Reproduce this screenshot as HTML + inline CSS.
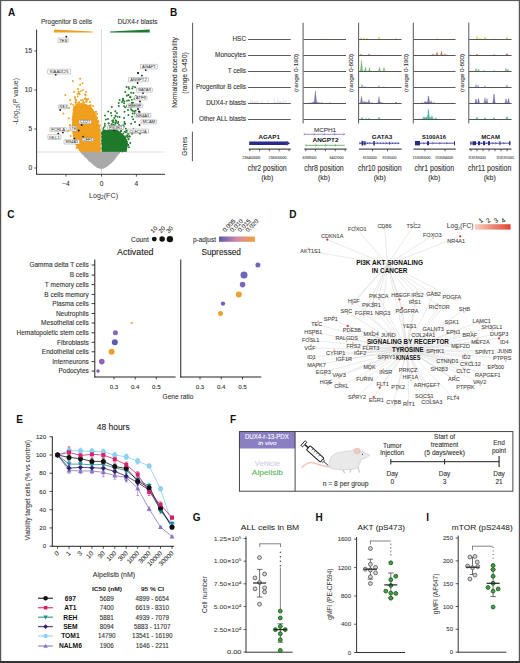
<!DOCTYPE html>
<html><head><meta charset="utf-8"><style>
html,body{margin:0;padding:0;background:#fff;}
svg{display:block;}
text{font-family:"Liberation Sans",sans-serif;}
</style></head><body>
<svg width="520" height="663" viewBox="0 0 520 663">
<rect x="0" y="0" width="520" height="663" fill="#fff"/>
<text x="8.00" y="16.20" font-size="10" fill="#111" font-weight="bold">A</text>
<text x="41.00" y="24.40" font-size="7.0" fill="#333" stroke="#333" stroke-width="0.1" textLength="51.00" lengthAdjust="spacingAndGlyphs">Progenitor B cells</text>
<text x="117.70" y="24.40" font-size="7.0" fill="#333" stroke="#333" stroke-width="0.1" textLength="39.80" lengthAdjust="spacingAndGlyphs">DUX4-r blasts</text>
<path d="M54.00,29.40 L92.50,31.60 L92.50,32.40 L54.00,32.40 Z" fill="#f0a01e" stroke="none" stroke-width="1"/>
<path d="M110.00,31.60 L149.70,29.40 L149.70,32.40 L110.00,32.40 Z" fill="#1f7a2c" stroke="none" stroke-width="1"/>
<line x1="101.50" y1="29.50" x2="101.50" y2="174.00" stroke="#9a9a9a" stroke-width="0.6" stroke-dasharray="1.2,0.8"/>
<path d="M80.00,152.00 L119.50,152.00 L118.50,154.50 L116.50,157.00 L114.50,160.00 L111.50,163.00 L108.00,166.00 L104.50,168.30 L101.00,169.00 L97.50,168.00 L94.00,165.50 L90.00,162.00 L86.50,158.50 L83.00,155.00 Z" fill="#a9a9a9" stroke="none" stroke-width="1"/>
<circle cx="92.95" cy="154.64" r="0.90" fill="#a9a9a9" stroke="none" stroke-width="0.5"/>
<circle cx="106.04" cy="153.27" r="0.90" fill="#a9a9a9" stroke="none" stroke-width="0.5"/>
<circle cx="101.44" cy="158.40" r="0.90" fill="#a9a9a9" stroke="none" stroke-width="0.5"/>
<circle cx="82.79" cy="153.59" r="0.90" fill="#a9a9a9" stroke="none" stroke-width="0.5"/>
<circle cx="96.98" cy="166.47" r="0.90" fill="#a9a9a9" stroke="none" stroke-width="0.5"/>
<circle cx="84.95" cy="155.91" r="0.90" fill="#a9a9a9" stroke="none" stroke-width="0.5"/>
<circle cx="103.08" cy="158.94" r="0.90" fill="#a9a9a9" stroke="none" stroke-width="0.5"/>
<circle cx="119.05" cy="152.82" r="0.90" fill="#a9a9a9" stroke="none" stroke-width="0.5"/>
<circle cx="114.34" cy="157.07" r="0.90" fill="#a9a9a9" stroke="none" stroke-width="0.5"/>
<circle cx="85.77" cy="154.06" r="0.90" fill="#a9a9a9" stroke="none" stroke-width="0.5"/>
<circle cx="105.56" cy="158.52" r="0.90" fill="#a9a9a9" stroke="none" stroke-width="0.5"/>
<circle cx="101.91" cy="153.10" r="0.90" fill="#a9a9a9" stroke="none" stroke-width="0.5"/>
<circle cx="107.22" cy="159.48" r="0.90" fill="#a9a9a9" stroke="none" stroke-width="0.5"/>
<circle cx="92.57" cy="162.25" r="0.90" fill="#a9a9a9" stroke="none" stroke-width="0.5"/>
<circle cx="98.13" cy="157.25" r="0.90" fill="#a9a9a9" stroke="none" stroke-width="0.5"/>
<circle cx="101.01" cy="167.31" r="0.90" fill="#a9a9a9" stroke="none" stroke-width="0.5"/>
<circle cx="109.18" cy="157.04" r="0.90" fill="#a9a9a9" stroke="none" stroke-width="0.5"/>
<circle cx="96.72" cy="165.25" r="0.90" fill="#a9a9a9" stroke="none" stroke-width="0.5"/>
<circle cx="107.81" cy="162.40" r="0.90" fill="#a9a9a9" stroke="none" stroke-width="0.5"/>
<circle cx="103.20" cy="159.98" r="0.90" fill="#a9a9a9" stroke="none" stroke-width="0.5"/>
<circle cx="98.96" cy="163.62" r="0.90" fill="#a9a9a9" stroke="none" stroke-width="0.5"/>
<circle cx="112.88" cy="156.98" r="0.90" fill="#a9a9a9" stroke="none" stroke-width="0.5"/>
<circle cx="95.43" cy="163.70" r="0.90" fill="#a9a9a9" stroke="none" stroke-width="0.5"/>
<circle cx="86.72" cy="154.05" r="0.90" fill="#a9a9a9" stroke="none" stroke-width="0.5"/>
<circle cx="85.17" cy="156.33" r="0.90" fill="#a9a9a9" stroke="none" stroke-width="0.5"/>
<circle cx="101.98" cy="167.46" r="0.90" fill="#a9a9a9" stroke="none" stroke-width="0.5"/>
<circle cx="91.14" cy="159.27" r="0.90" fill="#a9a9a9" stroke="none" stroke-width="0.5"/>
<circle cx="87.05" cy="156.06" r="0.90" fill="#a9a9a9" stroke="none" stroke-width="0.5"/>
<circle cx="89.33" cy="160.49" r="0.90" fill="#a9a9a9" stroke="none" stroke-width="0.5"/>
<circle cx="103.56" cy="156.60" r="0.90" fill="#a9a9a9" stroke="none" stroke-width="0.5"/>
<circle cx="94.77" cy="161.91" r="0.90" fill="#a9a9a9" stroke="none" stroke-width="0.5"/>
<circle cx="100.62" cy="162.81" r="0.90" fill="#a9a9a9" stroke="none" stroke-width="0.5"/>
<circle cx="107.05" cy="152.94" r="0.90" fill="#a9a9a9" stroke="none" stroke-width="0.5"/>
<circle cx="95.70" cy="158.98" r="0.90" fill="#a9a9a9" stroke="none" stroke-width="0.5"/>
<circle cx="82.49" cy="153.18" r="0.90" fill="#a9a9a9" stroke="none" stroke-width="0.5"/>
<circle cx="88.35" cy="154.84" r="0.90" fill="#a9a9a9" stroke="none" stroke-width="0.5"/>
<circle cx="93.60" cy="152.92" r="0.90" fill="#a9a9a9" stroke="none" stroke-width="0.5"/>
<circle cx="104.56" cy="154.60" r="0.90" fill="#a9a9a9" stroke="none" stroke-width="0.5"/>
<circle cx="90.09" cy="158.08" r="0.90" fill="#a9a9a9" stroke="none" stroke-width="0.5"/>
<circle cx="94.57" cy="154.15" r="0.90" fill="#a9a9a9" stroke="none" stroke-width="0.5"/>
<path d="M80.50,152.00 L76.00,146.00 L73.50,139.00 L72.30,132.00 L72.00,124.00 L72.30,116.00 L73.00,110.00 L74.50,106.00 L77.00,104.00 L80.00,103.50 L83.00,104.50 L86.00,104.00 L89.00,105.50 L92.00,108.00 L95.00,112.00 L97.00,117.00 L98.80,124.00 L100.50,130.00 L100.80,152.00 Z" fill="#f0a01e" stroke="none" stroke-width="1"/>
<circle cx="96.45" cy="151.67" r="0.90" fill="#f0a01e" stroke="none" stroke-width="0.5"/>
<circle cx="85.42" cy="126.97" r="0.90" fill="#f0a01e" stroke="none" stroke-width="0.5"/>
<circle cx="74.47" cy="108.46" r="0.90" fill="#f0a01e" stroke="none" stroke-width="0.5"/>
<circle cx="81.87" cy="116.34" r="0.90" fill="#f0a01e" stroke="none" stroke-width="0.5"/>
<circle cx="87.21" cy="110.61" r="0.90" fill="#f0a01e" stroke="none" stroke-width="0.5"/>
<circle cx="87.21" cy="150.96" r="0.90" fill="#f0a01e" stroke="none" stroke-width="0.5"/>
<circle cx="96.86" cy="137.27" r="0.90" fill="#f0a01e" stroke="none" stroke-width="0.5"/>
<circle cx="79.52" cy="121.28" r="0.90" fill="#f0a01e" stroke="none" stroke-width="0.5"/>
<circle cx="76.81" cy="140.94" r="0.90" fill="#f0a01e" stroke="none" stroke-width="0.5"/>
<circle cx="87.34" cy="141.28" r="0.90" fill="#f0a01e" stroke="none" stroke-width="0.5"/>
<circle cx="81.49" cy="114.32" r="0.90" fill="#f0a01e" stroke="none" stroke-width="0.5"/>
<circle cx="95.37" cy="151.27" r="0.90" fill="#f0a01e" stroke="none" stroke-width="0.5"/>
<circle cx="96.56" cy="142.59" r="0.90" fill="#f0a01e" stroke="none" stroke-width="0.5"/>
<circle cx="95.57" cy="139.38" r="0.90" fill="#f0a01e" stroke="none" stroke-width="0.5"/>
<circle cx="78.53" cy="128.61" r="0.90" fill="#f0a01e" stroke="none" stroke-width="0.5"/>
<circle cx="82.24" cy="104.91" r="0.90" fill="#f0a01e" stroke="none" stroke-width="0.5"/>
<circle cx="72.80" cy="117.05" r="0.90" fill="#f0a01e" stroke="none" stroke-width="0.5"/>
<circle cx="79.46" cy="137.09" r="0.90" fill="#f0a01e" stroke="none" stroke-width="0.5"/>
<circle cx="98.99" cy="151.42" r="0.90" fill="#f0a01e" stroke="none" stroke-width="0.5"/>
<circle cx="78.35" cy="114.50" r="0.90" fill="#f0a01e" stroke="none" stroke-width="0.5"/>
<circle cx="77.67" cy="113.41" r="0.90" fill="#f0a01e" stroke="none" stroke-width="0.5"/>
<circle cx="89.97" cy="147.16" r="0.90" fill="#f0a01e" stroke="none" stroke-width="0.5"/>
<circle cx="96.20" cy="126.75" r="0.90" fill="#f0a01e" stroke="none" stroke-width="0.5"/>
<circle cx="90.81" cy="142.28" r="0.90" fill="#f0a01e" stroke="none" stroke-width="0.5"/>
<circle cx="74.44" cy="135.54" r="0.90" fill="#f0a01e" stroke="none" stroke-width="0.5"/>
<circle cx="98.20" cy="141.44" r="0.90" fill="#f0a01e" stroke="none" stroke-width="0.5"/>
<circle cx="93.60" cy="126.68" r="0.90" fill="#f0a01e" stroke="none" stroke-width="0.5"/>
<circle cx="77.14" cy="141.77" r="0.90" fill="#f0a01e" stroke="none" stroke-width="0.5"/>
<circle cx="81.58" cy="142.34" r="0.90" fill="#f0a01e" stroke="none" stroke-width="0.5"/>
<circle cx="83.56" cy="149.42" r="0.90" fill="#f0a01e" stroke="none" stroke-width="0.5"/>
<circle cx="92.87" cy="111.75" r="0.90" fill="#f0a01e" stroke="none" stroke-width="0.5"/>
<circle cx="75.66" cy="110.83" r="0.90" fill="#f0a01e" stroke="none" stroke-width="0.5"/>
<circle cx="98.06" cy="142.62" r="0.90" fill="#f0a01e" stroke="none" stroke-width="0.5"/>
<circle cx="76.21" cy="143.59" r="0.90" fill="#f0a01e" stroke="none" stroke-width="0.5"/>
<circle cx="100.23" cy="135.38" r="0.90" fill="#f0a01e" stroke="none" stroke-width="0.5"/>
<circle cx="82.09" cy="130.11" r="0.90" fill="#f0a01e" stroke="none" stroke-width="0.5"/>
<circle cx="99.96" cy="135.01" r="0.90" fill="#f0a01e" stroke="none" stroke-width="0.5"/>
<circle cx="87.17" cy="148.78" r="0.90" fill="#f0a01e" stroke="none" stroke-width="0.5"/>
<circle cx="84.49" cy="145.78" r="0.90" fill="#f0a01e" stroke="none" stroke-width="0.5"/>
<circle cx="79.25" cy="117.71" r="0.90" fill="#f0a01e" stroke="none" stroke-width="0.5"/>
<circle cx="78.93" cy="131.94" r="0.90" fill="#f0a01e" stroke="none" stroke-width="0.5"/>
<circle cx="79.47" cy="123.82" r="0.90" fill="#f0a01e" stroke="none" stroke-width="0.5"/>
<circle cx="82.19" cy="125.72" r="0.90" fill="#f0a01e" stroke="none" stroke-width="0.5"/>
<circle cx="88.80" cy="147.36" r="0.90" fill="#f0a01e" stroke="none" stroke-width="0.5"/>
<circle cx="84.11" cy="148.01" r="0.90" fill="#f0a01e" stroke="none" stroke-width="0.5"/>
<circle cx="86.45" cy="129.29" r="0.90" fill="#f0a01e" stroke="none" stroke-width="0.5"/>
<circle cx="84.68" cy="112.38" r="0.90" fill="#f0a01e" stroke="none" stroke-width="0.5"/>
<circle cx="76.96" cy="126.46" r="0.90" fill="#f0a01e" stroke="none" stroke-width="0.5"/>
<circle cx="92.89" cy="130.49" r="0.90" fill="#f0a01e" stroke="none" stroke-width="0.5"/>
<circle cx="81.39" cy="128.64" r="0.90" fill="#f0a01e" stroke="none" stroke-width="0.5"/>
<circle cx="88.00" cy="141.54" r="0.90" fill="#f0a01e" stroke="none" stroke-width="0.5"/>
<circle cx="75.06" cy="130.67" r="0.90" fill="#f0a01e" stroke="none" stroke-width="0.5"/>
<circle cx="79.16" cy="116.93" r="0.90" fill="#f0a01e" stroke="none" stroke-width="0.5"/>
<circle cx="94.24" cy="128.12" r="0.90" fill="#f0a01e" stroke="none" stroke-width="0.5"/>
<circle cx="88.18" cy="140.36" r="0.90" fill="#f0a01e" stroke="none" stroke-width="0.5"/>
<circle cx="98.28" cy="125.00" r="0.90" fill="#f0a01e" stroke="none" stroke-width="0.5"/>
<circle cx="89.64" cy="128.02" r="0.90" fill="#f0a01e" stroke="none" stroke-width="0.5"/>
<circle cx="86.75" cy="137.10" r="0.90" fill="#f0a01e" stroke="none" stroke-width="0.5"/>
<circle cx="85.03" cy="129.36" r="0.90" fill="#f0a01e" stroke="none" stroke-width="0.5"/>
<circle cx="85.77" cy="149.16" r="0.90" fill="#f0a01e" stroke="none" stroke-width="0.5"/>
<circle cx="92.14" cy="146.01" r="0.90" fill="#f0a01e" stroke="none" stroke-width="0.5"/>
<circle cx="88.11" cy="149.25" r="0.90" fill="#f0a01e" stroke="none" stroke-width="0.5"/>
<circle cx="75.50" cy="124.94" r="0.90" fill="#f0a01e" stroke="none" stroke-width="0.5"/>
<circle cx="74.09" cy="115.17" r="0.90" fill="#f0a01e" stroke="none" stroke-width="0.5"/>
<circle cx="74.11" cy="135.97" r="0.90" fill="#f0a01e" stroke="none" stroke-width="0.5"/>
<circle cx="94.58" cy="147.01" r="0.90" fill="#f0a01e" stroke="none" stroke-width="0.5"/>
<circle cx="76.45" cy="138.23" r="0.90" fill="#f0a01e" stroke="none" stroke-width="0.5"/>
<circle cx="91.02" cy="110.43" r="0.90" fill="#f0a01e" stroke="none" stroke-width="0.5"/>
<circle cx="97.43" cy="150.43" r="0.90" fill="#f0a01e" stroke="none" stroke-width="0.5"/>
<circle cx="83.47" cy="127.13" r="0.90" fill="#f0a01e" stroke="none" stroke-width="0.5"/>
<circle cx="100.51" cy="143.87" r="0.90" fill="#f0a01e" stroke="none" stroke-width="0.5"/>
<circle cx="76.65" cy="124.43" r="0.90" fill="#f0a01e" stroke="none" stroke-width="0.5"/>
<circle cx="86.85" cy="119.95" r="0.90" fill="#f0a01e" stroke="none" stroke-width="0.5"/>
<circle cx="77.64" cy="118.95" r="0.90" fill="#f0a01e" stroke="none" stroke-width="0.5"/>
<circle cx="87.96" cy="124.86" r="0.90" fill="#f0a01e" stroke="none" stroke-width="0.5"/>
<circle cx="72.52" cy="119.58" r="0.90" fill="#f0a01e" stroke="none" stroke-width="0.5"/>
<circle cx="89.97" cy="128.34" r="0.90" fill="#f0a01e" stroke="none" stroke-width="0.5"/>
<circle cx="94.70" cy="150.63" r="0.90" fill="#f0a01e" stroke="none" stroke-width="0.5"/>
<circle cx="75.02" cy="116.38" r="0.90" fill="#f0a01e" stroke="none" stroke-width="0.5"/>
<circle cx="79.79" cy="109.78" r="0.90" fill="#f0a01e" stroke="none" stroke-width="0.5"/>
<circle cx="84.16" cy="147.70" r="0.90" fill="#f0a01e" stroke="none" stroke-width="0.5"/>
<circle cx="95.59" cy="116.04" r="0.90" fill="#f0a01e" stroke="none" stroke-width="0.5"/>
<circle cx="88.43" cy="137.47" r="0.90" fill="#f0a01e" stroke="none" stroke-width="0.5"/>
<circle cx="74.58" cy="106.29" r="0.90" fill="#f0a01e" stroke="none" stroke-width="0.5"/>
<circle cx="91.82" cy="124.13" r="0.90" fill="#f0a01e" stroke="none" stroke-width="0.5"/>
<circle cx="90.27" cy="142.38" r="0.90" fill="#f0a01e" stroke="none" stroke-width="0.5"/>
<circle cx="85.07" cy="119.95" r="0.90" fill="#f0a01e" stroke="none" stroke-width="0.5"/>
<circle cx="87.93" cy="148.44" r="0.90" fill="#f0a01e" stroke="none" stroke-width="0.5"/>
<circle cx="79.71" cy="109.77" r="0.90" fill="#f0a01e" stroke="none" stroke-width="0.5"/>
<circle cx="87.18" cy="115.06" r="0.90" fill="#f0a01e" stroke="none" stroke-width="0.5"/>
<circle cx="75.15" cy="111.33" r="0.90" fill="#f0a01e" stroke="none" stroke-width="0.5"/>
<circle cx="73.45" cy="113.29" r="0.90" fill="#f0a01e" stroke="none" stroke-width="0.5"/>
<circle cx="80.99" cy="118.29" r="0.90" fill="#f0a01e" stroke="none" stroke-width="0.5"/>
<circle cx="93.87" cy="117.56" r="0.90" fill="#f0a01e" stroke="none" stroke-width="0.5"/>
<circle cx="86.40" cy="112.13" r="0.90" fill="#f0a01e" stroke="none" stroke-width="0.5"/>
<circle cx="81.99" cy="104.38" r="0.90" fill="#f0a01e" stroke="none" stroke-width="0.5"/>
<circle cx="79.21" cy="104.24" r="0.90" fill="#f0a01e" stroke="none" stroke-width="0.5"/>
<circle cx="93.11" cy="130.23" r="0.90" fill="#f0a01e" stroke="none" stroke-width="0.5"/>
<circle cx="77.46" cy="126.53" r="0.90" fill="#f0a01e" stroke="none" stroke-width="0.5"/>
<circle cx="95.58" cy="124.46" r="0.90" fill="#f0a01e" stroke="none" stroke-width="0.5"/>
<circle cx="86.26" cy="143.98" r="0.90" fill="#f0a01e" stroke="none" stroke-width="0.5"/>
<circle cx="83.32" cy="128.07" r="0.90" fill="#f0a01e" stroke="none" stroke-width="0.5"/>
<circle cx="91.81" cy="151.15" r="0.90" fill="#f0a01e" stroke="none" stroke-width="0.5"/>
<circle cx="81.87" cy="143.87" r="0.90" fill="#f0a01e" stroke="none" stroke-width="0.5"/>
<circle cx="92.35" cy="134.34" r="0.90" fill="#f0a01e" stroke="none" stroke-width="0.5"/>
<circle cx="83.66" cy="120.36" r="0.90" fill="#f0a01e" stroke="none" stroke-width="0.5"/>
<circle cx="73.57" cy="109.80" r="0.90" fill="#f0a01e" stroke="none" stroke-width="0.5"/>
<circle cx="74.04" cy="139.43" r="0.90" fill="#f0a01e" stroke="none" stroke-width="0.5"/>
<circle cx="79.36" cy="111.42" r="0.90" fill="#f0a01e" stroke="none" stroke-width="0.5"/>
<circle cx="97.07" cy="136.02" r="0.90" fill="#f0a01e" stroke="none" stroke-width="0.5"/>
<circle cx="80.12" cy="115.25" r="0.90" fill="#f0a01e" stroke="none" stroke-width="0.5"/>
<circle cx="80.44" cy="125.78" r="0.90" fill="#f0a01e" stroke="none" stroke-width="0.5"/>
<circle cx="76.54" cy="125.12" r="0.90" fill="#f0a01e" stroke="none" stroke-width="0.5"/>
<circle cx="79.58" cy="150.15" r="0.90" fill="#f0a01e" stroke="none" stroke-width="0.5"/>
<circle cx="100.01" cy="130.03" r="0.90" fill="#f0a01e" stroke="none" stroke-width="0.5"/>
<circle cx="80.91" cy="120.79" r="0.90" fill="#f0a01e" stroke="none" stroke-width="0.5"/>
<circle cx="85.67" cy="127.88" r="0.90" fill="#f0a01e" stroke="none" stroke-width="0.5"/>
<circle cx="77.79" cy="127.98" r="0.90" fill="#f0a01e" stroke="none" stroke-width="0.5"/>
<circle cx="74.58" cy="122.88" r="0.90" fill="#f0a01e" stroke="none" stroke-width="0.5"/>
<circle cx="80.76" cy="114.79" r="0.90" fill="#f0a01e" stroke="none" stroke-width="0.5"/>
<circle cx="88.86" cy="129.17" r="0.90" fill="#f0a01e" stroke="none" stroke-width="0.5"/>
<circle cx="93.62" cy="135.39" r="0.90" fill="#f0a01e" stroke="none" stroke-width="0.5"/>
<circle cx="92.62" cy="146.14" r="0.90" fill="#f0a01e" stroke="none" stroke-width="0.5"/>
<circle cx="83.22" cy="119.32" r="0.90" fill="#f0a01e" stroke="none" stroke-width="0.5"/>
<circle cx="92.86" cy="134.70" r="0.90" fill="#f0a01e" stroke="none" stroke-width="0.5"/>
<circle cx="97.69" cy="133.93" r="0.90" fill="#f0a01e" stroke="none" stroke-width="0.5"/>
<circle cx="93.13" cy="142.89" r="0.90" fill="#f0a01e" stroke="none" stroke-width="0.5"/>
<circle cx="76.01" cy="128.90" r="0.90" fill="#f0a01e" stroke="none" stroke-width="0.5"/>
<circle cx="86.53" cy="143.99" r="0.90" fill="#f0a01e" stroke="none" stroke-width="0.5"/>
<circle cx="95.17" cy="143.58" r="0.90" fill="#f0a01e" stroke="none" stroke-width="0.5"/>
<circle cx="88.82" cy="146.80" r="0.90" fill="#f0a01e" stroke="none" stroke-width="0.5"/>
<circle cx="91.67" cy="137.13" r="0.90" fill="#f0a01e" stroke="none" stroke-width="0.5"/>
<circle cx="78.62" cy="105.01" r="0.90" fill="#f0a01e" stroke="none" stroke-width="0.5"/>
<circle cx="75.83" cy="120.99" r="0.90" fill="#f0a01e" stroke="none" stroke-width="0.5"/>
<circle cx="88.09" cy="133.95" r="0.90" fill="#f0a01e" stroke="none" stroke-width="0.5"/>
<circle cx="90.04" cy="136.51" r="0.90" fill="#f0a01e" stroke="none" stroke-width="0.5"/>
<circle cx="94.97" cy="139.79" r="0.90" fill="#f0a01e" stroke="none" stroke-width="0.5"/>
<circle cx="86.49" cy="129.46" r="0.90" fill="#f0a01e" stroke="none" stroke-width="0.5"/>
<circle cx="93.22" cy="115.73" r="0.90" fill="#f0a01e" stroke="none" stroke-width="0.5"/>
<circle cx="74.14" cy="116.38" r="0.90" fill="#f0a01e" stroke="none" stroke-width="0.5"/>
<circle cx="93.00" cy="113.45" r="0.90" fill="#f0a01e" stroke="none" stroke-width="0.5"/>
<circle cx="93.31" cy="150.82" r="0.90" fill="#f0a01e" stroke="none" stroke-width="0.5"/>
<circle cx="86.23" cy="122.05" r="0.90" fill="#f0a01e" stroke="none" stroke-width="0.5"/>
<circle cx="85.80" cy="136.66" r="0.90" fill="#f0a01e" stroke="none" stroke-width="0.5"/>
<circle cx="94.09" cy="133.42" r="0.90" fill="#f0a01e" stroke="none" stroke-width="0.5"/>
<circle cx="90.51" cy="107.26" r="0.90" fill="#f0a01e" stroke="none" stroke-width="0.5"/>
<circle cx="76.25" cy="115.82" r="0.90" fill="#f0a01e" stroke="none" stroke-width="0.5"/>
<circle cx="93.40" cy="118.26" r="0.90" fill="#f0a01e" stroke="none" stroke-width="0.5"/>
<circle cx="73.75" cy="116.54" r="0.90" fill="#f0a01e" stroke="none" stroke-width="0.5"/>
<circle cx="91.35" cy="137.07" r="0.90" fill="#f0a01e" stroke="none" stroke-width="0.5"/>
<circle cx="91.46" cy="117.61" r="0.90" fill="#f0a01e" stroke="none" stroke-width="0.5"/>
<circle cx="86.88" cy="126.04" r="0.90" fill="#f0a01e" stroke="none" stroke-width="0.5"/>
<circle cx="85.43" cy="109.25" r="0.90" fill="#f0a01e" stroke="none" stroke-width="0.5"/>
<circle cx="100.17" cy="148.91" r="0.90" fill="#f0a01e" stroke="none" stroke-width="0.5"/>
<circle cx="72.50" cy="125.76" r="0.90" fill="#f0a01e" stroke="none" stroke-width="0.5"/>
<circle cx="95.61" cy="150.45" r="0.90" fill="#f0a01e" stroke="none" stroke-width="0.5"/>
<circle cx="84.94" cy="116.53" r="0.90" fill="#f0a01e" stroke="none" stroke-width="0.5"/>
<circle cx="78.07" cy="131.70" r="0.90" fill="#f0a01e" stroke="none" stroke-width="0.5"/>
<circle cx="76.08" cy="128.92" r="0.90" fill="#f0a01e" stroke="none" stroke-width="0.5"/>
<circle cx="95.62" cy="128.17" r="0.90" fill="#f0a01e" stroke="none" stroke-width="0.5"/>
<circle cx="97.54" cy="137.61" r="0.90" fill="#f0a01e" stroke="none" stroke-width="0.5"/>
<circle cx="78.66" cy="147.04" r="0.90" fill="#f0a01e" stroke="none" stroke-width="0.5"/>
<circle cx="86.00" cy="104.70" r="0.90" fill="#f0a01e" stroke="none" stroke-width="0.5"/>
<circle cx="84.98" cy="118.14" r="0.90" fill="#f0a01e" stroke="none" stroke-width="0.5"/>
<circle cx="76.05" cy="120.18" r="0.90" fill="#f0a01e" stroke="none" stroke-width="0.5"/>
<circle cx="81.10" cy="144.25" r="0.90" fill="#f0a01e" stroke="none" stroke-width="0.5"/>
<circle cx="98.68" cy="138.08" r="0.90" fill="#f0a01e" stroke="none" stroke-width="0.5"/>
<circle cx="82.72" cy="122.56" r="0.90" fill="#f0a01e" stroke="none" stroke-width="0.5"/>
<circle cx="82.39" cy="124.26" r="0.90" fill="#f0a01e" stroke="none" stroke-width="0.5"/>
<circle cx="79.92" cy="105.84" r="0.90" fill="#f0a01e" stroke="none" stroke-width="0.5"/>
<circle cx="80.23" cy="148.88" r="0.90" fill="#f0a01e" stroke="none" stroke-width="0.5"/>
<circle cx="79.18" cy="116.39" r="0.90" fill="#f0a01e" stroke="none" stroke-width="0.5"/>
<circle cx="86.72" cy="112.71" r="0.90" fill="#f0a01e" stroke="none" stroke-width="0.5"/>
<circle cx="82.75" cy="149.87" r="0.90" fill="#f0a01e" stroke="none" stroke-width="0.5"/>
<circle cx="97.47" cy="142.88" r="0.90" fill="#f0a01e" stroke="none" stroke-width="0.5"/>
<circle cx="90.17" cy="147.80" r="0.90" fill="#f0a01e" stroke="none" stroke-width="0.5"/>
<circle cx="99.09" cy="130.14" r="0.90" fill="#f0a01e" stroke="none" stroke-width="0.5"/>
<circle cx="93.09" cy="125.37" r="0.90" fill="#f0a01e" stroke="none" stroke-width="0.5"/>
<circle cx="93.68" cy="134.76" r="0.90" fill="#f0a01e" stroke="none" stroke-width="0.5"/>
<circle cx="80.24" cy="105.88" r="0.90" fill="#f0a01e" stroke="none" stroke-width="0.5"/>
<circle cx="85.60" cy="120.17" r="0.90" fill="#f0a01e" stroke="none" stroke-width="0.5"/>
<circle cx="80.58" cy="139.34" r="0.90" fill="#f0a01e" stroke="none" stroke-width="0.5"/>
<circle cx="90.89" cy="118.09" r="0.90" fill="#f0a01e" stroke="none" stroke-width="0.5"/>
<circle cx="88.05" cy="122.63" r="0.90" fill="#f0a01e" stroke="none" stroke-width="0.5"/>
<circle cx="76.82" cy="111.34" r="0.90" fill="#f0a01e" stroke="none" stroke-width="0.5"/>
<circle cx="77.99" cy="147.44" r="0.90" fill="#f0a01e" stroke="none" stroke-width="0.5"/>
<circle cx="86.32" cy="114.17" r="0.90" fill="#f0a01e" stroke="none" stroke-width="0.5"/>
<circle cx="98.10" cy="151.83" r="0.90" fill="#f0a01e" stroke="none" stroke-width="0.5"/>
<circle cx="84.96" cy="110.27" r="0.90" fill="#f0a01e" stroke="none" stroke-width="0.5"/>
<circle cx="77.54" cy="107.90" r="0.90" fill="#f0a01e" stroke="none" stroke-width="0.5"/>
<circle cx="81.85" cy="107.92" r="0.90" fill="#f0a01e" stroke="none" stroke-width="0.5"/>
<circle cx="78.89" cy="116.03" r="0.90" fill="#f0a01e" stroke="none" stroke-width="0.5"/>
<circle cx="88.40" cy="146.53" r="0.90" fill="#f0a01e" stroke="none" stroke-width="0.5"/>
<circle cx="93.59" cy="123.52" r="0.90" fill="#f0a01e" stroke="none" stroke-width="0.5"/>
<circle cx="83.92" cy="128.92" r="0.90" fill="#f0a01e" stroke="none" stroke-width="0.5"/>
<circle cx="82.85" cy="119.90" r="0.90" fill="#f0a01e" stroke="none" stroke-width="0.5"/>
<circle cx="73.79" cy="116.96" r="0.90" fill="#f0a01e" stroke="none" stroke-width="0.5"/>
<circle cx="86.50" cy="134.04" r="0.90" fill="#f0a01e" stroke="none" stroke-width="0.5"/>
<circle cx="79.81" cy="115.55" r="0.90" fill="#f0a01e" stroke="none" stroke-width="0.5"/>
<circle cx="83.51" cy="125.12" r="0.90" fill="#f0a01e" stroke="none" stroke-width="0.5"/>
<circle cx="99.66" cy="132.43" r="0.95" fill="#f0a01e" stroke="none" stroke-width="0.5"/>
<circle cx="95.94" cy="132.77" r="0.95" fill="#f0a01e" stroke="none" stroke-width="0.5"/>
<circle cx="75.16" cy="97.72" r="0.95" fill="#f0a01e" stroke="none" stroke-width="0.5"/>
<circle cx="99.30" cy="126.09" r="0.95" fill="#f0a01e" stroke="none" stroke-width="0.5"/>
<circle cx="90.72" cy="105.19" r="0.95" fill="#f0a01e" stroke="none" stroke-width="0.5"/>
<circle cx="75.71" cy="102.59" r="0.95" fill="#f0a01e" stroke="none" stroke-width="0.5"/>
<circle cx="83.25" cy="101.18" r="0.95" fill="#f0a01e" stroke="none" stroke-width="0.5"/>
<circle cx="78.81" cy="102.35" r="0.95" fill="#f0a01e" stroke="none" stroke-width="0.5"/>
<circle cx="99.86" cy="125.23" r="0.95" fill="#f0a01e" stroke="none" stroke-width="0.5"/>
<circle cx="80.91" cy="91.09" r="0.95" fill="#f0a01e" stroke="none" stroke-width="0.5"/>
<circle cx="84.18" cy="102.86" r="0.95" fill="#f0a01e" stroke="none" stroke-width="0.5"/>
<circle cx="78.58" cy="91.70" r="0.95" fill="#f0a01e" stroke="none" stroke-width="0.5"/>
<circle cx="95.11" cy="126.96" r="0.95" fill="#f0a01e" stroke="none" stroke-width="0.5"/>
<circle cx="86.64" cy="100.26" r="0.95" fill="#f0a01e" stroke="none" stroke-width="0.5"/>
<circle cx="86.38" cy="99.37" r="0.95" fill="#f0a01e" stroke="none" stroke-width="0.5"/>
<circle cx="73.74" cy="109.67" r="0.95" fill="#f0a01e" stroke="none" stroke-width="0.5"/>
<circle cx="98.05" cy="134.18" r="0.95" fill="#f0a01e" stroke="none" stroke-width="0.5"/>
<circle cx="91.27" cy="108.93" r="0.95" fill="#f0a01e" stroke="none" stroke-width="0.5"/>
<circle cx="82.84" cy="106.58" r="0.95" fill="#f0a01e" stroke="none" stroke-width="0.5"/>
<circle cx="80.11" cy="107.57" r="0.95" fill="#f0a01e" stroke="none" stroke-width="0.5"/>
<circle cx="95.84" cy="111.62" r="0.95" fill="#f0a01e" stroke="none" stroke-width="0.5"/>
<circle cx="77.60" cy="108.21" r="0.95" fill="#f0a01e" stroke="none" stroke-width="0.5"/>
<circle cx="81.83" cy="103.62" r="0.95" fill="#f0a01e" stroke="none" stroke-width="0.5"/>
<circle cx="81.18" cy="103.78" r="0.95" fill="#f0a01e" stroke="none" stroke-width="0.5"/>
<circle cx="98.58" cy="121.70" r="0.95" fill="#f0a01e" stroke="none" stroke-width="0.5"/>
<circle cx="99.75" cy="137.70" r="0.95" fill="#f0a01e" stroke="none" stroke-width="0.5"/>
<circle cx="83.21" cy="102.55" r="0.95" fill="#f0a01e" stroke="none" stroke-width="0.5"/>
<circle cx="95.27" cy="126.92" r="0.95" fill="#f0a01e" stroke="none" stroke-width="0.5"/>
<circle cx="95.86" cy="128.64" r="0.95" fill="#f0a01e" stroke="none" stroke-width="0.5"/>
<circle cx="89.61" cy="106.39" r="0.95" fill="#f0a01e" stroke="none" stroke-width="0.5"/>
<circle cx="81.27" cy="108.09" r="0.95" fill="#f0a01e" stroke="none" stroke-width="0.5"/>
<circle cx="79.17" cy="93.24" r="0.95" fill="#f0a01e" stroke="none" stroke-width="0.5"/>
<circle cx="79.68" cy="94.20" r="0.95" fill="#f0a01e" stroke="none" stroke-width="0.5"/>
<circle cx="92.58" cy="112.35" r="0.95" fill="#f0a01e" stroke="none" stroke-width="0.5"/>
<circle cx="88.44" cy="108.65" r="0.95" fill="#f0a01e" stroke="none" stroke-width="0.5"/>
<circle cx="79.18" cy="102.27" r="0.95" fill="#f0a01e" stroke="none" stroke-width="0.5"/>
<circle cx="88.77" cy="106.32" r="0.95" fill="#f0a01e" stroke="none" stroke-width="0.5"/>
<circle cx="86.71" cy="101.57" r="0.95" fill="#f0a01e" stroke="none" stroke-width="0.5"/>
<circle cx="95.44" cy="122.67" r="0.95" fill="#f0a01e" stroke="none" stroke-width="0.5"/>
<circle cx="96.38" cy="135.72" r="0.95" fill="#f0a01e" stroke="none" stroke-width="0.5"/>
<circle cx="73.17" cy="104.68" r="0.95" fill="#f0a01e" stroke="none" stroke-width="0.5"/>
<circle cx="75.46" cy="99.48" r="0.95" fill="#f0a01e" stroke="none" stroke-width="0.5"/>
<circle cx="76.10" cy="100.20" r="0.95" fill="#f0a01e" stroke="none" stroke-width="0.5"/>
<circle cx="81.05" cy="100.17" r="0.95" fill="#f0a01e" stroke="none" stroke-width="0.5"/>
<circle cx="95.06" cy="117.40" r="0.95" fill="#f0a01e" stroke="none" stroke-width="0.5"/>
<circle cx="83.88" cy="104.17" r="0.95" fill="#f0a01e" stroke="none" stroke-width="0.5"/>
<circle cx="82.55" cy="99.86" r="0.95" fill="#f0a01e" stroke="none" stroke-width="0.5"/>
<circle cx="85.37" cy="98.13" r="0.95" fill="#f0a01e" stroke="none" stroke-width="0.5"/>
<circle cx="76.23" cy="104.16" r="0.95" fill="#f0a01e" stroke="none" stroke-width="0.5"/>
<circle cx="77.72" cy="96.33" r="0.95" fill="#f0a01e" stroke="none" stroke-width="0.5"/>
<circle cx="98.22" cy="121.02" r="0.95" fill="#f0a01e" stroke="none" stroke-width="0.5"/>
<circle cx="87.02" cy="109.18" r="0.95" fill="#f0a01e" stroke="none" stroke-width="0.5"/>
<circle cx="75.57" cy="102.35" r="0.95" fill="#f0a01e" stroke="none" stroke-width="0.5"/>
<circle cx="89.39" cy="117.50" r="0.95" fill="#f0a01e" stroke="none" stroke-width="0.5"/>
<circle cx="90.18" cy="105.31" r="0.95" fill="#f0a01e" stroke="none" stroke-width="0.5"/>
<circle cx="86.20" cy="101.76" r="0.95" fill="#f0a01e" stroke="none" stroke-width="0.5"/>
<circle cx="94.14" cy="129.00" r="0.95" fill="#f0a01e" stroke="none" stroke-width="0.5"/>
<circle cx="85.29" cy="98.98" r="0.95" fill="#f0a01e" stroke="none" stroke-width="0.5"/>
<circle cx="85.72" cy="95.35" r="0.95" fill="#f0a01e" stroke="none" stroke-width="0.5"/>
<circle cx="93.27" cy="128.88" r="0.95" fill="#f0a01e" stroke="none" stroke-width="0.5"/>
<circle cx="86.61" cy="108.89" r="0.95" fill="#f0a01e" stroke="none" stroke-width="0.5"/>
<circle cx="73.90" cy="107.54" r="0.95" fill="#f0a01e" stroke="none" stroke-width="0.5"/>
<circle cx="78.04" cy="103.14" r="0.95" fill="#f0a01e" stroke="none" stroke-width="0.5"/>
<circle cx="86.67" cy="105.95" r="0.95" fill="#f0a01e" stroke="none" stroke-width="0.5"/>
<circle cx="90.45" cy="107.99" r="0.95" fill="#f0a01e" stroke="none" stroke-width="0.5"/>
<circle cx="97.32" cy="117.76" r="0.95" fill="#f0a01e" stroke="none" stroke-width="0.5"/>
<circle cx="90.26" cy="109.71" r="0.95" fill="#f0a01e" stroke="none" stroke-width="0.5"/>
<circle cx="84.83" cy="98.84" r="0.95" fill="#f0a01e" stroke="none" stroke-width="0.5"/>
<circle cx="89.87" cy="111.61" r="0.95" fill="#f0a01e" stroke="none" stroke-width="0.5"/>
<circle cx="75.83" cy="101.36" r="0.95" fill="#f0a01e" stroke="none" stroke-width="0.5"/>
<circle cx="72.90" cy="80.90" r="1.00" fill="#f0a01e" stroke="none" stroke-width="0.5"/>
<circle cx="80.10" cy="78.80" r="1.00" fill="#f0a01e" stroke="none" stroke-width="0.5"/>
<circle cx="82.40" cy="83.30" r="1.00" fill="#f0a01e" stroke="none" stroke-width="0.5"/>
<circle cx="80.10" cy="84.70" r="1.00" fill="#f0a01e" stroke="none" stroke-width="0.5"/>
<circle cx="65.40" cy="95.10" r="1.00" fill="#f0a01e" stroke="none" stroke-width="0.5"/>
<circle cx="63.40" cy="113.50" r="1.00" fill="#f0a01e" stroke="none" stroke-width="0.5"/>
<circle cx="68.80" cy="118.20" r="1.00" fill="#f0a01e" stroke="none" stroke-width="0.5"/>
<circle cx="85.10" cy="94.50" r="1.00" fill="#f0a01e" stroke="none" stroke-width="0.5"/>
<circle cx="77.70" cy="93.80" r="1.00" fill="#f0a01e" stroke="none" stroke-width="0.5"/>
<circle cx="75.00" cy="97.20" r="1.00" fill="#f0a01e" stroke="none" stroke-width="0.5"/>
<circle cx="70.00" cy="100.00" r="1.00" fill="#f0a01e" stroke="none" stroke-width="0.5"/>
<circle cx="88.00" cy="99.00" r="1.00" fill="#f0a01e" stroke="none" stroke-width="0.5"/>
<circle cx="90.00" cy="102.00" r="1.00" fill="#f0a01e" stroke="none" stroke-width="0.5"/>
<circle cx="93.00" cy="106.00" r="1.00" fill="#f0a01e" stroke="none" stroke-width="0.5"/>
<circle cx="69.00" cy="108.00" r="1.00" fill="#f0a01e" stroke="none" stroke-width="0.5"/>
<circle cx="70.00" cy="125.00" r="1.00" fill="#f0a01e" stroke="none" stroke-width="0.5"/>
<circle cx="68.00" cy="131.00" r="1.00" fill="#f0a01e" stroke="none" stroke-width="0.5"/>
<circle cx="96.00" cy="112.00" r="1.00" fill="#f0a01e" stroke="none" stroke-width="0.5"/>
<circle cx="74.00" cy="92.00" r="1.00" fill="#f0a01e" stroke="none" stroke-width="0.5"/>
<circle cx="83.00" cy="90.00" r="1.00" fill="#f0a01e" stroke="none" stroke-width="0.5"/>
<circle cx="86.00" cy="92.00" r="1.00" fill="#f0a01e" stroke="none" stroke-width="0.5"/>
<circle cx="78.00" cy="89.00" r="1.00" fill="#f0a01e" stroke="none" stroke-width="0.5"/>
<circle cx="71.00" cy="104.00" r="1.00" fill="#f0a01e" stroke="none" stroke-width="0.5"/>
<circle cx="97.00" cy="114.00" r="1.00" fill="#f0a01e" stroke="none" stroke-width="0.5"/>
<circle cx="70.50" cy="136.00" r="1.00" fill="#f0a01e" stroke="none" stroke-width="0.5"/>
<circle cx="73.00" cy="143.00" r="1.00" fill="#f0a01e" stroke="none" stroke-width="0.5"/>
<circle cx="76.50" cy="148.00" r="1.00" fill="#f0a01e" stroke="none" stroke-width="0.5"/>
<path d="M101.80,152.00 L101.80,131.00 L104.00,129.50 L107.00,130.00 L110.00,128.50 L113.00,129.50 L116.00,129.00 L119.00,131.00 L121.00,133.00 L124.00,135.00 L126.50,139.00 L128.00,143.00 L127.50,147.00 L126.50,152.00 Z" fill="#1f7a2c" stroke="none" stroke-width="1"/>
<circle cx="101.87" cy="136.84" r="0.90" fill="#1f7a2c" stroke="none" stroke-width="0.5"/>
<circle cx="104.59" cy="136.89" r="0.90" fill="#1f7a2c" stroke="none" stroke-width="0.5"/>
<circle cx="107.68" cy="142.21" r="0.90" fill="#1f7a2c" stroke="none" stroke-width="0.5"/>
<circle cx="117.23" cy="133.30" r="0.90" fill="#1f7a2c" stroke="none" stroke-width="0.5"/>
<circle cx="118.15" cy="139.66" r="0.90" fill="#1f7a2c" stroke="none" stroke-width="0.5"/>
<circle cx="105.33" cy="150.51" r="0.90" fill="#1f7a2c" stroke="none" stroke-width="0.5"/>
<circle cx="108.18" cy="132.01" r="0.90" fill="#1f7a2c" stroke="none" stroke-width="0.5"/>
<circle cx="104.31" cy="143.50" r="0.90" fill="#1f7a2c" stroke="none" stroke-width="0.5"/>
<circle cx="124.63" cy="146.88" r="0.90" fill="#1f7a2c" stroke="none" stroke-width="0.5"/>
<circle cx="112.33" cy="134.71" r="0.90" fill="#1f7a2c" stroke="none" stroke-width="0.5"/>
<circle cx="102.10" cy="143.66" r="0.90" fill="#1f7a2c" stroke="none" stroke-width="0.5"/>
<circle cx="116.53" cy="136.73" r="0.90" fill="#1f7a2c" stroke="none" stroke-width="0.5"/>
<circle cx="118.71" cy="138.93" r="0.90" fill="#1f7a2c" stroke="none" stroke-width="0.5"/>
<circle cx="126.35" cy="145.74" r="0.90" fill="#1f7a2c" stroke="none" stroke-width="0.5"/>
<circle cx="108.31" cy="149.73" r="0.90" fill="#1f7a2c" stroke="none" stroke-width="0.5"/>
<circle cx="102.95" cy="140.99" r="0.90" fill="#1f7a2c" stroke="none" stroke-width="0.5"/>
<circle cx="112.44" cy="134.09" r="0.90" fill="#1f7a2c" stroke="none" stroke-width="0.5"/>
<circle cx="103.33" cy="146.80" r="0.90" fill="#1f7a2c" stroke="none" stroke-width="0.5"/>
<circle cx="102.12" cy="141.45" r="0.90" fill="#1f7a2c" stroke="none" stroke-width="0.5"/>
<circle cx="107.03" cy="142.79" r="0.90" fill="#1f7a2c" stroke="none" stroke-width="0.5"/>
<circle cx="115.08" cy="143.58" r="0.90" fill="#1f7a2c" stroke="none" stroke-width="0.5"/>
<circle cx="109.91" cy="135.56" r="0.90" fill="#1f7a2c" stroke="none" stroke-width="0.5"/>
<circle cx="103.07" cy="149.40" r="0.90" fill="#1f7a2c" stroke="none" stroke-width="0.5"/>
<circle cx="122.31" cy="145.31" r="0.90" fill="#1f7a2c" stroke="none" stroke-width="0.5"/>
<circle cx="101.97" cy="148.34" r="0.90" fill="#1f7a2c" stroke="none" stroke-width="0.5"/>
<circle cx="121.32" cy="139.43" r="0.90" fill="#1f7a2c" stroke="none" stroke-width="0.5"/>
<circle cx="121.23" cy="139.13" r="0.90" fill="#1f7a2c" stroke="none" stroke-width="0.5"/>
<circle cx="107.72" cy="130.97" r="0.90" fill="#1f7a2c" stroke="none" stroke-width="0.5"/>
<circle cx="110.59" cy="146.12" r="0.90" fill="#1f7a2c" stroke="none" stroke-width="0.5"/>
<circle cx="120.01" cy="148.37" r="0.90" fill="#1f7a2c" stroke="none" stroke-width="0.5"/>
<circle cx="120.45" cy="134.75" r="0.90" fill="#1f7a2c" stroke="none" stroke-width="0.5"/>
<circle cx="116.31" cy="138.75" r="0.90" fill="#1f7a2c" stroke="none" stroke-width="0.5"/>
<circle cx="122.46" cy="140.80" r="0.90" fill="#1f7a2c" stroke="none" stroke-width="0.5"/>
<circle cx="108.75" cy="143.59" r="0.90" fill="#1f7a2c" stroke="none" stroke-width="0.5"/>
<circle cx="108.62" cy="134.05" r="0.90" fill="#1f7a2c" stroke="none" stroke-width="0.5"/>
<circle cx="121.29" cy="150.70" r="0.90" fill="#1f7a2c" stroke="none" stroke-width="0.5"/>
<circle cx="121.35" cy="136.18" r="0.90" fill="#1f7a2c" stroke="none" stroke-width="0.5"/>
<circle cx="108.07" cy="149.83" r="0.90" fill="#1f7a2c" stroke="none" stroke-width="0.5"/>
<circle cx="118.32" cy="144.78" r="0.90" fill="#1f7a2c" stroke="none" stroke-width="0.5"/>
<circle cx="119.23" cy="151.51" r="0.90" fill="#1f7a2c" stroke="none" stroke-width="0.5"/>
<circle cx="114.10" cy="148.23" r="0.90" fill="#1f7a2c" stroke="none" stroke-width="0.5"/>
<circle cx="120.08" cy="148.65" r="0.90" fill="#1f7a2c" stroke="none" stroke-width="0.5"/>
<circle cx="113.26" cy="145.53" r="0.90" fill="#1f7a2c" stroke="none" stroke-width="0.5"/>
<circle cx="116.74" cy="135.73" r="0.90" fill="#1f7a2c" stroke="none" stroke-width="0.5"/>
<circle cx="107.35" cy="143.13" r="0.90" fill="#1f7a2c" stroke="none" stroke-width="0.5"/>
<circle cx="103.84" cy="149.90" r="0.90" fill="#1f7a2c" stroke="none" stroke-width="0.5"/>
<circle cx="104.59" cy="150.33" r="0.90" fill="#1f7a2c" stroke="none" stroke-width="0.5"/>
<circle cx="110.84" cy="131.83" r="0.90" fill="#1f7a2c" stroke="none" stroke-width="0.5"/>
<circle cx="119.95" cy="143.40" r="0.90" fill="#1f7a2c" stroke="none" stroke-width="0.5"/>
<circle cx="120.06" cy="145.81" r="0.90" fill="#1f7a2c" stroke="none" stroke-width="0.5"/>
<circle cx="103.52" cy="142.38" r="0.90" fill="#1f7a2c" stroke="none" stroke-width="0.5"/>
<circle cx="111.32" cy="147.71" r="0.90" fill="#1f7a2c" stroke="none" stroke-width="0.5"/>
<circle cx="123.27" cy="149.45" r="0.90" fill="#1f7a2c" stroke="none" stroke-width="0.5"/>
<circle cx="103.53" cy="148.89" r="0.90" fill="#1f7a2c" stroke="none" stroke-width="0.5"/>
<circle cx="125.76" cy="150.69" r="0.90" fill="#1f7a2c" stroke="none" stroke-width="0.5"/>
<circle cx="104.61" cy="133.33" r="0.90" fill="#1f7a2c" stroke="none" stroke-width="0.5"/>
<circle cx="124.01" cy="147.58" r="0.90" fill="#1f7a2c" stroke="none" stroke-width="0.5"/>
<circle cx="118.42" cy="147.89" r="0.90" fill="#1f7a2c" stroke="none" stroke-width="0.5"/>
<circle cx="118.35" cy="135.25" r="0.90" fill="#1f7a2c" stroke="none" stroke-width="0.5"/>
<circle cx="104.42" cy="130.80" r="0.90" fill="#1f7a2c" stroke="none" stroke-width="0.5"/>
<circle cx="110.16" cy="138.46" r="0.90" fill="#1f7a2c" stroke="none" stroke-width="0.5"/>
<circle cx="102.35" cy="134.53" r="0.90" fill="#1f7a2c" stroke="none" stroke-width="0.5"/>
<circle cx="109.20" cy="145.32" r="0.90" fill="#1f7a2c" stroke="none" stroke-width="0.5"/>
<circle cx="111.44" cy="136.04" r="0.90" fill="#1f7a2c" stroke="none" stroke-width="0.5"/>
<circle cx="124.11" cy="143.03" r="0.90" fill="#1f7a2c" stroke="none" stroke-width="0.5"/>
<circle cx="102.61" cy="138.20" r="0.90" fill="#1f7a2c" stroke="none" stroke-width="0.5"/>
<circle cx="113.23" cy="146.67" r="0.90" fill="#1f7a2c" stroke="none" stroke-width="0.5"/>
<circle cx="110.89" cy="145.06" r="0.90" fill="#1f7a2c" stroke="none" stroke-width="0.5"/>
<circle cx="115.89" cy="133.59" r="0.90" fill="#1f7a2c" stroke="none" stroke-width="0.5"/>
<circle cx="101.83" cy="133.25" r="0.90" fill="#1f7a2c" stroke="none" stroke-width="0.5"/>
<circle cx="121.77" cy="151.48" r="0.90" fill="#1f7a2c" stroke="none" stroke-width="0.5"/>
<circle cx="101.91" cy="140.03" r="0.90" fill="#1f7a2c" stroke="none" stroke-width="0.5"/>
<circle cx="114.68" cy="147.22" r="0.90" fill="#1f7a2c" stroke="none" stroke-width="0.5"/>
<circle cx="106.63" cy="140.12" r="0.90" fill="#1f7a2c" stroke="none" stroke-width="0.5"/>
<circle cx="110.90" cy="148.05" r="0.90" fill="#1f7a2c" stroke="none" stroke-width="0.5"/>
<circle cx="108.63" cy="150.68" r="0.90" fill="#1f7a2c" stroke="none" stroke-width="0.5"/>
<circle cx="109.23" cy="133.55" r="0.90" fill="#1f7a2c" stroke="none" stroke-width="0.5"/>
<circle cx="120.13" cy="140.21" r="0.90" fill="#1f7a2c" stroke="none" stroke-width="0.5"/>
<circle cx="104.68" cy="143.46" r="0.90" fill="#1f7a2c" stroke="none" stroke-width="0.5"/>
<circle cx="103.92" cy="147.02" r="0.90" fill="#1f7a2c" stroke="none" stroke-width="0.5"/>
<circle cx="120.07" cy="146.99" r="0.90" fill="#1f7a2c" stroke="none" stroke-width="0.5"/>
<circle cx="118.25" cy="136.86" r="0.90" fill="#1f7a2c" stroke="none" stroke-width="0.5"/>
<circle cx="112.31" cy="137.77" r="0.90" fill="#1f7a2c" stroke="none" stroke-width="0.5"/>
<circle cx="107.20" cy="134.69" r="0.90" fill="#1f7a2c" stroke="none" stroke-width="0.5"/>
<circle cx="125.41" cy="140.28" r="0.90" fill="#1f7a2c" stroke="none" stroke-width="0.5"/>
<circle cx="111.74" cy="149.27" r="0.90" fill="#1f7a2c" stroke="none" stroke-width="0.5"/>
<circle cx="107.92" cy="139.33" r="0.90" fill="#1f7a2c" stroke="none" stroke-width="0.5"/>
<circle cx="115.73" cy="146.23" r="0.90" fill="#1f7a2c" stroke="none" stroke-width="0.5"/>
<circle cx="121.53" cy="143.69" r="0.90" fill="#1f7a2c" stroke="none" stroke-width="0.5"/>
<circle cx="110.93" cy="136.18" r="0.90" fill="#1f7a2c" stroke="none" stroke-width="0.5"/>
<circle cx="105.87" cy="148.31" r="0.90" fill="#1f7a2c" stroke="none" stroke-width="0.5"/>
<circle cx="119.15" cy="145.94" r="0.90" fill="#1f7a2c" stroke="none" stroke-width="0.5"/>
<circle cx="106.24" cy="138.81" r="0.90" fill="#1f7a2c" stroke="none" stroke-width="0.5"/>
<circle cx="122.06" cy="142.11" r="0.90" fill="#1f7a2c" stroke="none" stroke-width="0.5"/>
<circle cx="105.10" cy="139.36" r="0.90" fill="#1f7a2c" stroke="none" stroke-width="0.5"/>
<circle cx="106.82" cy="135.59" r="0.90" fill="#1f7a2c" stroke="none" stroke-width="0.5"/>
<circle cx="120.22" cy="148.33" r="0.90" fill="#1f7a2c" stroke="none" stroke-width="0.5"/>
<circle cx="105.85" cy="132.17" r="0.90" fill="#1f7a2c" stroke="none" stroke-width="0.5"/>
<circle cx="108.29" cy="136.17" r="0.90" fill="#1f7a2c" stroke="none" stroke-width="0.5"/>
<circle cx="115.48" cy="132.28" r="0.90" fill="#1f7a2c" stroke="none" stroke-width="0.5"/>
<circle cx="111.38" cy="125.25" r="0.95" fill="#1f7a2c" stroke="none" stroke-width="0.5"/>
<circle cx="130.27" cy="143.05" r="0.95" fill="#1f7a2c" stroke="none" stroke-width="0.5"/>
<circle cx="104.77" cy="131.68" r="0.95" fill="#1f7a2c" stroke="none" stroke-width="0.5"/>
<circle cx="123.21" cy="133.35" r="0.95" fill="#1f7a2c" stroke="none" stroke-width="0.5"/>
<circle cx="104.92" cy="125.81" r="0.95" fill="#1f7a2c" stroke="none" stroke-width="0.5"/>
<circle cx="113.14" cy="120.12" r="0.95" fill="#1f7a2c" stroke="none" stroke-width="0.5"/>
<circle cx="122.05" cy="135.52" r="0.95" fill="#1f7a2c" stroke="none" stroke-width="0.5"/>
<circle cx="120.27" cy="134.29" r="0.95" fill="#1f7a2c" stroke="none" stroke-width="0.5"/>
<circle cx="128.31" cy="133.19" r="0.95" fill="#1f7a2c" stroke="none" stroke-width="0.5"/>
<circle cx="114.10" cy="126.54" r="0.95" fill="#1f7a2c" stroke="none" stroke-width="0.5"/>
<circle cx="126.69" cy="141.43" r="0.95" fill="#1f7a2c" stroke="none" stroke-width="0.5"/>
<circle cx="120.53" cy="133.98" r="0.95" fill="#1f7a2c" stroke="none" stroke-width="0.5"/>
<circle cx="124.65" cy="142.53" r="0.95" fill="#1f7a2c" stroke="none" stroke-width="0.5"/>
<circle cx="120.18" cy="127.25" r="0.95" fill="#1f7a2c" stroke="none" stroke-width="0.5"/>
<circle cx="114.17" cy="134.02" r="0.95" fill="#1f7a2c" stroke="none" stroke-width="0.5"/>
<circle cx="119.95" cy="132.51" r="0.95" fill="#1f7a2c" stroke="none" stroke-width="0.5"/>
<circle cx="124.52" cy="131.83" r="0.95" fill="#1f7a2c" stroke="none" stroke-width="0.5"/>
<circle cx="129.27" cy="136.13" r="0.95" fill="#1f7a2c" stroke="none" stroke-width="0.5"/>
<circle cx="126.01" cy="136.22" r="0.95" fill="#1f7a2c" stroke="none" stroke-width="0.5"/>
<circle cx="112.18" cy="120.87" r="0.95" fill="#1f7a2c" stroke="none" stroke-width="0.5"/>
<circle cx="109.81" cy="132.19" r="0.95" fill="#1f7a2c" stroke="none" stroke-width="0.5"/>
<circle cx="112.08" cy="127.75" r="0.95" fill="#1f7a2c" stroke="none" stroke-width="0.5"/>
<circle cx="129.25" cy="136.39" r="0.95" fill="#1f7a2c" stroke="none" stroke-width="0.5"/>
<circle cx="113.25" cy="126.00" r="0.95" fill="#1f7a2c" stroke="none" stroke-width="0.5"/>
<circle cx="125.44" cy="139.93" r="0.95" fill="#1f7a2c" stroke="none" stroke-width="0.5"/>
<circle cx="125.71" cy="145.93" r="0.95" fill="#1f7a2c" stroke="none" stroke-width="0.5"/>
<circle cx="115.47" cy="128.71" r="0.95" fill="#1f7a2c" stroke="none" stroke-width="0.5"/>
<circle cx="117.81" cy="123.13" r="0.95" fill="#1f7a2c" stroke="none" stroke-width="0.5"/>
<circle cx="126.15" cy="130.71" r="0.95" fill="#1f7a2c" stroke="none" stroke-width="0.5"/>
<circle cx="112.78" cy="127.37" r="0.95" fill="#1f7a2c" stroke="none" stroke-width="0.5"/>
<circle cx="114.24" cy="125.13" r="0.95" fill="#1f7a2c" stroke="none" stroke-width="0.5"/>
<circle cx="110.01" cy="127.08" r="0.95" fill="#1f7a2c" stroke="none" stroke-width="0.5"/>
<circle cx="121.05" cy="130.96" r="0.95" fill="#1f7a2c" stroke="none" stroke-width="0.5"/>
<circle cx="128.92" cy="147.20" r="0.95" fill="#1f7a2c" stroke="none" stroke-width="0.5"/>
<circle cx="128.25" cy="144.87" r="0.95" fill="#1f7a2c" stroke="none" stroke-width="0.5"/>
<circle cx="120.95" cy="127.25" r="0.95" fill="#1f7a2c" stroke="none" stroke-width="0.5"/>
<circle cx="104.76" cy="123.71" r="0.95" fill="#1f7a2c" stroke="none" stroke-width="0.5"/>
<circle cx="111.92" cy="124.04" r="0.95" fill="#1f7a2c" stroke="none" stroke-width="0.5"/>
<circle cx="128.20" cy="145.13" r="0.95" fill="#1f7a2c" stroke="none" stroke-width="0.5"/>
<circle cx="118.01" cy="127.73" r="0.95" fill="#1f7a2c" stroke="none" stroke-width="0.5"/>
<circle cx="108.64" cy="123.60" r="0.95" fill="#1f7a2c" stroke="none" stroke-width="0.5"/>
<circle cx="116.20" cy="120.93" r="0.95" fill="#1f7a2c" stroke="none" stroke-width="0.5"/>
<circle cx="115.44" cy="123.77" r="0.95" fill="#1f7a2c" stroke="none" stroke-width="0.5"/>
<circle cx="116.15" cy="135.44" r="0.95" fill="#1f7a2c" stroke="none" stroke-width="0.5"/>
<circle cx="112.75" cy="132.82" r="0.95" fill="#1f7a2c" stroke="none" stroke-width="0.5"/>
<circle cx="116.71" cy="134.99" r="0.95" fill="#1f7a2c" stroke="none" stroke-width="0.5"/>
<circle cx="112.49" cy="134.66" r="0.95" fill="#1f7a2c" stroke="none" stroke-width="0.5"/>
<circle cx="107.95" cy="133.36" r="0.95" fill="#1f7a2c" stroke="none" stroke-width="0.5"/>
<circle cx="125.94" cy="128.67" r="0.95" fill="#1f7a2c" stroke="none" stroke-width="0.5"/>
<circle cx="125.97" cy="132.32" r="0.95" fill="#1f7a2c" stroke="none" stroke-width="0.5"/>
<circle cx="116.51" cy="127.97" r="0.95" fill="#1f7a2c" stroke="none" stroke-width="0.5"/>
<circle cx="111.46" cy="129.46" r="0.95" fill="#1f7a2c" stroke="none" stroke-width="0.5"/>
<circle cx="127.66" cy="137.00" r="0.95" fill="#1f7a2c" stroke="none" stroke-width="0.5"/>
<circle cx="103.25" cy="128.91" r="0.95" fill="#1f7a2c" stroke="none" stroke-width="0.5"/>
<circle cx="128.71" cy="139.09" r="0.95" fill="#1f7a2c" stroke="none" stroke-width="0.5"/>
<circle cx="128.37" cy="139.19" r="0.95" fill="#1f7a2c" stroke="none" stroke-width="0.5"/>
<circle cx="122.13" cy="138.68" r="0.95" fill="#1f7a2c" stroke="none" stroke-width="0.5"/>
<circle cx="121.68" cy="126.01" r="0.95" fill="#1f7a2c" stroke="none" stroke-width="0.5"/>
<circle cx="121.28" cy="134.11" r="0.95" fill="#1f7a2c" stroke="none" stroke-width="0.5"/>
<circle cx="120.95" cy="131.17" r="0.95" fill="#1f7a2c" stroke="none" stroke-width="0.5"/>
<circle cx="125.82" cy="144.96" r="0.95" fill="#1f7a2c" stroke="none" stroke-width="0.5"/>
<circle cx="118.21" cy="127.51" r="0.95" fill="#1f7a2c" stroke="none" stroke-width="0.5"/>
<circle cx="110.62" cy="132.92" r="0.95" fill="#1f7a2c" stroke="none" stroke-width="0.5"/>
<circle cx="111.10" cy="133.21" r="0.95" fill="#1f7a2c" stroke="none" stroke-width="0.5"/>
<circle cx="125.46" cy="137.99" r="0.95" fill="#1f7a2c" stroke="none" stroke-width="0.5"/>
<circle cx="128.62" cy="133.73" r="0.95" fill="#1f7a2c" stroke="none" stroke-width="0.5"/>
<circle cx="113.84" cy="122.37" r="0.95" fill="#1f7a2c" stroke="none" stroke-width="0.5"/>
<circle cx="120.62" cy="126.01" r="0.95" fill="#1f7a2c" stroke="none" stroke-width="0.5"/>
<circle cx="122.81" cy="126.99" r="0.95" fill="#1f7a2c" stroke="none" stroke-width="0.5"/>
<circle cx="123.22" cy="125.18" r="0.95" fill="#1f7a2c" stroke="none" stroke-width="0.5"/>
<circle cx="103.86" cy="127.35" r="0.95" fill="#1f7a2c" stroke="none" stroke-width="0.5"/>
<circle cx="128.40" cy="131.91" r="0.95" fill="#1f7a2c" stroke="none" stroke-width="0.5"/>
<circle cx="129.00" cy="88.72" r="0.95" fill="#1f7a2c" stroke="none" stroke-width="0.5"/>
<circle cx="125.26" cy="123.72" r="0.95" fill="#1f7a2c" stroke="none" stroke-width="0.5"/>
<circle cx="132.24" cy="88.46" r="0.95" fill="#1f7a2c" stroke="none" stroke-width="0.5"/>
<circle cx="113.51" cy="124.85" r="0.95" fill="#1f7a2c" stroke="none" stroke-width="0.5"/>
<circle cx="115.60" cy="116.20" r="0.95" fill="#1f7a2c" stroke="none" stroke-width="0.5"/>
<circle cx="118.23" cy="121.91" r="0.95" fill="#1f7a2c" stroke="none" stroke-width="0.5"/>
<circle cx="115.44" cy="120.11" r="0.95" fill="#1f7a2c" stroke="none" stroke-width="0.5"/>
<circle cx="125.30" cy="107.41" r="0.95" fill="#1f7a2c" stroke="none" stroke-width="0.5"/>
<circle cx="122.97" cy="100.37" r="0.95" fill="#1f7a2c" stroke="none" stroke-width="0.5"/>
<circle cx="128.02" cy="130.33" r="0.95" fill="#1f7a2c" stroke="none" stroke-width="0.5"/>
<circle cx="114.29" cy="117.93" r="0.95" fill="#1f7a2c" stroke="none" stroke-width="0.5"/>
<circle cx="124.24" cy="101.28" r="0.95" fill="#1f7a2c" stroke="none" stroke-width="0.5"/>
<circle cx="115.94" cy="122.35" r="0.95" fill="#1f7a2c" stroke="none" stroke-width="0.5"/>
<circle cx="131.88" cy="99.87" r="0.95" fill="#1f7a2c" stroke="none" stroke-width="0.5"/>
<circle cx="117.63" cy="116.85" r="0.95" fill="#1f7a2c" stroke="none" stroke-width="0.5"/>
<circle cx="132.19" cy="133.70" r="0.95" fill="#1f7a2c" stroke="none" stroke-width="0.5"/>
<circle cx="132.03" cy="132.56" r="0.95" fill="#1f7a2c" stroke="none" stroke-width="0.5"/>
<circle cx="123.16" cy="99.34" r="0.95" fill="#1f7a2c" stroke="none" stroke-width="0.5"/>
<circle cx="133.49" cy="129.19" r="0.95" fill="#1f7a2c" stroke="none" stroke-width="0.5"/>
<circle cx="127.33" cy="135.17" r="0.95" fill="#1f7a2c" stroke="none" stroke-width="0.5"/>
<circle cx="122.49" cy="128.65" r="0.95" fill="#1f7a2c" stroke="none" stroke-width="0.5"/>
<circle cx="109.42" cy="126.01" r="0.95" fill="#1f7a2c" stroke="none" stroke-width="0.5"/>
<circle cx="136.47" cy="97.11" r="0.95" fill="#1f7a2c" stroke="none" stroke-width="0.5"/>
<circle cx="124.46" cy="121.95" r="0.95" fill="#1f7a2c" stroke="none" stroke-width="0.5"/>
<circle cx="111.43" cy="126.06" r="0.95" fill="#1f7a2c" stroke="none" stroke-width="0.5"/>
<circle cx="131.29" cy="109.74" r="0.95" fill="#1f7a2c" stroke="none" stroke-width="0.5"/>
<circle cx="130.57" cy="97.04" r="0.95" fill="#1f7a2c" stroke="none" stroke-width="0.5"/>
<circle cx="134.75" cy="113.22" r="0.95" fill="#1f7a2c" stroke="none" stroke-width="0.5"/>
<circle cx="119.63" cy="117.00" r="0.95" fill="#1f7a2c" stroke="none" stroke-width="0.5"/>
<circle cx="108.69" cy="123.26" r="0.95" fill="#1f7a2c" stroke="none" stroke-width="0.5"/>
<circle cx="115.42" cy="115.61" r="0.95" fill="#1f7a2c" stroke="none" stroke-width="0.5"/>
<circle cx="116.89" cy="112.96" r="0.95" fill="#1f7a2c" stroke="none" stroke-width="0.5"/>
<circle cx="105.93" cy="119.43" r="0.95" fill="#1f7a2c" stroke="none" stroke-width="0.5"/>
<circle cx="131.13" cy="92.74" r="0.95" fill="#1f7a2c" stroke="none" stroke-width="0.5"/>
<circle cx="124.10" cy="103.32" r="0.95" fill="#1f7a2c" stroke="none" stroke-width="0.5"/>
<circle cx="134.05" cy="111.23" r="0.95" fill="#1f7a2c" stroke="none" stroke-width="0.5"/>
<circle cx="122.99" cy="98.65" r="0.95" fill="#1f7a2c" stroke="none" stroke-width="0.5"/>
<circle cx="130.83" cy="107.85" r="0.95" fill="#1f7a2c" stroke="none" stroke-width="0.5"/>
<circle cx="124.13" cy="106.25" r="0.95" fill="#1f7a2c" stroke="none" stroke-width="0.5"/>
<circle cx="111.52" cy="115.61" r="0.95" fill="#1f7a2c" stroke="none" stroke-width="0.5"/>
<circle cx="126.78" cy="106.01" r="0.95" fill="#1f7a2c" stroke="none" stroke-width="0.5"/>
<circle cx="132.98" cy="86.63" r="0.95" fill="#1f7a2c" stroke="none" stroke-width="0.5"/>
<circle cx="131.10" cy="123.74" r="0.95" fill="#1f7a2c" stroke="none" stroke-width="0.5"/>
<circle cx="129.93" cy="136.61" r="0.95" fill="#1f7a2c" stroke="none" stroke-width="0.5"/>
<circle cx="127.04" cy="100.73" r="0.95" fill="#1f7a2c" stroke="none" stroke-width="0.5"/>
<circle cx="123.88" cy="126.44" r="0.95" fill="#1f7a2c" stroke="none" stroke-width="0.5"/>
<circle cx="128.54" cy="94.93" r="0.95" fill="#1f7a2c" stroke="none" stroke-width="0.5"/>
<circle cx="133.16" cy="119.19" r="0.95" fill="#1f7a2c" stroke="none" stroke-width="0.5"/>
<circle cx="118.74" cy="103.03" r="0.95" fill="#1f7a2c" stroke="none" stroke-width="0.5"/>
<circle cx="132.45" cy="110.74" r="0.95" fill="#1f7a2c" stroke="none" stroke-width="0.5"/>
<circle cx="125.24" cy="92.00" r="0.95" fill="#1f7a2c" stroke="none" stroke-width="0.5"/>
<circle cx="128.41" cy="114.99" r="0.95" fill="#1f7a2c" stroke="none" stroke-width="0.5"/>
<circle cx="111.86" cy="107.06" r="0.95" fill="#1f7a2c" stroke="none" stroke-width="0.5"/>
<circle cx="133.06" cy="102.73" r="0.95" fill="#1f7a2c" stroke="none" stroke-width="0.5"/>
<circle cx="108.21" cy="111.50" r="0.95" fill="#1f7a2c" stroke="none" stroke-width="0.5"/>
<circle cx="126.73" cy="95.82" r="0.95" fill="#1f7a2c" stroke="none" stroke-width="0.5"/>
<circle cx="119.67" cy="100.03" r="0.95" fill="#1f7a2c" stroke="none" stroke-width="0.5"/>
<circle cx="135.16" cy="87.22" r="0.95" fill="#1f7a2c" stroke="none" stroke-width="0.5"/>
<circle cx="128.88" cy="100.44" r="0.95" fill="#1f7a2c" stroke="none" stroke-width="0.5"/>
<circle cx="131.86" cy="103.09" r="0.95" fill="#1f7a2c" stroke="none" stroke-width="0.5"/>
<circle cx="132.79" cy="113.49" r="0.95" fill="#1f7a2c" stroke="none" stroke-width="0.5"/>
<circle cx="135.74" cy="96.22" r="0.95" fill="#1f7a2c" stroke="none" stroke-width="0.5"/>
<circle cx="108.66" cy="127.14" r="0.95" fill="#1f7a2c" stroke="none" stroke-width="0.5"/>
<circle cx="128.33" cy="95.02" r="0.95" fill="#1f7a2c" stroke="none" stroke-width="0.5"/>
<circle cx="124.52" cy="111.75" r="0.95" fill="#1f7a2c" stroke="none" stroke-width="0.5"/>
<circle cx="124.66" cy="123.63" r="0.95" fill="#1f7a2c" stroke="none" stroke-width="0.5"/>
<circle cx="132.03" cy="116.64" r="0.95" fill="#1f7a2c" stroke="none" stroke-width="0.5"/>
<circle cx="129.11" cy="106.85" r="0.95" fill="#1f7a2c" stroke="none" stroke-width="0.5"/>
<circle cx="128.70" cy="87.10" r="0.95" fill="#1f7a2c" stroke="none" stroke-width="0.5"/>
<circle cx="131.99" cy="102.77" r="0.95" fill="#1f7a2c" stroke="none" stroke-width="0.5"/>
<circle cx="133.15" cy="132.41" r="0.95" fill="#1f7a2c" stroke="none" stroke-width="0.5"/>
<circle cx="135.68" cy="110.69" r="0.95" fill="#1f7a2c" stroke="none" stroke-width="0.5"/>
<circle cx="134.26" cy="98.91" r="0.95" fill="#1f7a2c" stroke="none" stroke-width="0.5"/>
<circle cx="105.00" cy="115.50" r="1.00" fill="#1f7a2c" stroke="none" stroke-width="0.5"/>
<circle cx="111.00" cy="112.90" r="1.00" fill="#1f7a2c" stroke="none" stroke-width="0.5"/>
<circle cx="115.30" cy="111.20" r="1.00" fill="#1f7a2c" stroke="none" stroke-width="0.5"/>
<circle cx="118.80" cy="106.00" r="1.00" fill="#1f7a2c" stroke="none" stroke-width="0.5"/>
<circle cx="126.60" cy="86.90" r="1.00" fill="#1f7a2c" stroke="none" stroke-width="0.5"/>
<circle cx="130.00" cy="97.30" r="1.00" fill="#1f7a2c" stroke="none" stroke-width="0.5"/>
<circle cx="133.50" cy="93.00" r="1.00" fill="#1f7a2c" stroke="none" stroke-width="0.5"/>
<circle cx="137.90" cy="73.00" r="1.00" fill="#1f7a2c" stroke="none" stroke-width="0.5"/>
<circle cx="139.60" cy="112.00" r="1.00" fill="#1f7a2c" stroke="none" stroke-width="0.5"/>
<circle cx="122.00" cy="102.00" r="1.00" fill="#1f7a2c" stroke="none" stroke-width="0.5"/>
<circle cx="128.00" cy="110.00" r="1.00" fill="#1f7a2c" stroke="none" stroke-width="0.5"/>
<circle cx="135.00" cy="122.00" r="1.00" fill="#1f7a2c" stroke="none" stroke-width="0.5"/>
<circle cx="132.00" cy="130.00" r="1.00" fill="#1f7a2c" stroke="none" stroke-width="0.5"/>
<circle cx="124.00" cy="118.00" r="1.00" fill="#1f7a2c" stroke="none" stroke-width="0.5"/>
<circle cx="119.00" cy="125.00" r="1.00" fill="#1f7a2c" stroke="none" stroke-width="0.5"/>
<circle cx="113.00" cy="122.00" r="1.00" fill="#1f7a2c" stroke="none" stroke-width="0.5"/>
<circle cx="108.00" cy="119.00" r="1.00" fill="#1f7a2c" stroke="none" stroke-width="0.5"/>
<line x1="37.00" y1="152.00" x2="165.00" y2="152.00" stroke="#aaa" stroke-width="0.6" stroke-dasharray="1.2,0.8"/>
<circle cx="66.30" cy="36.70" r="0.90" fill="#111" stroke="none" stroke-width="0.5"/>
<circle cx="55.70" cy="74.70" r="0.90" fill="#111" stroke="none" stroke-width="0.5"/>
<circle cx="60.20" cy="110.00" r="0.90" fill="#111" stroke="none" stroke-width="0.5"/>
<circle cx="62.90" cy="132.50" r="0.90" fill="#111" stroke="none" stroke-width="0.5"/>
<circle cx="58.30" cy="133.70" r="0.90" fill="#111" stroke="none" stroke-width="0.5"/>
<circle cx="78.75" cy="130.50" r="0.90" fill="#111" stroke="none" stroke-width="0.5"/>
<circle cx="74.40" cy="138.60" r="0.90" fill="#111" stroke="none" stroke-width="0.5"/>
<circle cx="81.70" cy="125.00" r="0.90" fill="#111" stroke="none" stroke-width="0.5"/>
<circle cx="83.10" cy="136.60" r="0.90" fill="#111" stroke="none" stroke-width="0.5"/>
<circle cx="145.70" cy="70.10" r="0.90" fill="#111" stroke="none" stroke-width="0.5"/>
<circle cx="141.90" cy="75.60" r="0.90" fill="#111" stroke="none" stroke-width="0.5"/>
<circle cx="143.00" cy="93.00" r="0.90" fill="#111" stroke="none" stroke-width="0.5"/>
<circle cx="140.00" cy="101.50" r="0.90" fill="#111" stroke="none" stroke-width="0.5"/>
<circle cx="138.00" cy="109.00" r="0.90" fill="#111" stroke="none" stroke-width="0.5"/>
<circle cx="139.00" cy="111.50" r="0.90" fill="#111" stroke="none" stroke-width="0.5"/>
<circle cx="139.50" cy="125.00" r="0.90" fill="#111" stroke="none" stroke-width="0.5"/>
<circle cx="114.00" cy="130.00" r="0.90" fill="#111" stroke="none" stroke-width="0.5"/>
<circle cx="140.00" cy="133.50" r="0.90" fill="#111" stroke="none" stroke-width="0.5"/>
<circle cx="138.10" cy="73.00" r="0.90" fill="#111" stroke="none" stroke-width="0.5"/>
<circle cx="137.60" cy="83.00" r="0.90" fill="#111" stroke="none" stroke-width="0.5"/>
<circle cx="145.00" cy="90.00" r="0.90" fill="#111" stroke="none" stroke-width="0.5"/>
<circle cx="140.00" cy="97.00" r="0.90" fill="#111" stroke="none" stroke-width="0.5"/>
<rect x="58.00" y="38.00" width="10.30" height="4.40" fill="#fff" stroke="#8a8a8a" stroke-width="0.45" rx="0.6"/>
<text x="63.15" y="41.60" font-size="3.9" fill="#444" stroke="#444" stroke-width="0.05" text-anchor="middle" textLength="8.45" lengthAdjust="spacingAndGlyphs">TES</text>
<rect x="47.60" y="69.20" width="23.00" height="4.80" fill="#fff" stroke="#8a8a8a" stroke-width="0.45" rx="0.6"/>
<text x="59.10" y="73.20" font-size="3.9" fill="#444" stroke="#444" stroke-width="0.05" text-anchor="middle" textLength="18.86" lengthAdjust="spacingAndGlyphs">KIAA0125</text>
<rect x="58.60" y="104.80" width="9.20" height="4.00" fill="#fff" stroke="#8a8a8a" stroke-width="0.45" rx="0.6"/>
<text x="63.20" y="108.00" font-size="3.9" fill="#444" stroke="#444" stroke-width="0.05" text-anchor="middle" textLength="7.54" lengthAdjust="spacingAndGlyphs">IGJ</text>
<rect x="49.80" y="127.70" width="16.90" height="4.00" fill="#fff" stroke="#8a8a8a" stroke-width="0.45" rx="0.6"/>
<text x="58.25" y="130.90" font-size="3.9" fill="#444" stroke="#444" stroke-width="0.05" text-anchor="middle" textLength="13.86" lengthAdjust="spacingAndGlyphs">FCRLA</text>
<rect x="47.90" y="134.80" width="13.00" height="4.60" fill="#fff" stroke="#8a8a8a" stroke-width="0.45" rx="0.6"/>
<text x="54.40" y="138.60" font-size="3.9" fill="#444" stroke="#444" stroke-width="0.05" text-anchor="middle" textLength="10.66" lengthAdjust="spacingAndGlyphs">IGLL1</text>
<rect x="69.20" y="126.20" width="7.50" height="4.80" fill="#fff" stroke="#8a8a8a" stroke-width="0.45" rx="0.6"/>
<text x="72.95" y="130.20" font-size="3.9" fill="#444" stroke="#444" stroke-width="0.05" text-anchor="middle" textLength="6.15" lengthAdjust="spacingAndGlyphs">LTB</text>
<rect x="64.00" y="139.80" width="15.60" height="4.20" fill="#fff" stroke="#8a8a8a" stroke-width="0.45" rx="0.6"/>
<text x="71.80" y="143.20" font-size="3.9" fill="#444" stroke="#444" stroke-width="0.05" text-anchor="middle" textLength="12.79" lengthAdjust="spacingAndGlyphs">MS4A1</text>
<rect x="79.00" y="120.00" width="12.30" height="3.70" fill="#fff" stroke="#8a8a8a" stroke-width="0.45" rx="0.6"/>
<text x="85.15" y="122.90" font-size="3.9" fill="#444" stroke="#444" stroke-width="0.05" text-anchor="middle" textLength="10.09" lengthAdjust="spacingAndGlyphs">CD27</text>
<rect x="82.40" y="138.00" width="10.90" height="3.30" fill="#fff" stroke="#8a8a8a" stroke-width="0.45" rx="0.6"/>
<text x="87.85" y="140.50" font-size="3.9" fill="#444" stroke="#444" stroke-width="0.05" text-anchor="middle" textLength="8.94" lengthAdjust="spacingAndGlyphs">LEF1</text>
<rect x="140.50" y="64.40" width="17.00" height="4.50" fill="#fff" stroke="#8a8a8a" stroke-width="0.45" rx="0.6"/>
<text x="149.00" y="68.10" font-size="3.9" fill="#444" stroke="#444" stroke-width="0.05" text-anchor="middle" textLength="13.94" lengthAdjust="spacingAndGlyphs">AGAP1</text>
<rect x="128.40" y="77.50" width="20.10" height="4.30" fill="#fff" stroke="#8a8a8a" stroke-width="0.45" rx="0.6"/>
<text x="138.45" y="81.00" font-size="3.9" fill="#444" stroke="#444" stroke-width="0.05" text-anchor="middle" textLength="16.48" lengthAdjust="spacingAndGlyphs">ANGPT2</text>
<rect x="136.40" y="87.90" width="15.90" height="4.30" fill="#fff" stroke="#8a8a8a" stroke-width="0.45" rx="0.6"/>
<text x="144.35" y="91.40" font-size="3.9" fill="#444" stroke="#444" stroke-width="0.05" text-anchor="middle" textLength="13.04" lengthAdjust="spacingAndGlyphs">GATA3</text>
<rect x="134.60" y="96.00" width="12.50" height="4.00" fill="#fff" stroke="#8a8a8a" stroke-width="0.45" rx="0.6"/>
<text x="140.85" y="99.20" font-size="3.9" fill="#444" stroke="#444" stroke-width="0.05" text-anchor="middle" textLength="10.25" lengthAdjust="spacingAndGlyphs">ATF3</text>
<rect x="126.70" y="103.80" width="16.10" height="3.80" fill="#fff" stroke="#8a8a8a" stroke-width="0.45" rx="0.6"/>
<text x="134.75" y="106.80" font-size="3.9" fill="#444" stroke="#444" stroke-width="0.05" text-anchor="middle" textLength="13.20" lengthAdjust="spacingAndGlyphs">HBEGF</text>
<rect x="134.60" y="113.40" width="16.30" height="3.90" fill="#fff" stroke="#8a8a8a" stroke-width="0.45" rx="0.6"/>
<text x="142.75" y="116.50" font-size="3.9" fill="#444" stroke="#444" stroke-width="0.05" text-anchor="middle" textLength="13.37" lengthAdjust="spacingAndGlyphs">NR4A1</text>
<rect x="141.00" y="119.80" width="15.60" height="4.10" fill="#fff" stroke="#8a8a8a" stroke-width="0.45" rx="0.6"/>
<text x="148.80" y="123.10" font-size="3.9" fill="#444" stroke="#444" stroke-width="0.05" text-anchor="middle" textLength="12.79" lengthAdjust="spacingAndGlyphs">MCAM</text>
<rect x="107.60" y="125.60" width="16.10" height="3.80" fill="#fff" stroke="#8a8a8a" stroke-width="0.45" rx="0.6"/>
<text x="115.65" y="128.60" font-size="3.9" fill="#444" stroke="#444" stroke-width="0.05" text-anchor="middle" textLength="13.20" lengthAdjust="spacingAndGlyphs">PIK3R1</text>
<rect x="127.70" y="129.10" width="20.80" height="4.20" fill="#fff" stroke="#8a8a8a" stroke-width="0.45" rx="0.6"/>
<text x="138.10" y="132.50" font-size="3.9" fill="#444" stroke="#444" stroke-width="0.05" text-anchor="middle" textLength="17.06" lengthAdjust="spacingAndGlyphs">CLEC12A</text>
<line x1="36.60" y1="29.50" x2="36.60" y2="174.30" stroke="#333" stroke-width="1"/>
<line x1="36.10" y1="174.30" x2="165.00" y2="174.30" stroke="#333" stroke-width="1"/>
<line x1="34.30" y1="51.00" x2="36.60" y2="51.00" stroke="#333" stroke-width="0.8"/>
<text x="32.20" y="53.30" font-size="6.6" fill="#333" stroke="#333" stroke-width="0.1" text-anchor="end">15</text>
<line x1="34.30" y1="90.00" x2="36.60" y2="90.00" stroke="#333" stroke-width="0.8"/>
<text x="32.20" y="92.30" font-size="6.6" fill="#333" stroke="#333" stroke-width="0.1" text-anchor="end">10</text>
<line x1="34.30" y1="129.00" x2="36.60" y2="129.00" stroke="#333" stroke-width="0.8"/>
<text x="32.20" y="131.30" font-size="6.6" fill="#333" stroke="#333" stroke-width="0.1" text-anchor="end">5</text>
<line x1="34.30" y1="168.00" x2="36.60" y2="168.00" stroke="#333" stroke-width="0.8"/>
<text x="32.20" y="170.30" font-size="6.6" fill="#333" stroke="#333" stroke-width="0.1" text-anchor="end">0</text>
<line x1="66.00" y1="174.30" x2="66.00" y2="176.60" stroke="#333" stroke-width="0.8"/>
<text x="66.00" y="185.80" font-size="6.6" fill="#333" stroke="#333" stroke-width="0.1" text-anchor="middle">−4</text>
<line x1="101.50" y1="174.30" x2="101.50" y2="176.60" stroke="#333" stroke-width="0.8"/>
<text x="101.50" y="185.80" font-size="6.6" fill="#333" stroke="#333" stroke-width="0.1" text-anchor="middle">0</text>
<line x1="136.40" y1="174.30" x2="136.40" y2="176.60" stroke="#333" stroke-width="0.8"/>
<text x="136.40" y="185.80" font-size="6.6" fill="#333" stroke="#333" stroke-width="0.1" text-anchor="middle">4</text>
<text x="89" y="197.5" font-size="7.2" fill="#333">Log<tspan font-size="4.8" dy="1.8">2</tspan><tspan dy="-1.8">(FC)</tspan></text>
<text transform="translate(17.9,124.8) rotate(-90)" font-size="6.9" fill="#333" x="0" y="0">-Log<tspan font-size="4.8" dy="1.8">10</tspan><tspan dy="-1.8">(</tspan><tspan font-style="italic">P</tspan> value)</text>
<text x="170.00" y="16.20" font-size="10" fill="#111" font-weight="bold">B</text>
<text x="246.00" y="41.10" font-size="6.4" fill="#333" stroke="#333" stroke-width="0.1" text-anchor="end">HSC</text>
<text x="246.00" y="57.10" font-size="6.4" fill="#333" stroke="#333" stroke-width="0.1" text-anchor="end">Monocytes</text>
<text x="246.00" y="73.10" font-size="6.4" fill="#333" stroke="#333" stroke-width="0.1" text-anchor="end">T cells</text>
<text x="246.00" y="89.10" font-size="6.4" fill="#333" stroke="#333" stroke-width="0.1" text-anchor="end">Progenitor B cells</text>
<text x="246.00" y="105.10" font-size="6.4" fill="#333" stroke="#333" stroke-width="0.1" text-anchor="end">DUX4-r blasts</text>
<text x="246.00" y="121.10" font-size="6.4" fill="#333" stroke="#333" stroke-width="0.1" text-anchor="end">Other ALL blasts</text>
<text transform="translate(176.9,72.5) rotate(-90)" font-size="8" fill="#333" stroke="#333" stroke-width="0.1" text-anchor="middle" x="0" y="0" textLength="70.6" lengthAdjust="spacingAndGlyphs">Normalized accessibility</text>
<text transform="translate(187.0,73) rotate(-90)" font-size="7.5" fill="#333" stroke="#333" stroke-width="0.1" text-anchor="middle" x="0" y="0" textLength="41.4" lengthAdjust="spacingAndGlyphs">(range 0-450)</text>
<text transform="translate(298.2,72.9) rotate(-90)" font-size="6.1" fill="#333" stroke="#333" stroke-width="0.08" text-anchor="middle" x="0" y="0" textLength="38.2" lengthAdjust="spacingAndGlyphs">(range 0-190)</text>
<text transform="translate(353.4,72.9) rotate(-90)" font-size="6.1" fill="#333" stroke="#333" stroke-width="0.08" text-anchor="middle" x="0" y="0" textLength="38.2" lengthAdjust="spacingAndGlyphs">(range 0-600)</text>
<text transform="translate(408.3,72.9) rotate(-90)" font-size="6.1" fill="#333" stroke="#333" stroke-width="0.08" text-anchor="middle" x="0" y="0" textLength="38.2" lengthAdjust="spacingAndGlyphs">(range 0-190)</text>
<text transform="translate(464.1,72.9) rotate(-90)" font-size="6.1" fill="#333" stroke="#333" stroke-width="0.08" text-anchor="middle" x="0" y="0" textLength="38.2" lengthAdjust="spacingAndGlyphs">(range 0-600)</text>
<line x1="192.60" y1="22.70" x2="192.60" y2="123.50" stroke="#444" stroke-width="0.9"/>
<line x1="248.00" y1="39.50" x2="290.80" y2="39.50" stroke="#4a4a4a" stroke-width="0.9"/>
<line x1="248.00" y1="55.50" x2="290.80" y2="55.50" stroke="#4a4a4a" stroke-width="0.9"/>
<line x1="248.00" y1="71.50" x2="290.80" y2="71.50" stroke="#4a4a4a" stroke-width="0.9"/>
<line x1="248.00" y1="87.50" x2="290.80" y2="87.50" stroke="#4a4a4a" stroke-width="0.9"/>
<path d="M248.00,103.50 L248.00,103.50 L248.40,103.50 L248.80,103.50 L249.20,103.49 L249.60,103.44 L250.00,103.16 L250.40,99.02 L250.80,101.52 L251.20,103.00 L251.60,102.84 L252.00,102.68 L252.40,99.77 L252.80,101.85 L253.20,102.09 L253.60,101.87 L254.00,101.63 L254.40,101.39 L254.80,101.13 L255.20,101.13 L255.60,101.39 L256.00,101.63 L256.40,101.87 L256.80,102.09 L257.20,101.85 L257.60,99.77 L258.00,102.68 L258.40,102.84 L258.80,103.00 L259.20,103.14 L259.60,103.26 L260.00,103.36 L260.40,103.44 L260.80,103.49 L261.20,103.50 L261.60,102.81 L262.00,99.50 L262.40,102.81 L262.80,103.50 L263.20,103.50 L263.60,103.50 L264.00,103.50 L264.40,103.50 L264.80,103.50 L265.20,103.50 L265.60,103.50 L266.00,103.50 L266.40,103.50 L266.80,103.50 L267.20,103.50 L267.60,102.81 L268.00,99.50 L268.40,102.81 L268.80,103.50 L269.20,103.50 L269.60,103.50 L270.00,103.50 L270.40,103.50 L270.80,103.50 L271.20,103.50 L271.60,103.50 L272.00,103.50 L272.40,103.50 L272.80,103.50 L273.20,103.50 L273.60,103.50 L274.00,103.04 L274.40,97.52 L274.80,100.86 L275.20,103.31 L275.60,103.20 L276.00,103.07 L276.40,102.92 L276.80,102.76 L277.20,102.59 L277.60,102.40 L278.00,97.50 L278.40,101.98 L278.80,101.75 L279.20,101.51 L279.60,101.26 L280.00,101.00 L280.40,101.26 L280.80,101.51 L281.20,101.75 L281.60,101.98 L282.00,102.19 L282.40,102.40 L282.80,102.59 L283.20,102.76 L283.60,98.27 L284.00,101.19 L284.40,103.20 L284.80,103.31 L285.20,103.40 L285.60,102.81 L286.00,99.50 L286.40,102.81 L286.80,103.50 L287.20,103.50 L287.60,103.50 L288.00,103.50 L288.40,103.50 L288.80,103.50 L289.20,103.50 L289.60,103.50 L290.00,103.50 L290.40,103.50 L290.80,103.50 L290.80,103.50 Z" fill="#dcdce6" stroke="#dcdce6" stroke-width="0.3" fill-opacity="0.8"/>
<line x1="248.00" y1="103.50" x2="290.80" y2="103.50" stroke="#4a4a4a" stroke-width="0.9"/>
<line x1="248.00" y1="119.50" x2="290.80" y2="119.50" stroke="#4a4a4a" stroke-width="0.9"/>
<line x1="303.10" y1="22.70" x2="303.10" y2="123.50" stroke="#444" stroke-width="0.9"/>
<path d="M303.50,39.50 L303.50,39.50 L303.90,39.50 L304.30,39.50 L304.70,39.50 L305.10,39.50 L305.50,39.50 L305.90,39.50 L306.30,39.50 L306.70,39.50 L307.10,39.50 L307.50,39.50 L307.90,39.50 L308.30,39.50 L308.70,39.50 L309.10,39.50 L309.50,39.50 L309.90,39.50 L310.30,39.50 L310.70,39.50 L311.10,39.50 L311.50,39.50 L311.90,39.50 L312.30,39.50 L312.70,39.50 L313.10,39.50 L313.50,39.50 L313.90,39.50 L314.30,39.50 L314.70,39.50 L315.10,39.50 L315.50,39.50 L315.90,39.50 L316.30,39.50 L316.70,39.50 L317.10,39.50 L317.50,39.50 L317.90,39.50 L318.30,39.50 L318.70,39.50 L319.10,39.50 L319.50,39.50 L319.90,39.50 L320.30,39.50 L320.70,39.50 L321.10,39.50 L321.50,39.50 L321.90,39.50 L322.30,39.50 L322.70,39.50 L323.10,39.50 L323.50,39.50 L323.90,39.50 L324.30,39.38 L324.70,39.05 L325.10,38.82 L325.50,39.24 L325.90,39.48 L326.30,39.50 L326.70,39.50 L327.10,39.50 L327.50,39.50 L327.90,39.50 L328.30,39.50 L328.70,39.50 L329.10,39.50 L329.50,39.50 L329.90,39.50 L330.30,39.50 L330.70,39.50 L331.10,39.50 L331.50,39.50 L331.90,39.50 L332.30,39.50 L332.70,39.50 L333.10,39.50 L333.50,39.50 L333.90,39.50 L334.30,39.50 L334.70,39.50 L335.10,39.50 L335.50,39.50 L335.90,39.50 L336.30,39.50 L336.70,39.50 L337.10,39.50 L337.50,39.50 L337.90,39.50 L338.30,39.50 L338.70,39.50 L339.10,39.50 L339.50,39.50 L339.90,39.50 L340.30,39.50 L340.70,39.50 L341.10,39.50 L341.50,39.50 L341.90,39.50 L342.30,39.50 L342.70,39.50 L343.10,39.50 L343.50,39.50 L343.90,39.50 L344.30,39.50 L344.70,39.50 L345.10,39.50 L345.50,39.50 L345.90,39.50 L346.00,39.50 Z" fill="#d8c23a" stroke="#d8c23a" stroke-width="0.3" fill-opacity="0.8"/>
<line x1="303.50" y1="39.50" x2="346.00" y2="39.50" stroke="#4a4a4a" stroke-width="0.9"/>
<line x1="303.50" y1="55.50" x2="346.00" y2="55.50" stroke="#4a4a4a" stroke-width="0.9"/>
<line x1="303.50" y1="71.50" x2="346.00" y2="71.50" stroke="#4a4a4a" stroke-width="0.9"/>
<line x1="303.50" y1="87.50" x2="346.00" y2="87.50" stroke="#4a4a4a" stroke-width="0.9"/>
<path d="M303.50,103.50 L303.50,103.50 L303.90,103.50 L304.30,103.50 L304.70,103.50 L305.10,103.50 L305.50,103.50 L305.90,103.49 L306.30,103.47 L306.70,103.44 L307.10,103.41 L307.50,103.38 L307.90,103.34 L308.30,103.29 L308.70,103.25 L309.10,103.19 L309.50,103.14 L309.90,103.08 L310.30,103.02 L310.70,102.96 L311.10,102.89 L311.50,102.82 L311.90,102.75 L312.30,102.67 L312.70,102.59 L313.10,102.38 L313.50,102.10 L313.90,101.80 L314.30,101.32 L314.70,97.92 L315.10,93.46 L315.50,90.87 L315.90,95.81 L316.30,99.77 L316.70,101.65 L317.10,101.96 L317.50,102.25 L317.90,102.51 L318.30,102.63 L318.70,102.71 L319.10,102.78 L319.50,102.86 L319.90,102.92 L320.30,102.99 L320.70,103.05 L321.10,103.11 L321.50,102.87 L321.90,102.43 L322.30,102.66 L322.70,103.06 L323.10,103.36 L323.50,103.39 L323.90,103.43 L324.30,103.46 L324.70,103.48 L325.10,103.49 L325.50,103.50 L325.90,103.50 L326.30,103.50 L326.70,103.50 L327.10,103.50 L327.50,103.50 L327.90,103.50 L328.30,103.50 L328.70,103.46 L329.10,103.27 L329.50,102.98 L329.90,102.60 L330.30,102.80 L330.70,103.13 L331.10,103.38 L331.50,103.50 L331.90,103.50 L332.30,103.50 L332.70,103.50 L333.10,103.50 L333.50,103.50 L333.90,103.50 L334.30,103.50 L334.70,103.50 L335.10,103.50 L335.50,103.50 L335.90,103.50 L336.30,103.50 L336.70,103.50 L337.10,103.50 L337.50,103.50 L337.90,103.50 L338.30,103.50 L338.70,103.50 L339.10,103.50 L339.50,103.50 L339.90,103.50 L340.30,103.50 L340.70,103.50 L341.10,103.50 L341.50,103.50 L341.90,103.50 L342.30,103.50 L342.70,103.50 L343.10,103.50 L343.50,103.50 L343.90,103.50 L344.30,103.50 L344.70,103.50 L345.10,103.50 L345.50,103.50 L345.90,103.50 L346.00,103.50 Z" fill="#62539e" stroke="#62539e" stroke-width="0.3" fill-opacity="0.8"/>
<line x1="303.50" y1="103.50" x2="346.00" y2="103.50" stroke="#4a4a4a" stroke-width="0.9"/>
<line x1="303.50" y1="119.50" x2="346.00" y2="119.50" stroke="#4a4a4a" stroke-width="0.9"/>
<line x1="358.60" y1="22.70" x2="358.60" y2="123.50" stroke="#444" stroke-width="0.9"/>
<path d="M359.00,39.50 L359.00,39.50 L359.40,39.50 L359.80,39.35 L360.20,38.91 L360.60,38.28 L361.00,37.50 L361.40,38.28 L361.80,38.91 L362.20,39.35 L362.60,39.47 L363.00,39.16 L363.40,38.62 L363.80,37.91 L364.20,37.91 L364.60,38.62 L365.00,39.16 L365.40,39.47 L365.80,39.50 L366.20,39.24 L366.60,38.72 L367.00,38.00 L367.40,38.72 L367.80,39.24 L368.20,39.50 L368.60,39.50 L369.00,39.50 L369.40,39.50 L369.80,39.50 L370.20,39.50 L370.60,39.50 L371.00,39.50 L371.40,39.50 L371.80,39.50 L372.20,39.50 L372.60,39.50 L373.00,39.50 L373.40,39.50 L373.80,39.50 L374.20,39.50 L374.60,39.50 L375.00,39.50 L375.40,39.50 L375.80,39.50 L376.20,39.50 L376.60,39.50 L377.00,39.50 L377.40,39.50 L377.80,39.27 L378.20,38.61 L378.60,37.67 L379.00,36.50 L379.40,37.67 L379.80,38.61 L380.20,39.27 L380.60,39.50 L381.00,39.50 L381.40,39.50 L381.80,39.50 L382.20,39.50 L382.60,39.50 L383.00,39.50 L383.40,39.50 L383.80,39.50 L384.20,39.50 L384.60,39.50 L385.00,39.50 L385.40,39.50 L385.80,39.50 L386.20,39.50 L386.60,39.50 L387.00,39.50 L387.40,39.50 L387.80,39.50 L388.20,39.50 L388.60,39.50 L389.00,39.50 L389.40,39.50 L389.80,39.50 L390.20,39.50 L390.60,39.50 L391.00,39.50 L391.40,39.50 L391.80,39.50 L392.20,39.50 L392.60,39.50 L393.00,39.50 L393.40,39.50 L393.80,39.50 L394.20,39.50 L394.60,39.50 L395.00,39.41 L395.40,39.01 L395.80,38.38 L396.20,38.38 L396.60,39.01 L397.00,39.41 L397.40,39.50 L397.80,39.50 L398.20,39.50 L398.60,39.50 L399.00,39.50 L399.40,39.50 L399.80,39.50 L400.20,39.50 L400.60,39.50 L401.00,39.50 L401.40,39.50 L401.50,39.50 Z" fill="#d8c23a" stroke="#d8c23a" stroke-width="0.3" fill-opacity="0.8"/>
<line x1="359.00" y1="39.50" x2="401.50" y2="39.50" stroke="#4a4a4a" stroke-width="0.9"/>
<path d="M359.00,55.50 L359.00,55.50 L359.40,55.50 L359.80,55.50 L360.20,55.24 L360.60,54.72 L361.00,54.00 L361.40,54.72 L361.80,55.24 L362.20,55.50 L362.60,55.50 L363.00,55.50 L363.40,55.50 L363.80,55.50 L364.20,55.50 L364.60,55.50 L365.00,55.50 L365.40,55.50 L365.80,55.50 L366.20,55.50 L366.60,55.50 L367.00,55.50 L367.40,55.50 L367.80,55.50 L368.20,55.19 L368.60,54.56 L369.00,53.70 L369.40,54.56 L369.80,55.19 L370.20,55.50 L370.60,55.50 L371.00,55.50 L371.40,55.50 L371.80,55.50 L372.20,55.50 L372.60,55.50 L373.00,55.50 L373.40,55.50 L373.80,55.50 L374.20,55.50 L374.60,55.50 L375.00,55.50 L375.40,55.50 L375.80,55.50 L376.20,55.50 L376.60,55.50 L377.00,55.50 L377.40,55.50 L377.80,55.50 L378.20,55.50 L378.60,55.50 L379.00,55.50 L379.40,55.32 L379.80,54.94 L380.20,54.94 L380.60,55.32 L381.00,55.50 L381.40,55.50 L381.80,55.50 L382.20,55.50 L382.60,55.50 L383.00,55.50 L383.40,55.50 L383.80,55.50 L384.20,55.50 L384.60,55.50 L385.00,55.50 L385.40,55.50 L385.80,55.50 L386.20,55.50 L386.60,55.50 L387.00,55.50 L387.40,55.50 L387.80,55.50 L388.20,55.50 L388.60,55.50 L389.00,55.50 L389.40,55.50 L389.80,55.50 L390.20,55.50 L390.60,55.50 L391.00,55.50 L391.40,55.50 L391.80,55.50 L392.20,55.50 L392.60,55.50 L393.00,55.50 L393.40,55.50 L393.80,55.50 L394.20,55.50 L394.60,55.50 L395.00,55.50 L395.40,55.50 L395.80,55.50 L396.20,55.50 L396.60,55.50 L397.00,55.50 L397.40,55.50 L397.80,55.50 L398.20,55.50 L398.60,55.50 L399.00,55.50 L399.40,55.50 L399.80,55.50 L400.20,55.50 L400.60,55.50 L401.00,55.50 L401.40,55.50 L401.50,55.50 Z" fill="#c4472a" stroke="#c4472a" stroke-width="0.3" fill-opacity="0.8"/>
<line x1="359.00" y1="55.50" x2="401.50" y2="55.50" stroke="#4a4a4a" stroke-width="0.9"/>
<path d="M359.00,71.50 L359.00,71.50 L359.40,71.50 L359.80,71.50 L360.20,70.98 L360.60,68.50 L361.00,64.70 L361.40,59.86 L361.80,62.40 L362.20,66.75 L362.60,69.93 L363.00,71.50 L363.40,71.50 L363.80,71.50 L364.20,71.50 L364.60,70.74 L365.00,69.20 L365.40,67.10 L365.80,68.21 L366.20,70.05 L366.60,71.25 L367.00,71.50 L367.40,71.50 L367.80,71.50 L368.20,71.50 L368.60,71.01 L369.00,69.60 L369.40,67.58 L369.80,68.66 L370.20,70.39 L370.60,71.42 L371.00,71.50 L371.40,71.50 L371.80,71.50 L372.20,71.50 L372.60,71.50 L373.00,71.50 L373.40,71.50 L373.80,71.50 L374.20,71.50 L374.60,71.50 L375.00,71.50 L375.40,71.50 L375.80,71.50 L376.20,71.50 L376.60,71.50 L377.00,71.50 L377.40,71.50 L377.80,71.50 L378.20,71.50 L378.60,70.74 L379.00,69.20 L379.40,67.10 L379.80,68.21 L380.20,70.05 L380.60,71.25 L381.00,71.50 L381.40,71.50 L381.80,71.50 L382.20,71.50 L382.60,71.50 L383.00,71.02 L383.40,69.64 L383.80,67.67 L384.20,67.67 L384.60,69.64 L385.00,71.02 L385.40,71.50 L385.80,71.50 L386.20,71.50 L386.60,71.50 L387.00,71.50 L387.40,71.50 L387.80,71.50 L388.20,71.50 L388.60,71.50 L389.00,71.50 L389.40,71.50 L389.80,71.50 L390.20,71.50 L390.60,71.50 L391.00,71.50 L391.40,71.50 L391.80,71.50 L392.20,71.50 L392.60,71.50 L393.00,71.50 L393.40,71.50 L393.80,71.50 L394.20,71.50 L394.60,71.50 L395.00,71.50 L395.40,71.50 L395.80,71.50 L396.20,71.50 L396.60,71.50 L397.00,71.50 L397.40,71.50 L397.80,71.50 L398.20,71.50 L398.60,71.50 L399.00,71.50 L399.40,71.50 L399.80,71.50 L400.20,71.50 L400.60,71.50 L401.00,71.50 L401.40,71.50 L401.50,71.50 Z" fill="#5eae5a" stroke="#5eae5a" stroke-width="0.3" fill-opacity="0.8"/>
<line x1="359.00" y1="71.50" x2="401.50" y2="71.50" stroke="#4a4a4a" stroke-width="0.9"/>
<path d="M359.00,87.50 L359.00,87.50 L359.40,87.50 L359.80,87.50 L360.20,87.50 L360.60,87.50 L361.00,87.12 L361.40,86.01 L361.80,84.44 L362.20,84.44 L362.60,86.01 L363.00,87.12 L363.40,87.50 L363.80,87.50 L364.20,87.39 L364.60,86.84 L365.00,86.00 L365.40,86.84 L365.80,87.39 L366.20,87.50 L366.60,87.50 L367.00,87.50 L367.40,87.50 L367.80,87.50 L368.20,87.50 L368.60,87.50 L369.00,87.50 L369.40,87.50 L369.80,87.50 L370.20,87.50 L370.60,87.50 L371.00,87.50 L371.40,87.50 L371.80,87.50 L372.20,87.50 L372.60,87.50 L373.00,87.50 L373.40,87.50 L373.80,87.50 L374.20,87.50 L374.60,87.50 L375.00,87.50 L375.40,87.50 L375.80,87.50 L376.20,87.50 L376.60,87.50 L377.00,87.50 L377.40,87.50 L377.80,87.50 L378.20,87.16 L378.60,86.45 L379.00,85.50 L379.40,86.45 L379.80,87.16 L380.20,87.50 L380.60,87.50 L381.00,87.50 L381.40,87.50 L381.80,87.50 L382.20,87.50 L382.60,87.50 L383.00,87.50 L383.40,87.27 L383.80,86.80 L384.20,86.80 L384.60,87.27 L385.00,87.50 L385.40,87.50 L385.80,87.50 L386.20,87.50 L386.60,87.50 L387.00,87.50 L387.40,87.50 L387.80,87.50 L388.20,87.50 L388.60,87.50 L389.00,87.50 L389.40,87.50 L389.80,87.50 L390.20,87.50 L390.60,87.50 L391.00,87.50 L391.40,87.50 L391.80,87.50 L392.20,87.50 L392.60,87.50 L393.00,87.50 L393.40,87.50 L393.80,87.50 L394.20,87.50 L394.60,87.50 L395.00,87.50 L395.40,87.50 L395.80,87.50 L396.20,87.50 L396.60,87.50 L397.00,87.50 L397.40,87.50 L397.80,87.50 L398.20,87.50 L398.60,87.50 L399.00,87.50 L399.40,87.50 L399.80,87.50 L400.20,87.50 L400.60,87.50 L401.00,87.50 L401.40,87.50 L401.50,87.50 Z" fill="#7396c4" stroke="#7396c4" stroke-width="0.3" fill-opacity="0.8"/>
<line x1="359.00" y1="87.50" x2="401.50" y2="87.50" stroke="#4a4a4a" stroke-width="0.9"/>
<path d="M359.00,103.50 L359.00,103.45 L359.40,103.41 L359.80,103.36 L360.20,103.31 L360.60,101.96 L361.00,99.55 L361.40,96.39 L361.80,98.06 L362.20,100.86 L362.60,102.82 L363.00,102.79 L363.40,102.51 L363.80,101.26 L364.20,101.26 L364.60,102.40 L365.00,102.29 L365.40,102.18 L365.80,102.06 L366.20,102.06 L366.60,102.18 L367.00,102.29 L367.40,102.40 L367.80,102.50 L368.20,102.60 L368.60,101.28 L369.00,99.50 L369.40,101.28 L369.80,102.63 L370.20,103.04 L370.60,103.12 L371.00,103.19 L371.40,103.15 L371.80,102.45 L372.20,102.45 L372.60,103.15 L373.00,103.45 L373.40,103.48 L373.80,103.50 L374.20,103.49 L374.60,103.47 L375.00,103.43 L375.40,103.38 L375.80,103.33 L376.20,103.26 L376.60,103.19 L377.00,103.10 L377.40,103.02 L377.80,102.92 L378.20,101.70 L378.60,99.41 L379.00,96.50 L379.40,99.41 L379.80,101.70 L380.20,102.36 L380.60,102.49 L381.00,102.60 L381.40,102.72 L381.80,102.82 L382.20,102.92 L382.60,103.02 L383.00,103.10 L383.40,103.19 L383.80,103.26 L384.20,103.33 L384.60,103.38 L385.00,103.43 L385.40,103.47 L385.80,103.49 L386.20,103.50 L386.60,103.50 L387.00,103.50 L387.40,103.50 L387.80,103.50 L388.20,103.50 L388.60,103.50 L389.00,103.50 L389.40,103.50 L389.80,103.50 L390.20,103.50 L390.60,103.50 L391.00,103.50 L391.40,103.50 L391.80,103.50 L392.20,103.50 L392.60,103.50 L393.00,103.50 L393.40,103.50 L393.80,103.50 L394.20,103.50 L394.60,103.50 L395.00,103.39 L395.40,102.84 L395.80,102.01 L396.20,102.01 L396.60,102.84 L397.00,103.39 L397.40,103.50 L397.80,103.50 L398.20,103.50 L398.60,103.50 L399.00,103.50 L399.40,103.50 L399.80,103.50 L400.20,103.50 L400.60,103.50 L401.00,103.50 L401.40,103.50 L401.50,103.50 Z" fill="#62539e" stroke="#62539e" stroke-width="0.3" fill-opacity="0.8"/>
<line x1="359.00" y1="103.50" x2="401.50" y2="103.50" stroke="#4a4a4a" stroke-width="0.9"/>
<path d="M359.00,119.50 L359.00,119.50 L359.40,119.50 L359.80,119.50 L360.20,119.50 L360.60,119.47 L361.00,119.07 L361.40,118.40 L361.80,117.51 L362.20,117.51 L362.60,118.40 L363.00,119.07 L363.40,119.47 L363.80,119.50 L364.20,119.50 L364.60,119.50 L365.00,119.41 L365.40,119.01 L365.80,118.38 L366.20,118.38 L366.60,119.01 L367.00,119.41 L367.40,119.50 L367.80,119.50 L368.20,119.24 L368.60,118.72 L369.00,118.00 L369.40,118.72 L369.80,119.24 L370.20,119.50 L370.60,119.50 L371.00,119.50 L371.40,119.50 L371.80,119.50 L372.20,119.50 L372.60,119.50 L373.00,119.50 L373.40,119.50 L373.80,119.50 L374.20,119.50 L374.60,119.50 L375.00,119.50 L375.40,119.50 L375.80,119.50 L376.20,119.50 L376.60,119.50 L377.00,119.50 L377.40,119.50 L377.80,119.31 L378.20,118.76 L378.60,117.98 L379.00,117.00 L379.40,117.98 L379.80,118.76 L380.20,119.31 L380.60,119.50 L381.00,119.50 L381.40,119.50 L381.80,119.50 L382.20,119.50 L382.60,119.50 L383.00,119.50 L383.40,119.50 L383.80,119.50 L384.20,119.50 L384.60,119.50 L385.00,119.50 L385.40,119.50 L385.80,119.50 L386.20,119.50 L386.60,119.50 L387.00,119.50 L387.40,119.50 L387.80,119.50 L388.20,119.50 L388.60,119.50 L389.00,119.50 L389.40,119.50 L389.80,119.50 L390.20,119.50 L390.60,119.50 L391.00,119.50 L391.40,119.50 L391.80,119.50 L392.20,119.50 L392.60,119.50 L393.00,119.50 L393.40,119.50 L393.80,119.50 L394.20,119.50 L394.60,119.50 L395.00,119.50 L395.40,119.50 L395.80,119.50 L396.20,119.50 L396.60,119.50 L397.00,119.50 L397.40,119.50 L397.80,119.50 L398.20,119.50 L398.60,119.50 L399.00,119.50 L399.40,119.50 L399.80,119.50 L400.20,119.50 L400.60,119.50 L401.00,119.50 L401.40,119.50 L401.50,119.50 Z" fill="#2aa58e" stroke="#2aa58e" stroke-width="0.3" fill-opacity="0.8"/>
<line x1="359.00" y1="119.50" x2="401.50" y2="119.50" stroke="#4a4a4a" stroke-width="0.9"/>
<line x1="413.30" y1="22.70" x2="413.30" y2="123.50" stroke="#444" stroke-width="0.9"/>
<path d="M413.50,39.50 L413.50,39.50 L413.90,39.50 L414.30,39.50 L414.70,39.50 L415.10,39.50 L415.50,39.50 L415.90,39.50 L416.30,39.50 L416.70,39.50 L417.10,39.50 L417.50,39.50 L417.90,39.50 L418.30,39.50 L418.70,39.50 L419.10,39.50 L419.50,39.50 L419.90,39.50 L420.30,39.50 L420.70,39.50 L421.10,39.50 L421.50,39.50 L421.90,39.50 L422.30,39.50 L422.70,39.50 L423.10,39.50 L423.50,39.50 L423.90,39.50 L424.30,39.50 L424.70,39.50 L425.10,39.50 L425.50,39.50 L425.90,39.50 L426.30,39.50 L426.70,39.50 L427.10,39.50 L427.50,39.50 L427.90,39.50 L428.30,39.50 L428.70,39.50 L429.10,39.50 L429.50,39.50 L429.90,39.50 L430.30,39.50 L430.70,39.50 L431.10,39.50 L431.50,39.50 L431.90,39.50 L432.30,39.50 L432.70,39.50 L433.10,39.50 L433.50,39.50 L433.90,39.50 L434.30,39.50 L434.70,39.50 L435.10,39.50 L435.50,39.50 L435.90,39.48 L436.30,39.20 L436.70,38.74 L437.10,38.46 L437.50,38.99 L437.90,39.37 L438.30,39.50 L438.70,39.50 L439.10,39.50 L439.50,39.50 L439.90,39.50 L440.30,39.50 L440.70,39.50 L441.10,39.50 L441.50,39.50 L441.90,39.50 L442.30,39.50 L442.70,39.50 L443.10,39.50 L443.50,39.50 L443.90,39.50 L444.30,39.50 L444.70,39.50 L445.10,39.50 L445.50,39.50 L445.90,39.50 L446.30,39.50 L446.70,39.50 L447.10,39.50 L447.50,39.50 L447.90,39.50 L448.30,39.50 L448.70,39.50 L449.10,39.50 L449.50,39.50 L449.90,39.50 L450.30,39.50 L450.70,39.50 L451.10,39.50 L451.50,39.50 L451.90,39.50 L452.30,39.50 L452.70,39.50 L453.10,39.50 L453.50,39.50 L453.90,39.50 L454.30,39.50 L454.70,39.50 L455.10,39.50 L455.50,39.50 L455.50,39.50 Z" fill="#d8c23a" stroke="#d8c23a" stroke-width="0.3" fill-opacity="0.8"/>
<line x1="413.50" y1="39.50" x2="455.50" y2="39.50" stroke="#4a4a4a" stroke-width="0.9"/>
<path d="M413.50,55.50 L413.50,55.50 L413.90,55.50 L414.30,55.50 L414.70,55.50 L415.10,55.50 L415.50,55.50 L415.90,55.50 L416.30,55.50 L416.70,55.50 L417.10,55.50 L417.50,55.50 L417.90,55.50 L418.30,55.50 L418.70,55.50 L419.10,55.50 L419.50,55.50 L419.90,55.50 L420.30,55.50 L420.70,55.50 L421.10,55.50 L421.50,55.50 L421.90,55.50 L422.30,55.50 L422.70,55.50 L423.10,55.50 L423.50,55.50 L423.90,55.50 L424.30,55.50 L424.70,55.50 L425.10,55.50 L425.50,55.50 L425.90,55.50 L426.30,55.50 L426.70,55.50 L427.10,55.50 L427.50,55.50 L427.90,55.50 L428.30,55.50 L428.70,55.50 L429.10,55.50 L429.50,55.50 L429.90,55.50 L430.30,55.47 L430.70,55.38 L431.10,55.26 L431.50,55.10 L431.90,54.92 L432.30,54.72 L432.70,54.49 L433.10,54.36 L433.50,54.60 L433.90,54.82 L434.30,55.02 L434.70,55.19 L435.10,55.33 L435.50,55.43 L435.90,55.42 L436.30,54.51 L436.70,52.98 L437.10,52.02 L437.50,53.81 L437.90,55.06 L438.30,55.50 L438.70,55.50 L439.10,55.50 L439.50,55.50 L439.90,55.50 L440.30,55.50 L440.70,54.72 L441.10,53.15 L441.50,51.00 L441.90,53.15 L442.30,54.72 L442.70,55.38 L443.10,55.26 L443.50,55.10 L443.90,54.92 L444.30,54.72 L444.70,54.49 L445.10,54.36 L445.50,54.60 L445.90,54.82 L446.30,55.02 L446.70,55.19 L447.10,55.33 L447.50,55.43 L447.90,55.49 L448.30,55.50 L448.70,55.50 L449.10,55.50 L449.50,55.50 L449.90,55.50 L450.30,55.50 L450.70,55.50 L451.10,55.50 L451.50,55.50 L451.90,55.50 L452.30,55.50 L452.70,55.50 L453.10,55.50 L453.50,55.50 L453.90,55.50 L454.30,55.50 L454.70,55.50 L455.10,55.50 L455.50,55.50 L455.50,55.50 Z" fill="#c4472a" stroke="#c4472a" stroke-width="0.3" fill-opacity="0.8"/>
<line x1="413.50" y1="55.50" x2="455.50" y2="55.50" stroke="#4a4a4a" stroke-width="0.9"/>
<line x1="413.50" y1="71.50" x2="455.50" y2="71.50" stroke="#4a4a4a" stroke-width="0.9"/>
<line x1="413.50" y1="87.50" x2="455.50" y2="87.50" stroke="#4a4a4a" stroke-width="0.9"/>
<path d="M413.50,103.50 L413.50,103.50 L413.90,103.50 L414.30,103.50 L414.70,103.50 L415.10,103.50 L415.50,103.50 L415.90,103.50 L416.30,103.50 L416.70,103.50 L417.10,103.50 L417.50,103.50 L417.90,103.50 L418.30,103.50 L418.70,103.50 L419.10,103.50 L419.50,103.50 L419.90,103.50 L420.30,103.50 L420.70,103.46 L421.10,103.27 L421.50,102.98 L421.90,102.60 L422.30,102.80 L422.70,103.13 L423.10,103.21 L423.50,103.11 L423.90,103.01 L424.30,102.59 L424.70,101.75 L425.10,101.26 L425.50,102.19 L425.90,102.37 L426.30,102.22 L426.70,102.06 L427.10,101.90 L427.50,101.72 L427.90,99.30 L428.30,95.94 L428.70,95.94 L429.10,99.30 L429.50,101.86 L429.90,102.30 L430.30,102.40 L430.70,101.40 L431.10,100.81 L431.50,101.93 L431.90,102.81 L432.30,103.06 L432.70,103.16 L433.10,103.25 L433.50,102.87 L433.90,102.19 L434.30,102.55 L434.70,103.13 L435.10,103.47 L435.50,103.50 L435.90,103.50 L436.30,103.50 L436.70,103.50 L437.10,103.50 L437.50,103.50 L437.90,103.50 L438.30,103.50 L438.70,103.50 L439.10,103.50 L439.50,103.50 L439.90,103.50 L440.30,103.50 L440.70,103.50 L441.10,103.50 L441.50,103.50 L441.90,103.50 L442.30,103.50 L442.70,103.50 L443.10,103.50 L443.50,103.50 L443.90,103.50 L444.30,103.50 L444.70,103.50 L445.10,103.50 L445.50,103.50 L445.90,103.50 L446.30,103.50 L446.70,103.50 L447.10,103.50 L447.50,103.50 L447.90,103.50 L448.30,103.50 L448.70,103.50 L449.10,103.50 L449.50,103.50 L449.90,103.50 L450.30,103.50 L450.70,103.50 L451.10,103.50 L451.50,103.50 L451.90,103.50 L452.30,103.50 L452.70,103.50 L453.10,103.50 L453.50,103.50 L453.90,103.50 L454.30,103.50 L454.70,103.50 L455.10,103.50 L455.50,103.50 L455.50,103.50 Z" fill="#62539e" stroke="#62539e" stroke-width="0.3" fill-opacity="0.8"/>
<line x1="413.50" y1="103.50" x2="455.50" y2="103.50" stroke="#4a4a4a" stroke-width="0.9"/>
<path d="M413.50,119.50 L413.50,119.50 L413.90,119.50 L414.30,119.50 L414.70,119.49 L415.10,119.47 L415.50,119.46 L415.90,119.44 L416.30,119.42 L416.70,119.39 L417.10,119.37 L417.50,119.34 L417.90,119.31 L418.30,119.27 L418.70,119.24 L419.10,119.20 L419.50,119.16 L419.90,119.12 L420.30,119.08 L420.70,119.04 L421.10,118.99 L421.50,118.95 L421.90,118.90 L422.30,118.85 L422.70,118.73 L423.10,118.35 L423.50,117.61 L423.90,116.74 L424.30,117.19 L424.70,117.96 L425.10,117.78 L425.50,117.60 L425.90,117.41 L426.30,117.21 L426.70,117.01 L427.10,116.80 L427.50,116.58 L427.90,114.19 L428.30,109.34 L428.70,109.34 L429.10,114.19 L429.50,117.11 L429.90,117.31 L430.30,117.50 L430.70,117.69 L431.10,117.87 L431.50,117.43 L431.90,115.54 L432.30,116.54 L432.70,118.19 L433.10,118.66 L433.50,118.79 L433.90,118.88 L434.30,118.92 L434.70,118.97 L435.10,119.02 L435.50,118.45 L435.90,117.71 L436.30,118.10 L436.70,118.77 L437.10,119.22 L437.50,119.26 L437.90,119.29 L438.30,119.32 L438.70,119.35 L439.10,119.38 L439.50,119.40 L439.90,119.43 L440.30,119.45 L440.70,119.47 L441.10,119.48 L441.50,119.49 L441.90,119.50 L442.30,119.50 L442.70,119.50 L443.10,119.50 L443.50,119.50 L443.90,119.50 L444.30,119.50 L444.70,119.50 L445.10,119.50 L445.50,119.50 L445.90,119.50 L446.30,119.50 L446.70,119.50 L447.10,119.50 L447.50,119.50 L447.90,119.50 L448.30,119.50 L448.70,119.50 L449.10,119.50 L449.50,119.50 L449.90,119.50 L450.30,119.50 L450.70,119.50 L451.10,119.50 L451.50,119.50 L451.90,119.50 L452.30,119.50 L452.70,119.50 L453.10,119.50 L453.50,119.50 L453.90,119.50 L454.30,119.50 L454.70,119.50 L455.10,119.50 L455.50,119.50 L455.50,119.50 Z" fill="#2aa58e" stroke="#2aa58e" stroke-width="0.3" fill-opacity="0.8"/>
<line x1="413.50" y1="119.50" x2="455.50" y2="119.50" stroke="#4a4a4a" stroke-width="0.9"/>
<line x1="468.80" y1="22.70" x2="468.80" y2="123.50" stroke="#444" stroke-width="0.9"/>
<path d="M469.00,39.50 L469.00,39.50 L469.40,39.50 L469.80,39.50 L470.20,39.50 L470.60,39.50 L471.00,39.50 L471.40,39.50 L471.80,39.50 L472.20,39.50 L472.60,39.50 L473.00,39.50 L473.40,39.50 L473.80,39.50 L474.20,39.50 L474.60,39.50 L475.00,39.50 L475.40,39.50 L475.80,39.50 L476.20,38.81 L476.60,37.41 L477.00,35.50 L477.40,37.41 L477.80,38.81 L478.20,39.50 L478.60,39.48 L479.00,39.24 L479.40,38.84 L479.80,38.31 L480.20,38.31 L480.60,38.84 L481.00,39.24 L481.40,39.48 L481.80,39.50 L482.20,39.50 L482.60,39.50 L483.00,39.50 L483.40,39.50 L483.80,39.27 L484.20,38.61 L484.60,37.67 L485.00,36.50 L485.40,37.67 L485.80,38.61 L486.20,39.27 L486.60,39.50 L487.00,39.50 L487.40,39.50 L487.80,39.50 L488.20,39.50 L488.60,39.50 L489.00,39.50 L489.40,39.50 L489.80,39.50 L490.20,39.50 L490.60,39.50 L491.00,39.50 L491.40,39.50 L491.80,39.50 L492.20,39.50 L492.60,39.50 L493.00,39.50 L493.40,39.27 L493.80,38.80 L494.20,38.80 L494.60,39.27 L495.00,39.50 L495.40,39.50 L495.80,39.50 L496.20,39.50 L496.60,39.50 L497.00,39.50 L497.40,39.50 L497.80,39.50 L498.20,39.50 L498.60,39.50 L499.00,39.50 L499.40,39.50 L499.80,39.50 L500.20,39.50 L500.60,39.50 L501.00,39.50 L501.40,39.50 L501.80,39.50 L502.20,39.50 L502.60,39.50 L503.00,39.50 L503.40,39.50 L503.80,39.50 L504.20,39.50 L504.60,39.50 L505.00,39.50 L505.40,39.50 L505.80,39.27 L506.20,38.61 L506.60,37.67 L507.00,36.50 L507.40,37.67 L507.80,38.61 L508.20,39.27 L508.60,39.50 L509.00,39.50 L509.40,39.50 L509.80,39.50 L510.20,39.50 L510.60,39.50 L511.00,39.50 L511.40,39.50 L511.50,39.50 Z" fill="#d8c23a" stroke="#d8c23a" stroke-width="0.3" fill-opacity="0.8"/>
<line x1="469.00" y1="39.50" x2="511.50" y2="39.50" stroke="#4a4a4a" stroke-width="0.9"/>
<path d="M469.00,55.50 L469.00,55.50 L469.40,55.50 L469.80,55.50 L470.20,55.50 L470.60,55.50 L471.00,55.50 L471.40,55.50 L471.80,55.50 L472.20,55.50 L472.60,55.50 L473.00,55.50 L473.40,55.50 L473.80,55.50 L474.20,55.50 L474.60,55.50 L475.00,55.50 L475.40,55.50 L475.80,55.39 L476.20,55.06 L476.60,54.59 L477.00,54.00 L477.40,54.59 L477.80,55.06 L478.20,55.39 L478.60,55.50 L479.00,55.50 L479.40,55.50 L479.80,55.50 L480.20,55.50 L480.60,55.50 L481.00,55.50 L481.40,55.50 L481.80,55.50 L482.20,55.50 L482.60,55.50 L483.00,55.50 L483.40,55.50 L483.80,55.50 L484.20,55.50 L484.60,55.50 L485.00,55.50 L485.40,55.50 L485.80,55.50 L486.20,55.50 L486.60,55.50 L487.00,55.50 L487.40,55.50 L487.80,55.50 L488.20,55.50 L488.60,55.50 L489.00,55.50 L489.40,55.50 L489.80,55.50 L490.20,55.50 L490.60,55.50 L491.00,55.50 L491.40,55.50 L491.80,55.50 L492.20,55.50 L492.60,55.50 L493.00,55.41 L493.40,55.01 L493.80,54.38 L494.20,54.38 L494.60,55.01 L495.00,55.41 L495.40,55.50 L495.80,55.50 L496.20,55.50 L496.60,55.50 L497.00,55.50 L497.40,55.50 L497.80,55.50 L498.20,55.50 L498.60,55.50 L499.00,55.50 L499.40,55.50 L499.80,55.50 L500.20,55.50 L500.60,55.50 L501.00,55.50 L501.40,55.50 L501.80,55.50 L502.20,55.50 L502.60,55.50 L503.00,55.50 L503.40,55.50 L503.80,55.50 L504.20,55.50 L504.60,55.50 L505.00,55.50 L505.40,55.35 L505.80,55.04 L506.20,54.62 L506.60,54.10 L507.00,53.50 L507.40,54.10 L507.80,54.62 L508.20,55.04 L508.60,55.35 L509.00,55.50 L509.40,55.50 L509.80,55.50 L510.20,55.50 L510.60,55.50 L511.00,55.50 L511.40,55.50 L511.50,55.50 Z" fill="#c4472a" stroke="#c4472a" stroke-width="0.3" fill-opacity="0.8"/>
<line x1="469.00" y1="55.50" x2="511.50" y2="55.50" stroke="#4a4a4a" stroke-width="0.9"/>
<path d="M469.00,71.50 L469.00,71.50 L469.40,71.50 L469.80,71.50 L470.20,71.50 L470.60,71.50 L471.00,71.50 L471.40,71.50 L471.80,71.50 L472.20,71.50 L472.60,71.50 L473.00,71.50 L473.40,71.50 L473.80,71.50 L474.20,71.50 L474.60,71.50 L475.00,71.27 L475.40,70.18 L475.80,68.51 L476.20,68.51 L476.60,70.18 L477.00,71.27 L477.40,71.44 L477.80,70.76 L478.20,69.61 L478.60,68.89 L479.00,70.23 L479.40,71.17 L479.80,71.50 L480.20,71.50 L480.60,71.50 L481.00,71.50 L481.40,71.50 L481.80,71.50 L482.20,71.50 L482.60,71.50 L483.00,71.41 L483.40,71.01 L483.80,70.38 L484.20,70.38 L484.60,71.01 L485.00,71.41 L485.40,71.50 L485.80,71.50 L486.20,71.50 L486.60,71.50 L487.00,71.50 L487.40,71.50 L487.80,71.50 L488.20,71.50 L488.60,71.50 L489.00,71.50 L489.40,71.50 L489.80,71.50 L490.20,71.50 L490.60,71.50 L491.00,71.50 L491.40,71.50 L491.80,71.50 L492.20,71.50 L492.60,71.50 L493.00,71.41 L493.40,71.01 L493.80,70.38 L494.20,70.38 L494.60,71.01 L495.00,71.41 L495.40,71.50 L495.80,71.50 L496.20,71.50 L496.60,71.50 L497.00,71.50 L497.40,71.50 L497.80,71.50 L498.20,71.50 L498.60,71.50 L499.00,71.50 L499.40,71.50 L499.80,71.50 L500.20,71.50 L500.60,71.50 L501.00,71.50 L501.40,71.50 L501.80,71.50 L502.20,71.50 L502.60,71.50 L503.00,71.50 L503.40,71.50 L503.80,71.50 L504.20,71.50 L504.60,71.50 L505.00,71.12 L505.40,70.01 L505.80,68.44 L506.20,68.44 L506.60,70.01 L507.00,71.12 L507.40,70.51 L507.80,69.26 L508.20,69.26 L508.60,70.51 L509.00,71.33 L509.40,71.50 L509.80,71.50 L510.20,71.50 L510.60,71.50 L511.00,71.50 L511.40,71.50 L511.50,71.50 Z" fill="#5eae5a" stroke="#5eae5a" stroke-width="0.3" fill-opacity="0.8"/>
<line x1="469.00" y1="71.50" x2="511.50" y2="71.50" stroke="#4a4a4a" stroke-width="0.9"/>
<path d="M469.00,87.50 L469.00,87.50 L469.40,87.50 L469.80,87.50 L470.20,87.50 L470.60,87.50 L471.00,87.50 L471.40,87.50 L471.80,87.50 L472.20,87.50 L472.60,87.50 L473.00,87.50 L473.40,87.50 L473.80,87.50 L474.20,87.50 L474.60,87.50 L475.00,87.27 L475.40,86.18 L475.80,84.51 L476.20,84.51 L476.60,86.18 L477.00,87.27 L477.40,86.51 L477.80,85.26 L478.20,85.26 L478.60,86.51 L479.00,87.33 L479.40,87.50 L479.80,87.50 L480.20,87.50 L480.60,87.50 L481.00,87.50 L481.40,87.50 L481.80,87.50 L482.20,87.50 L482.60,87.50 L483.00,87.50 L483.40,87.50 L483.80,87.47 L484.20,87.07 L484.60,86.39 L485.00,85.50 L485.40,86.39 L485.80,87.07 L486.20,87.47 L486.60,87.50 L487.00,87.50 L487.40,87.50 L487.80,87.50 L488.20,87.50 L488.60,87.50 L489.00,87.50 L489.40,87.50 L489.80,87.50 L490.20,87.50 L490.60,87.50 L491.00,87.50 L491.40,87.50 L491.80,87.50 L492.20,87.50 L492.60,87.50 L493.00,87.50 L493.40,87.50 L493.80,87.50 L494.20,87.50 L494.60,87.50 L495.00,87.50 L495.40,87.50 L495.80,87.50 L496.20,87.50 L496.60,87.50 L497.00,87.50 L497.40,87.50 L497.80,87.50 L498.20,87.50 L498.60,87.50 L499.00,87.50 L499.40,87.50 L499.80,87.50 L500.20,87.50 L500.60,87.50 L501.00,87.50 L501.40,87.50 L501.80,87.50 L502.20,87.50 L502.60,87.50 L503.00,87.50 L503.40,87.50 L503.80,87.50 L504.20,87.50 L504.60,87.50 L505.00,87.50 L505.40,87.50 L505.80,87.27 L506.20,86.61 L506.60,85.67 L507.00,84.50 L507.40,85.67 L507.80,86.61 L508.20,87.27 L508.60,87.50 L509.00,87.50 L509.40,87.50 L509.80,87.50 L510.20,87.50 L510.60,87.50 L511.00,87.50 L511.40,87.50 L511.50,87.50 Z" fill="#7396c4" stroke="#7396c4" stroke-width="0.3" fill-opacity="0.8"/>
<line x1="469.00" y1="87.50" x2="511.50" y2="87.50" stroke="#4a4a4a" stroke-width="0.9"/>
<path d="M469.00,103.50 L469.00,103.50 L469.40,103.50 L469.80,103.50 L470.20,103.50 L470.60,103.50 L471.00,103.50 L471.40,103.50 L471.80,103.50 L472.20,103.50 L472.60,103.50 L473.00,103.50 L473.40,103.50 L473.80,103.50 L474.20,103.50 L474.60,103.50 L475.00,102.93 L475.40,101.27 L475.80,98.91 L476.20,98.91 L476.60,101.27 L477.00,102.93 L477.40,103.20 L477.80,101.76 L478.20,99.56 L478.60,98.22 L479.00,100.74 L479.40,102.59 L479.80,103.50 L480.20,103.50 L480.60,103.50 L481.00,103.50 L481.40,103.50 L481.80,103.50 L482.20,103.50 L482.60,103.50 L483.00,103.50 L483.40,103.50 L483.80,103.40 L484.20,102.20 L484.60,100.17 L485.00,97.50 L485.40,100.17 L485.80,102.20 L486.20,102.64 L486.60,100.89 L487.00,98.50 L487.40,100.89 L487.80,102.64 L488.20,103.50 L488.60,103.50 L489.00,103.50 L489.40,103.50 L489.80,103.50 L490.20,103.50 L490.60,103.50 L491.00,103.50 L491.40,103.50 L491.80,103.50 L492.20,103.50 L492.60,103.34 L493.00,101.43 L493.40,98.20 L493.80,93.96 L494.20,93.96 L494.60,98.20 L495.00,101.43 L495.40,103.34 L495.80,103.50 L496.20,103.50 L496.60,103.50 L497.00,103.50 L497.40,103.50 L497.80,103.50 L498.20,103.50 L498.60,103.50 L499.00,103.50 L499.40,103.50 L499.80,103.50 L500.20,103.50 L500.60,103.50 L501.00,103.50 L501.40,103.50 L501.80,103.50 L502.20,103.50 L502.60,103.50 L503.00,103.50 L503.40,103.50 L503.80,103.50 L504.20,103.50 L504.60,103.50 L505.00,102.93 L505.40,101.27 L505.80,98.91 L506.20,98.91 L506.60,101.27 L507.00,102.93 L507.40,103.20 L507.80,101.76 L508.20,99.56 L508.60,98.22 L509.00,100.74 L509.40,102.59 L509.80,103.50 L510.20,103.50 L510.60,103.50 L511.00,103.50 L511.40,103.50 L511.50,103.50 Z" fill="#62539e" stroke="#62539e" stroke-width="0.3" fill-opacity="0.8"/>
<line x1="469.00" y1="103.50" x2="511.50" y2="103.50" stroke="#4a4a4a" stroke-width="0.9"/>
<path d="M469.00,119.50 L469.00,119.50 L469.40,119.50 L469.80,119.50 L470.20,119.50 L470.60,119.50 L471.00,119.50 L471.40,119.50 L471.80,119.50 L472.20,119.50 L472.60,119.50 L473.00,119.50 L473.40,119.50 L473.80,119.50 L474.20,119.50 L474.60,119.50 L475.00,119.50 L475.40,119.50 L475.80,119.31 L476.20,118.76 L476.60,117.98 L477.00,117.00 L477.40,117.98 L477.80,118.76 L478.20,119.31 L478.60,119.50 L479.00,119.50 L479.40,119.50 L479.80,119.50 L480.20,119.50 L480.60,119.50 L481.00,119.50 L481.40,119.50 L481.80,119.50 L482.20,119.50 L482.60,119.50 L483.00,119.50 L483.40,119.50 L483.80,119.35 L484.20,118.91 L484.60,118.28 L485.00,117.50 L485.40,118.28 L485.80,118.91 L486.20,119.35 L486.60,119.50 L487.00,119.50 L487.40,119.50 L487.80,119.50 L488.20,119.50 L488.60,119.50 L489.00,119.50 L489.40,119.50 L489.80,119.50 L490.20,119.50 L490.60,119.50 L491.00,119.50 L491.40,119.50 L491.80,119.50 L492.20,119.50 L492.60,119.50 L493.00,119.36 L493.40,118.68 L493.80,117.63 L494.20,117.63 L494.60,118.68 L495.00,119.36 L495.40,119.50 L495.80,119.50 L496.20,119.50 L496.60,119.50 L497.00,119.50 L497.40,119.50 L497.80,119.50 L498.20,119.50 L498.60,119.50 L499.00,119.50 L499.40,119.50 L499.80,119.50 L500.20,119.50 L500.60,119.50 L501.00,119.50 L501.40,119.50 L501.80,119.50 L502.20,119.50 L502.60,119.50 L503.00,119.50 L503.40,119.50 L503.80,119.50 L504.20,119.50 L504.60,119.50 L505.00,119.50 L505.40,119.41 L505.80,118.98 L506.20,118.33 L506.60,117.49 L507.00,116.50 L507.40,117.49 L507.80,118.33 L508.20,118.98 L508.60,119.41 L509.00,119.50 L509.40,119.50 L509.80,119.50 L510.20,119.50 L510.60,119.50 L511.00,119.50 L511.40,119.50 L511.50,119.50 Z" fill="#2aa58e" stroke="#2aa58e" stroke-width="0.3" fill-opacity="0.8"/>
<line x1="469.00" y1="119.50" x2="511.50" y2="119.50" stroke="#4a4a4a" stroke-width="0.9"/>
<line x1="192.40" y1="131.60" x2="192.40" y2="161.20" stroke="#444" stroke-width="0.9"/>
<text transform="translate(187.3,146.3) rotate(-90)" font-size="8" fill="#333" stroke="#333" stroke-width="0.08" text-anchor="middle" x="0" y="0" textLength="19" lengthAdjust="spacingAndGlyphs">Genes</text>
<text x="269.20" y="138.80" font-size="6.1" fill="#111" text-anchor="middle" font-weight="bold" textLength="21.30" lengthAdjust="spacingAndGlyphs">AGAP1</text>
<rect x="249.20" y="141.50" width="37.50" height="3.50" fill="#2a2a8a" stroke="none" stroke-width="1"/>
<path d="M286.50,140.80 L290.00,143.25 L286.50,145.70 Z" fill="#2a2a8a" stroke="none" stroke-width="1"/>
<text x="325.00" y="131.70" font-size="6.2" fill="#444" stroke="#444" stroke-width="0.1" text-anchor="middle" textLength="22.20" lengthAdjust="spacingAndGlyphs">MCPH1</text>
<line x1="304.30" y1="134.30" x2="344.70" y2="134.30" stroke="#6a62b8" stroke-width="0.7"/>
<path d="M303.70,133.20 L304.90,134.30 L303.70,135.40" fill="none" stroke="#6a62b8" stroke-width="0.6"/>
<path d="M313.50,133.20 L314.70,134.30 L313.50,135.40" fill="none" stroke="#6a62b8" stroke-width="0.6"/>
<path d="M323.70,133.20 L324.90,134.30 L323.70,135.40" fill="none" stroke="#6a62b8" stroke-width="0.6"/>
<path d="M334.00,133.20 L335.20,134.30 L334.00,135.40" fill="none" stroke="#6a62b8" stroke-width="0.6"/>
<path d="M343.50,133.20 L344.70,134.30 L343.50,135.40" fill="none" stroke="#6a62b8" stroke-width="0.6"/>
<text x="325.50" y="141.80" font-size="6.1" fill="#111" text-anchor="middle" font-weight="bold" textLength="26.00" lengthAdjust="spacingAndGlyphs">ANGPT2</text>
<line x1="305.80" y1="145.30" x2="344.70" y2="145.30" stroke="#3a9a3a" stroke-width="0.7"/>
<path d="M305.30,144.20 L306.50,145.30 L305.30,146.40" fill="none" stroke="#3a9a3a" stroke-width="0.6"/>
<path d="M315.40,144.20 L316.60,145.30 L315.40,146.40" fill="none" stroke="#3a9a3a" stroke-width="0.6"/>
<path d="M325.10,144.20 L326.30,145.30 L325.10,146.40" fill="none" stroke="#3a9a3a" stroke-width="0.6"/>
<path d="M334.80,144.20 L336.00,145.30 L334.80,146.40" fill="none" stroke="#3a9a3a" stroke-width="0.6"/>
<text x="382.00" y="139.10" font-size="6.1" fill="#111" text-anchor="middle" font-weight="bold" textLength="20.50" lengthAdjust="spacingAndGlyphs">GATA3</text>
<line x1="359.00" y1="143.20" x2="399.40" y2="143.20" stroke="#2a2a8a" stroke-width="0.8"/>
<rect x="361.50" y="140.90" width="2.00" height="4.60" fill="#2a2a8a" stroke="none" stroke-width="1"/>
<rect x="364.20" y="141.20" width="1.40" height="4.00" fill="#2a2a8a" stroke="none" stroke-width="1"/>
<rect x="373.30" y="140.90" width="1.50" height="4.60" fill="#2a2a8a" stroke="none" stroke-width="1"/>
<rect x="389.20" y="141.70" width="0.80" height="3.00" fill="#2a2a8a" stroke="none" stroke-width="1"/>
<path d="M359.40,142.20 L360.60,143.20 L359.40,144.20" fill="none" stroke="#2a2a8a" stroke-width="0.5"/>
<path d="M366.70,142.20 L367.90,143.20 L366.70,144.20" fill="none" stroke="#2a2a8a" stroke-width="0.5"/>
<path d="M369.20,142.20 L370.40,143.20 L369.20,144.20" fill="none" stroke="#2a2a8a" stroke-width="0.5"/>
<path d="M376.70,142.20 L377.90,143.20 L376.70,144.20" fill="none" stroke="#2a2a8a" stroke-width="0.5"/>
<path d="M379.70,142.20 L380.90,143.20 L379.70,144.20" fill="none" stroke="#2a2a8a" stroke-width="0.5"/>
<path d="M382.70,142.20 L383.90,143.20 L382.70,144.20" fill="none" stroke="#2a2a8a" stroke-width="0.5"/>
<path d="M385.70,142.20 L386.90,143.20 L385.70,144.20" fill="none" stroke="#2a2a8a" stroke-width="0.5"/>
<path d="M391.70,142.20 L392.90,143.20 L391.70,144.20" fill="none" stroke="#2a2a8a" stroke-width="0.5"/>
<path d="M394.70,142.20 L395.90,143.20 L394.70,144.20" fill="none" stroke="#2a2a8a" stroke-width="0.5"/>
<path d="M397.70,142.20 L398.90,143.20 L397.70,144.20" fill="none" stroke="#2a2a8a" stroke-width="0.5"/>
<text x="434.00" y="139.10" font-size="6.1" fill="#111" text-anchor="middle" font-weight="bold" textLength="24.00" lengthAdjust="spacingAndGlyphs">S100A16</text>
<line x1="415.00" y1="143.20" x2="455.00" y2="143.20" stroke="#2a2a8a" stroke-width="0.8"/>
<rect x="415.00" y="141.00" width="5.00" height="4.40" fill="#2a2a8a" stroke="none" stroke-width="1"/>
<rect x="427.00" y="141.20" width="2.00" height="4.00" fill="#2a2a8a" stroke="none" stroke-width="1"/>
<rect x="454.00" y="141.20" width="1.00" height="4.00" fill="#2a2a8a" stroke="none" stroke-width="1"/>
<path d="M423.20,142.20 L424.40,143.20 L423.20,144.20" fill="none" stroke="#2a2a8a" stroke-width="0.5"/>
<path d="M432.20,142.20 L433.40,143.20 L432.20,144.20" fill="none" stroke="#2a2a8a" stroke-width="0.5"/>
<path d="M439.20,142.20 L440.40,143.20 L439.20,144.20" fill="none" stroke="#2a2a8a" stroke-width="0.5"/>
<path d="M446.20,142.20 L447.40,143.20 L446.20,144.20" fill="none" stroke="#2a2a8a" stroke-width="0.5"/>
<text x="490.60" y="139.10" font-size="6.1" fill="#111" text-anchor="middle" font-weight="bold" textLength="18.50" lengthAdjust="spacingAndGlyphs">MCAM</text>
<line x1="470.40" y1="143.20" x2="510.40" y2="143.20" stroke="#2a2a8a" stroke-width="0.8"/>
<rect x="470.40" y="141.20" width="1.00" height="4.00" fill="#2a2a8a" stroke="none" stroke-width="1"/>
<rect x="472.50" y="141.20" width="3.50" height="4.00" fill="#2a2a8a" stroke="none" stroke-width="1"/>
<rect x="478.00" y="141.20" width="2.00" height="4.00" fill="#2a2a8a" stroke="none" stroke-width="1"/>
<rect x="483.00" y="141.20" width="2.00" height="4.00" fill="#2a2a8a" stroke="none" stroke-width="1"/>
<rect x="488.00" y="141.20" width="2.00" height="4.00" fill="#2a2a8a" stroke="none" stroke-width="1"/>
<rect x="499.50" y="141.20" width="1.00" height="4.00" fill="#2a2a8a" stroke="none" stroke-width="1"/>
<rect x="509.00" y="141.20" width="1.40" height="4.00" fill="#2a2a8a" stroke="none" stroke-width="1"/>
<path d="M480.70,142.20 L481.90,143.20 L480.70,144.20" fill="none" stroke="#2a2a8a" stroke-width="0.5"/>
<path d="M485.70,142.20 L486.90,143.20 L485.70,144.20" fill="none" stroke="#2a2a8a" stroke-width="0.5"/>
<path d="M492.20,142.20 L493.40,143.20 L492.20,144.20" fill="none" stroke="#2a2a8a" stroke-width="0.5"/>
<path d="M495.20,142.20 L496.40,143.20 L495.20,144.20" fill="none" stroke="#2a2a8a" stroke-width="0.5"/>
<path d="M503.20,142.20 L504.40,143.20 L503.20,144.20" fill="none" stroke="#2a2a8a" stroke-width="0.5"/>
<line x1="248.70" y1="149.10" x2="290.80" y2="149.10" stroke="#222" stroke-width="1.0"/>
<line x1="249.80" y1="149.10" x2="249.80" y2="151.30" stroke="#222" stroke-width="0.7"/>
<line x1="259.60" y1="149.10" x2="259.60" y2="151.30" stroke="#222" stroke-width="0.7"/>
<line x1="269.40" y1="149.10" x2="269.40" y2="151.30" stroke="#222" stroke-width="0.7"/>
<line x1="279.20" y1="149.10" x2="279.20" y2="151.30" stroke="#222" stroke-width="0.7"/>
<line x1="289.00" y1="149.10" x2="289.00" y2="151.30" stroke="#222" stroke-width="0.7"/>
<text x="251.20" y="158.50" font-size="3.6" fill="#555" stroke="#555" stroke-width="0.1" text-anchor="middle">236400000</text>
<text x="277.50" y="158.50" font-size="3.6" fill="#555" stroke="#555" stroke-width="0.1" text-anchor="middle">236500000</text>
<text x="267.20" y="170.60" font-size="8.2" fill="#333" stroke="#333" stroke-width="0.1" text-anchor="middle" textLength="38.90" lengthAdjust="spacingAndGlyphs">chr2 position</text>
<text x="267.20" y="179.80" font-size="8.0" fill="#333" stroke="#333" stroke-width="0.1" text-anchor="middle" textLength="12.10" lengthAdjust="spacingAndGlyphs">(kb)</text>
<line x1="304.30" y1="149.10" x2="346.60" y2="149.10" stroke="#222" stroke-width="1.0"/>
<line x1="305.80" y1="149.10" x2="305.80" y2="151.30" stroke="#222" stroke-width="0.7"/>
<line x1="315.40" y1="149.10" x2="315.40" y2="151.30" stroke="#222" stroke-width="0.7"/>
<line x1="325.40" y1="149.10" x2="325.40" y2="151.30" stroke="#222" stroke-width="0.7"/>
<line x1="335.30" y1="149.10" x2="335.30" y2="151.30" stroke="#222" stroke-width="0.7"/>
<line x1="345.20" y1="149.10" x2="345.20" y2="151.30" stroke="#222" stroke-width="0.7"/>
<text x="309.40" y="158.50" font-size="3.6" fill="#555" stroke="#555" stroke-width="0.1" text-anchor="middle">6398000</text>
<text x="336.50" y="158.50" font-size="3.6" fill="#555" stroke="#555" stroke-width="0.1" text-anchor="middle">6402000</text>
<text x="324.00" y="170.60" font-size="8.2" fill="#333" stroke="#333" stroke-width="0.1" text-anchor="middle" textLength="39.50" lengthAdjust="spacingAndGlyphs">chr8 position</text>
<text x="324.00" y="179.80" font-size="8.0" fill="#333" stroke="#333" stroke-width="0.1" text-anchor="middle" textLength="12.10" lengthAdjust="spacingAndGlyphs">(kb)</text>
<line x1="359.00" y1="149.10" x2="401.70" y2="149.10" stroke="#222" stroke-width="1.0"/>
<line x1="372.50" y1="149.10" x2="372.50" y2="151.30" stroke="#222" stroke-width="0.7"/>
<line x1="387.50" y1="149.10" x2="387.50" y2="151.30" stroke="#222" stroke-width="0.7"/>
<text x="369.80" y="158.50" font-size="3.6" fill="#555" stroke="#555" stroke-width="0.1" text-anchor="middle">8100000</text>
<text x="389.60" y="158.50" font-size="3.6" fill="#555" stroke="#555" stroke-width="0.1" text-anchor="middle">8105000</text>
<text x="379.80" y="170.60" font-size="8.2" fill="#333" stroke="#333" stroke-width="0.1" text-anchor="middle" textLength="43.60" lengthAdjust="spacingAndGlyphs">chr10 position</text>
<text x="379.80" y="179.80" font-size="8.0" fill="#333" stroke="#333" stroke-width="0.1" text-anchor="middle" textLength="12.10" lengthAdjust="spacingAndGlyphs">(kb)</text>
<line x1="413.50" y1="149.10" x2="455.80" y2="149.10" stroke="#222" stroke-width="1.0"/>
<line x1="425.00" y1="149.10" x2="425.00" y2="151.30" stroke="#222" stroke-width="0.7"/>
<line x1="445.00" y1="149.10" x2="445.00" y2="151.30" stroke="#222" stroke-width="0.7"/>
<text x="421.50" y="158.50" font-size="3.6" fill="#555" stroke="#555" stroke-width="0.1" text-anchor="middle">153580000</text>
<text x="444.00" y="158.50" font-size="3.6" fill="#555" stroke="#555" stroke-width="0.1" text-anchor="middle">153584000</text>
<text x="434.30" y="170.60" font-size="8.2" fill="#333" stroke="#333" stroke-width="0.1" text-anchor="middle" textLength="39.80" lengthAdjust="spacingAndGlyphs">chr1 position</text>
<text x="434.30" y="179.80" font-size="8.0" fill="#333" stroke="#333" stroke-width="0.1" text-anchor="middle" textLength="12.10" lengthAdjust="spacingAndGlyphs">(kb)</text>
<line x1="469.00" y1="149.10" x2="511.50" y2="149.10" stroke="#222" stroke-width="1.0"/>
<line x1="471.00" y1="149.10" x2="471.00" y2="151.30" stroke="#222" stroke-width="0.7"/>
<line x1="477.00" y1="149.10" x2="477.00" y2="151.30" stroke="#222" stroke-width="0.7"/>
<line x1="483.00" y1="149.10" x2="483.00" y2="151.30" stroke="#222" stroke-width="0.7"/>
<line x1="489.00" y1="149.10" x2="489.00" y2="151.30" stroke="#222" stroke-width="0.7"/>
<line x1="495.00" y1="149.10" x2="495.00" y2="151.30" stroke="#222" stroke-width="0.7"/>
<line x1="501.00" y1="149.10" x2="501.00" y2="151.30" stroke="#222" stroke-width="0.7"/>
<line x1="507.00" y1="149.10" x2="507.00" y2="151.30" stroke="#222" stroke-width="0.7"/>
<text x="477.00" y="158.50" font-size="3.6" fill="#555" stroke="#555" stroke-width="0.1" text-anchor="middle">119185000</text>
<text x="505.00" y="158.50" font-size="3.6" fill="#555" stroke="#555" stroke-width="0.1" text-anchor="middle">119191000</text>
<text x="489.70" y="170.60" font-size="8.2" fill="#333" stroke="#333" stroke-width="0.1" text-anchor="middle" textLength="43.30" lengthAdjust="spacingAndGlyphs">chr11 position</text>
<text x="489.70" y="179.80" font-size="8.0" fill="#333" stroke="#333" stroke-width="0.1" text-anchor="middle" textLength="12.10" lengthAdjust="spacingAndGlyphs">(kb)</text>
<text x="7.20" y="218.20" font-size="10" fill="#111" font-weight="bold">C</text>
<text x="131.10" y="241.50" font-size="6.4" fill="#333" stroke="#333" stroke-width="0.1" textLength="17.70" lengthAdjust="spacingAndGlyphs">Count</text>
<circle cx="154.30" cy="239.10" r="2.45" fill="#111" stroke="none" stroke-width="0.5"/>
<text transform="translate(153.10,233.4) rotate(-45)" font-size="6.0" fill="#333" stroke="#333" stroke-width="0.1" x="0" y="0">10</text>
<circle cx="162.10" cy="239.10" r="2.75" fill="#111" stroke="none" stroke-width="0.5"/>
<text transform="translate(160.90,233.4) rotate(-45)" font-size="6.0" fill="#333" stroke="#333" stroke-width="0.1" x="0" y="0">20</text>
<circle cx="169.90" cy="239.10" r="3.20" fill="#111" stroke="none" stroke-width="0.5"/>
<text transform="translate(168.70,233.4) rotate(-45)" font-size="6.0" fill="#333" stroke="#333" stroke-width="0.1" x="0" y="0">30</text>
<text x="193.00" y="241.50" font-size="6.4" fill="#333" stroke="#333" stroke-width="0.1" textLength="23.00" lengthAdjust="spacingAndGlyphs">p-adjust</text>
<defs><linearGradient id="padj" x1="0" x2="1" y1="0" y2="0"><stop offset="0" stop-color="#5a5ab0"/><stop offset="0.5" stop-color="#d48aa8"/><stop offset="1" stop-color="#f0a03c"/></linearGradient><linearGradient id="lfc" x1="0" x2="1" y1="0" y2="0"><stop offset="0" stop-color="#f9d0c0"/><stop offset="1" stop-color="#e2432e"/></linearGradient></defs>
<rect x="219.00" y="236.50" width="35.90" height="5.30" fill="url(#padj)" stroke="none" stroke-width="1"/>
<text transform="translate(224.90,232.6) rotate(-45)" font-size="6.2" fill="#333" stroke="#333" stroke-width="0.1" x="0" y="0">0.005</text>
<text transform="translate(232.60,232.6) rotate(-45)" font-size="6.2" fill="#333" stroke="#333" stroke-width="0.1" x="0" y="0">0.010</text>
<text transform="translate(240.30,232.6) rotate(-45)" font-size="6.2" fill="#333" stroke="#333" stroke-width="0.1" x="0" y="0">0.015</text>
<text transform="translate(248.00,232.6) rotate(-45)" font-size="6.2" fill="#333" stroke="#333" stroke-width="0.1" x="0" y="0">0.020</text>
<text x="135.30" y="254.80" font-size="8.2" fill="#222" stroke="#222" stroke-width="0.1" text-anchor="middle" textLength="36.40" lengthAdjust="spacingAndGlyphs">Activated</text>
<text x="221.20" y="254.80" font-size="8.2" fill="#222" stroke="#222" stroke-width="0.1" text-anchor="middle" textLength="39.60" lengthAdjust="spacingAndGlyphs">Supressed</text>
<text x="88.80" y="267.20" font-size="6.5" fill="#333" stroke="#333" stroke-width="0.1" text-anchor="end">Gamma delta T cells</text>
<line x1="91.60" y1="265.00" x2="94.80" y2="265.00" stroke="#222" stroke-width="0.9"/>
<text x="88.80" y="277.30" font-size="6.5" fill="#333" stroke="#333" stroke-width="0.1" text-anchor="end">B cells</text>
<line x1="91.60" y1="275.10" x2="94.80" y2="275.10" stroke="#222" stroke-width="0.9"/>
<text x="88.80" y="286.80" font-size="6.5" fill="#333" stroke="#333" stroke-width="0.1" text-anchor="end">T memory cells</text>
<line x1="91.60" y1="284.60" x2="94.80" y2="284.60" stroke="#222" stroke-width="0.9"/>
<text x="88.80" y="296.60" font-size="6.5" fill="#333" stroke="#333" stroke-width="0.1" text-anchor="end">B cells memory</text>
<line x1="91.60" y1="294.40" x2="94.80" y2="294.40" stroke="#222" stroke-width="0.9"/>
<text x="88.80" y="305.80" font-size="6.5" fill="#333" stroke="#333" stroke-width="0.1" text-anchor="end">Plasma cells</text>
<line x1="91.60" y1="303.60" x2="94.80" y2="303.60" stroke="#222" stroke-width="0.9"/>
<text x="88.80" y="315.70" font-size="6.5" fill="#333" stroke="#333" stroke-width="0.1" text-anchor="end">Neutrophils</text>
<line x1="91.60" y1="313.50" x2="94.80" y2="313.50" stroke="#222" stroke-width="0.9"/>
<text x="88.80" y="325.20" font-size="6.5" fill="#333" stroke="#333" stroke-width="0.1" text-anchor="end">Mesothelial cells</text>
<line x1="91.60" y1="323.00" x2="94.80" y2="323.00" stroke="#222" stroke-width="0.9"/>
<text x="88.80" y="335.00" font-size="6.5" fill="#333" stroke="#333" stroke-width="0.1" text-anchor="end">Hematopoietic stem cells</text>
<line x1="91.60" y1="332.80" x2="94.80" y2="332.80" stroke="#222" stroke-width="0.9"/>
<text x="88.80" y="344.50" font-size="6.5" fill="#333" stroke="#333" stroke-width="0.1" text-anchor="end">Fibroblasts</text>
<line x1="91.60" y1="342.30" x2="94.80" y2="342.30" stroke="#222" stroke-width="0.9"/>
<text x="88.80" y="354.00" font-size="6.5" fill="#333" stroke="#333" stroke-width="0.1" text-anchor="end">Endothelial cells</text>
<line x1="91.60" y1="351.80" x2="94.80" y2="351.80" stroke="#222" stroke-width="0.9"/>
<text x="88.80" y="363.80" font-size="6.5" fill="#333" stroke="#333" stroke-width="0.1" text-anchor="end">Interneurons</text>
<line x1="91.60" y1="361.60" x2="94.80" y2="361.60" stroke="#222" stroke-width="0.9"/>
<text x="88.80" y="373.30" font-size="6.5" fill="#333" stroke="#333" stroke-width="0.1" text-anchor="end">Podocytes</text>
<line x1="91.60" y1="371.10" x2="94.80" y2="371.10" stroke="#222" stroke-width="0.9"/>
<line x1="94.80" y1="259.50" x2="94.80" y2="377.40" stroke="#222" stroke-width="1"/>
<line x1="94.30" y1="377.00" x2="175.60" y2="377.00" stroke="#222" stroke-width="1"/>
<line x1="180.75" y1="259.50" x2="180.75" y2="377.40" stroke="#222" stroke-width="1"/>
<line x1="180.25" y1="377.00" x2="261.25" y2="377.00" stroke="#222" stroke-width="1"/>
<line x1="114.00" y1="377.00" x2="114.00" y2="379.50" stroke="#222" stroke-width="0.8"/>
<text x="114.00" y="389.20" font-size="6.2" fill="#333" stroke="#333" stroke-width="0.1" text-anchor="middle">0.3</text>
<line x1="135.20" y1="377.00" x2="135.20" y2="379.50" stroke="#222" stroke-width="0.8"/>
<text x="135.20" y="389.20" font-size="6.2" fill="#333" stroke="#333" stroke-width="0.1" text-anchor="middle">0.4</text>
<line x1="156.30" y1="377.00" x2="156.30" y2="379.50" stroke="#222" stroke-width="0.8"/>
<text x="156.30" y="389.20" font-size="6.2" fill="#333" stroke="#333" stroke-width="0.1" text-anchor="middle">0.5</text>
<line x1="200.00" y1="377.00" x2="200.00" y2="379.50" stroke="#222" stroke-width="0.8"/>
<text x="200.00" y="389.20" font-size="6.2" fill="#333" stroke="#333" stroke-width="0.1" text-anchor="middle">0.3</text>
<line x1="221.25" y1="377.00" x2="221.25" y2="379.50" stroke="#222" stroke-width="0.8"/>
<text x="221.25" y="389.20" font-size="6.2" fill="#333" stroke="#333" stroke-width="0.1" text-anchor="middle">0.4</text>
<line x1="242.50" y1="377.00" x2="242.50" y2="379.50" stroke="#222" stroke-width="0.8"/>
<text x="242.50" y="389.20" font-size="6.2" fill="#333" stroke="#333" stroke-width="0.1" text-anchor="middle">0.5</text>
<text x="178.00" y="399.00" font-size="7.2" fill="#333" stroke="#333" stroke-width="0.1" text-anchor="middle" textLength="31.00" lengthAdjust="spacingAndGlyphs">Gene ratio</text>
<circle cx="131.80" cy="323.00" r="1.10" fill="#eba12e" stroke="none" stroke-width="0.5"/>
<circle cx="115.40" cy="332.80" r="2.50" fill="#8a63c0" stroke="none" stroke-width="0.5"/>
<circle cx="114.80" cy="342.30" r="3.00" fill="#5a5cae" stroke="none" stroke-width="0.5"/>
<circle cx="111.60" cy="351.80" r="3.00" fill="#eba12e" stroke="none" stroke-width="0.5"/>
<circle cx="101.80" cy="361.60" r="2.80" fill="#8a63c0" stroke="none" stroke-width="0.5"/>
<circle cx="98.00" cy="371.10" r="1.80" fill="#8a63c0" stroke="none" stroke-width="0.5"/>
<circle cx="257.90" cy="265.00" r="2.50" fill="#6e64ba" stroke="none" stroke-width="0.5"/>
<circle cx="244.00" cy="275.10" r="3.50" fill="#6e64ba" stroke="none" stroke-width="0.5"/>
<circle cx="242.60" cy="284.60" r="2.80" fill="#7a63c2" stroke="none" stroke-width="0.5"/>
<circle cx="238.80" cy="294.40" r="3.00" fill="#eba12e" stroke="none" stroke-width="0.5"/>
<circle cx="223.00" cy="303.60" r="2.20" fill="#6e64ba" stroke="none" stroke-width="0.5"/>
<circle cx="220.50" cy="313.50" r="2.50" fill="#eba12e" stroke="none" stroke-width="0.5"/>
<text x="289.20" y="218.20" font-size="10" fill="#111" font-weight="bold">D</text>
<line x1="387.50" y1="264.50" x2="327.30" y2="239.70" stroke="#cfcfcf" stroke-width="0.45"/>
<line x1="387.50" y1="264.50" x2="357.32" y2="229.50" stroke="#cfcfcf" stroke-width="0.45"/>
<line x1="387.50" y1="264.50" x2="384.43" y2="225.80" stroke="#cfcfcf" stroke-width="0.45"/>
<line x1="387.50" y1="264.50" x2="413.43" y2="225.80" stroke="#cfcfcf" stroke-width="0.45"/>
<line x1="387.50" y1="264.50" x2="432.32" y2="235.50" stroke="#cfcfcf" stroke-width="0.45"/>
<line x1="387.50" y1="264.50" x2="460.20" y2="236.30" stroke="#cfcfcf" stroke-width="0.45"/>
<line x1="387.50" y1="264.50" x2="310.54" y2="251.20" stroke="#cfcfcf" stroke-width="0.45"/>
<line x1="387.50" y1="264.50" x2="353.80" y2="301.20" stroke="#cfcfcf" stroke-width="0.45"/>
<line x1="407.00" y1="349.50" x2="353.80" y2="301.20" stroke="#cfcfcf" stroke-width="0.45"/>
<line x1="387.50" y1="264.50" x2="378.68" y2="296.50" stroke="#cfcfcf" stroke-width="0.45"/>
<line x1="407.00" y1="349.50" x2="378.68" y2="296.50" stroke="#cfcfcf" stroke-width="0.45"/>
<line x1="387.50" y1="264.50" x2="399.50" y2="299.50" stroke="#cfcfcf" stroke-width="0.45"/>
<line x1="407.00" y1="349.50" x2="399.50" y2="299.50" stroke="#cfcfcf" stroke-width="0.45"/>
<line x1="387.50" y1="264.50" x2="417.36" y2="295.00" stroke="#cfcfcf" stroke-width="0.45"/>
<line x1="407.00" y1="349.50" x2="417.36" y2="295.00" stroke="#cfcfcf" stroke-width="0.45"/>
<line x1="387.50" y1="264.50" x2="433.59" y2="294.50" stroke="#cfcfcf" stroke-width="0.45"/>
<line x1="407.00" y1="349.50" x2="433.59" y2="294.50" stroke="#cfcfcf" stroke-width="0.45"/>
<line x1="387.50" y1="264.50" x2="451.82" y2="296.75" stroke="#cfcfcf" stroke-width="0.45"/>
<line x1="407.00" y1="349.50" x2="451.82" y2="296.75" stroke="#cfcfcf" stroke-width="0.45"/>
<line x1="387.50" y1="264.50" x2="371.38" y2="305.30" stroke="#cfcfcf" stroke-width="0.45"/>
<line x1="407.00" y1="349.50" x2="371.38" y2="305.30" stroke="#cfcfcf" stroke-width="0.45"/>
<line x1="387.50" y1="264.50" x2="414.86" y2="302.50" stroke="#cfcfcf" stroke-width="0.45"/>
<line x1="407.00" y1="349.50" x2="414.86" y2="302.50" stroke="#cfcfcf" stroke-width="0.45"/>
<line x1="387.50" y1="264.50" x2="439.24" y2="307.00" stroke="#cfcfcf" stroke-width="0.45"/>
<line x1="407.00" y1="349.50" x2="439.24" y2="307.00" stroke="#cfcfcf" stroke-width="0.45"/>
<line x1="387.50" y1="264.50" x2="346.31" y2="311.50" stroke="#cfcfcf" stroke-width="0.45"/>
<line x1="407.00" y1="349.50" x2="346.31" y2="311.50" stroke="#cfcfcf" stroke-width="0.45"/>
<line x1="387.50" y1="264.50" x2="364.01" y2="312.70" stroke="#cfcfcf" stroke-width="0.45"/>
<line x1="407.00" y1="349.50" x2="364.01" y2="312.70" stroke="#cfcfcf" stroke-width="0.45"/>
<line x1="387.50" y1="264.50" x2="382.64" y2="312.70" stroke="#cfcfcf" stroke-width="0.45"/>
<line x1="407.00" y1="349.50" x2="382.64" y2="312.70" stroke="#cfcfcf" stroke-width="0.45"/>
<line x1="387.50" y1="264.50" x2="402.00" y2="308.00" stroke="#cfcfcf" stroke-width="0.45"/>
<line x1="407.00" y1="349.50" x2="402.00" y2="308.00" stroke="#cfcfcf" stroke-width="0.45"/>
<line x1="407.00" y1="349.50" x2="464.40" y2="309.25" stroke="#cfcfcf" stroke-width="0.45"/>
<line x1="407.00" y1="349.50" x2="330.83" y2="319.20" stroke="#cfcfcf" stroke-width="0.45"/>
<line x1="407.00" y1="349.50" x2="316.70" y2="324.20" stroke="#cfcfcf" stroke-width="0.45"/>
<line x1="407.00" y1="349.50" x2="451.84" y2="321.75" stroke="#cfcfcf" stroke-width="0.45"/>
<line x1="407.00" y1="349.50" x2="481.67" y2="320.75" stroke="#cfcfcf" stroke-width="0.45"/>
<line x1="407.00" y1="349.50" x2="409.53" y2="325.75" stroke="#cfcfcf" stroke-width="0.45"/>
<line x1="407.00" y1="349.50" x2="313.22" y2="332.30" stroke="#cfcfcf" stroke-width="0.45"/>
<line x1="407.00" y1="349.50" x2="347.70" y2="325.90" stroke="#cfcfcf" stroke-width="0.45"/>
<line x1="407.00" y1="349.50" x2="433.20" y2="329.25" stroke="#cfcfcf" stroke-width="0.45"/>
<line x1="407.00" y1="349.50" x2="491.80" y2="327.00" stroke="#cfcfcf" stroke-width="0.45"/>
<line x1="407.00" y1="349.50" x2="371.14" y2="334.00" stroke="#cfcfcf" stroke-width="0.45"/>
<line x1="407.00" y1="349.50" x2="388.33" y2="335.30" stroke="#cfcfcf" stroke-width="0.45"/>
<line x1="407.00" y1="349.50" x2="453.43" y2="331.75" stroke="#cfcfcf" stroke-width="0.45"/>
<line x1="407.00" y1="349.50" x2="423.33" y2="335.50" stroke="#cfcfcf" stroke-width="0.45"/>
<line x1="407.00" y1="349.50" x2="469.83" y2="335.00" stroke="#cfcfcf" stroke-width="0.45"/>
<line x1="407.00" y1="349.50" x2="499.17" y2="333.75" stroke="#cfcfcf" stroke-width="0.45"/>
<line x1="407.00" y1="349.50" x2="310.71" y2="340.40" stroke="#cfcfcf" stroke-width="0.45"/>
<line x1="407.00" y1="349.50" x2="346.71" y2="338.50" stroke="#cfcfcf" stroke-width="0.45"/>
<line x1="407.00" y1="349.50" x2="480.42" y2="341.75" stroke="#cfcfcf" stroke-width="0.45"/>
<line x1="407.00" y1="349.50" x2="499.00" y2="338.40" stroke="#cfcfcf" stroke-width="0.45"/>
<line x1="407.00" y1="349.50" x2="353.53" y2="345.70" stroke="#cfcfcf" stroke-width="0.45"/>
<line x1="407.00" y1="349.50" x2="460.57" y2="345.75" stroke="#cfcfcf" stroke-width="0.45"/>
<line x1="407.00" y1="349.50" x2="309.85" y2="348.00" stroke="#cfcfcf" stroke-width="0.45"/>
<line x1="407.00" y1="349.50" x2="370.95" y2="348.00" stroke="#cfcfcf" stroke-width="0.45"/>
<line x1="407.00" y1="349.50" x2="435.27" y2="350.75" stroke="#cfcfcf" stroke-width="0.45"/>
<line x1="407.00" y1="349.50" x2="504.68" y2="350.75" stroke="#cfcfcf" stroke-width="0.45"/>
<line x1="407.00" y1="349.50" x2="484.63" y2="352.50" stroke="#cfcfcf" stroke-width="0.45"/>
<line x1="407.00" y1="349.50" x2="335.63" y2="353.00" stroke="#cfcfcf" stroke-width="0.45"/>
<line x1="407.00" y1="349.50" x2="360.11" y2="353.00" stroke="#cfcfcf" stroke-width="0.45"/>
<line x1="407.00" y1="349.50" x2="311.48" y2="356.80" stroke="#cfcfcf" stroke-width="0.45"/>
<line x1="407.00" y1="349.50" x2="386.47" y2="357.00" stroke="#cfcfcf" stroke-width="0.45"/>
<line x1="407.00" y1="349.50" x2="466.28" y2="357.20" stroke="#cfcfcf" stroke-width="0.45"/>
<line x1="407.00" y1="349.50" x2="502.17" y2="358.50" stroke="#cfcfcf" stroke-width="0.45"/>
<line x1="407.00" y1="349.50" x2="343.90" y2="359.30" stroke="#cfcfcf" stroke-width="0.45"/>
<line x1="407.00" y1="349.50" x2="447.40" y2="361.25" stroke="#cfcfcf" stroke-width="0.45"/>
<line x1="407.00" y1="349.50" x2="316.52" y2="364.60" stroke="#cfcfcf" stroke-width="0.45"/>
<line x1="407.00" y1="349.50" x2="470.39" y2="364.50" stroke="#cfcfcf" stroke-width="0.45"/>
<line x1="407.00" y1="349.50" x2="369.61" y2="367.00" stroke="#cfcfcf" stroke-width="0.45"/>
<line x1="407.00" y1="349.50" x2="495.76" y2="367.50" stroke="#cfcfcf" stroke-width="0.45"/>
<line x1="407.00" y1="349.50" x2="439.21" y2="368.75" stroke="#cfcfcf" stroke-width="0.45"/>
<line x1="407.00" y1="349.50" x2="408.07" y2="370.00" stroke="#cfcfcf" stroke-width="0.45"/>
<line x1="407.00" y1="349.50" x2="463.23" y2="371.25" stroke="#cfcfcf" stroke-width="0.45"/>
<line x1="407.00" y1="349.50" x2="323.29" y2="372.20" stroke="#cfcfcf" stroke-width="0.45"/>
<line x1="407.00" y1="349.50" x2="385.77" y2="372.20" stroke="#cfcfcf" stroke-width="0.45"/>
<line x1="407.00" y1="349.50" x2="487.84" y2="375.00" stroke="#cfcfcf" stroke-width="0.45"/>
<line x1="407.00" y1="349.50" x2="339.22" y2="375.00" stroke="#cfcfcf" stroke-width="0.45"/>
<line x1="407.00" y1="349.50" x2="410.29" y2="377.50" stroke="#cfcfcf" stroke-width="0.45"/>
<line x1="407.00" y1="349.50" x2="453.81" y2="378.75" stroke="#cfcfcf" stroke-width="0.45"/>
<line x1="407.00" y1="349.50" x2="364.60" y2="379.20" stroke="#cfcfcf" stroke-width="0.45"/>
<line x1="407.00" y1="349.50" x2="325.66" y2="382.00" stroke="#cfcfcf" stroke-width="0.45"/>
<line x1="407.00" y1="349.50" x2="479.62" y2="382.50" stroke="#cfcfcf" stroke-width="0.45"/>
<line x1="407.00" y1="349.50" x2="379.70" y2="387.70" stroke="#cfcfcf" stroke-width="0.45"/>
<line x1="407.00" y1="349.50" x2="426.74" y2="385.00" stroke="#cfcfcf" stroke-width="0.45"/>
<line x1="407.00" y1="349.50" x2="341.54" y2="386.00" stroke="#cfcfcf" stroke-width="0.45"/>
<line x1="407.00" y1="349.50" x2="398.13" y2="387.00" stroke="#cfcfcf" stroke-width="0.45"/>
<line x1="407.00" y1="349.50" x2="465.42" y2="387.00" stroke="#cfcfcf" stroke-width="0.45"/>
<line x1="407.00" y1="349.50" x2="424.32" y2="395.75" stroke="#cfcfcf" stroke-width="0.45"/>
<line x1="407.00" y1="349.50" x2="356.97" y2="397.00" stroke="#cfcfcf" stroke-width="0.45"/>
<line x1="407.00" y1="349.50" x2="453.21" y2="398.25" stroke="#cfcfcf" stroke-width="0.45"/>
<line x1="407.00" y1="349.50" x2="373.70" y2="397.00" stroke="#cfcfcf" stroke-width="0.45"/>
<line x1="407.00" y1="349.50" x2="431.80" y2="402.00" stroke="#cfcfcf" stroke-width="0.45"/>
<line x1="407.00" y1="349.50" x2="393.69" y2="402.20" stroke="#cfcfcf" stroke-width="0.45"/>
<line x1="407.00" y1="349.50" x2="408.96" y2="403.75" stroke="#cfcfcf" stroke-width="0.45"/>
<line x1="387.50" y1="264.50" x2="407.00" y2="349.50" stroke="#cfcfcf" stroke-width="0.45"/>
<circle cx="327.30" cy="239.70" r="1.10" fill="#d4382a" stroke="none" stroke-width="0.5"/>
<circle cx="355.37" cy="226.70" r="0.95" fill="#f0ac98" stroke="none" stroke-width="0.5"/>
<circle cx="383.70" cy="228.40" r="0.95" fill="#f0ac98" stroke="none" stroke-width="0.5"/>
<circle cx="414.14" cy="223.00" r="0.95" fill="#f0ac98" stroke="none" stroke-width="0.5"/>
<circle cx="433.11" cy="238.10" r="0.95" fill="#f0ac98" stroke="none" stroke-width="0.5"/>
<circle cx="460.20" cy="236.30" r="1.10" fill="#d4382a" stroke="none" stroke-width="0.5"/>
<circle cx="308.57" cy="248.40" r="0.95" fill="#f0ac98" stroke="none" stroke-width="0.5"/>
<circle cx="352.37" cy="303.80" r="0.95" fill="#f0ac98" stroke="none" stroke-width="0.5"/>
<circle cx="379.00" cy="299.10" r="0.95" fill="#f0ac98" stroke="none" stroke-width="0.5"/>
<circle cx="399.50" cy="299.50" r="1.10" fill="#d4382a" stroke="none" stroke-width="0.5"/>
<circle cx="416.86" cy="292.20" r="0.95" fill="#f0ac98" stroke="none" stroke-width="0.5"/>
<circle cx="432.01" cy="291.70" r="0.95" fill="#f0ac98" stroke="none" stroke-width="0.5"/>
<circle cx="454.57" cy="299.35" r="0.95" fill="#f0ac98" stroke="none" stroke-width="0.5"/>
<circle cx="373.21" cy="302.50" r="0.95" fill="#f0ac98" stroke="none" stroke-width="0.5"/>
<circle cx="413.20" cy="299.70" r="0.95" fill="#f0ac98" stroke="none" stroke-width="0.5"/>
<circle cx="437.57" cy="304.20" r="0.95" fill="#f0ac98" stroke="none" stroke-width="0.5"/>
<circle cx="347.81" cy="314.10" r="0.95" fill="#f0ac98" stroke="none" stroke-width="0.5"/>
<circle cx="363.82" cy="315.30" r="0.95" fill="#f0ac98" stroke="none" stroke-width="0.5"/>
<circle cx="383.95" cy="315.30" r="0.95" fill="#f0ac98" stroke="none" stroke-width="0.5"/>
<circle cx="402.00" cy="308.00" r="1.10" fill="#d4382a" stroke="none" stroke-width="0.5"/>
<circle cx="463.93" cy="311.85" r="0.95" fill="#f0ac98" stroke="none" stroke-width="0.5"/>
<circle cx="333.44" cy="316.40" r="0.95" fill="#f0ac98" stroke="none" stroke-width="0.5"/>
<circle cx="318.37" cy="321.40" r="0.95" fill="#f0ac98" stroke="none" stroke-width="0.5"/>
<circle cx="449.11" cy="324.35" r="0.95" fill="#f0ac98" stroke="none" stroke-width="0.5"/>
<circle cx="479.59" cy="323.35" r="0.95" fill="#f0ac98" stroke="none" stroke-width="0.5"/>
<circle cx="411.10" cy="328.35" r="0.95" fill="#f0ac98" stroke="none" stroke-width="0.5"/>
<circle cx="312.65" cy="334.90" r="0.95" fill="#f0ac98" stroke="none" stroke-width="0.5"/>
<circle cx="347.70" cy="325.90" r="1.10" fill="#d4382a" stroke="none" stroke-width="0.5"/>
<circle cx="433.83" cy="331.85" r="0.95" fill="#f0ac98" stroke="none" stroke-width="0.5"/>
<circle cx="492.51" cy="329.60" r="0.95" fill="#f0ac98" stroke="none" stroke-width="0.5"/>
<circle cx="372.25" cy="331.20" r="0.95" fill="#f0ac98" stroke="none" stroke-width="0.5"/>
<circle cx="390.42" cy="332.50" r="0.95" fill="#f0ac98" stroke="none" stroke-width="0.5"/>
<circle cx="454.58" cy="334.35" r="0.95" fill="#f0ac98" stroke="none" stroke-width="0.5"/>
<circle cx="427.82" cy="332.70" r="0.95" fill="#f0ac98" stroke="none" stroke-width="0.5"/>
<circle cx="471.09" cy="332.20" r="0.95" fill="#f0ac98" stroke="none" stroke-width="0.5"/>
<circle cx="500.15" cy="336.35" r="0.95" fill="#f0ac98" stroke="none" stroke-width="0.5"/>
<circle cx="309.21" cy="337.60" r="0.95" fill="#f0ac98" stroke="none" stroke-width="0.5"/>
<circle cx="346.55" cy="341.10" r="0.95" fill="#f0ac98" stroke="none" stroke-width="0.5"/>
<circle cx="477.40" cy="338.95" r="0.95" fill="#f0ac98" stroke="none" stroke-width="0.5"/>
<circle cx="499.00" cy="338.40" r="1.10" fill="#d4382a" stroke="none" stroke-width="0.5"/>
<circle cx="353.03" cy="342.90" r="0.95" fill="#f0ac98" stroke="none" stroke-width="0.5"/>
<circle cx="456.99" cy="348.35" r="0.95" fill="#f0ac98" stroke="none" stroke-width="0.5"/>
<circle cx="311.07" cy="345.20" r="0.95" fill="#f0ac98" stroke="none" stroke-width="0.5"/>
<circle cx="367.91" cy="345.20" r="0.95" fill="#f0ac98" stroke="none" stroke-width="0.5"/>
<circle cx="434.39" cy="353.35" r="0.95" fill="#f0ac98" stroke="none" stroke-width="0.5"/>
<circle cx="504.97" cy="353.35" r="0.95" fill="#f0ac98" stroke="none" stroke-width="0.5"/>
<circle cx="484.67" cy="349.70" r="0.95" fill="#f0ac98" stroke="none" stroke-width="0.5"/>
<circle cx="334.16" cy="350.20" r="0.95" fill="#f0ac98" stroke="none" stroke-width="0.5"/>
<circle cx="358.20" cy="350.20" r="0.95" fill="#f0ac98" stroke="none" stroke-width="0.5"/>
<circle cx="313.02" cy="359.40" r="0.95" fill="#f0ac98" stroke="none" stroke-width="0.5"/>
<circle cx="384.97" cy="359.60" r="0.95" fill="#f0ac98" stroke="none" stroke-width="0.5"/>
<circle cx="465.10" cy="354.40" r="0.95" fill="#f0ac98" stroke="none" stroke-width="0.5"/>
<circle cx="505.69" cy="361.10" r="0.95" fill="#f0ac98" stroke="none" stroke-width="0.5"/>
<circle cx="342.69" cy="356.50" r="0.95" fill="#f0ac98" stroke="none" stroke-width="0.5"/>
<circle cx="450.94" cy="363.85" r="0.95" fill="#f0ac98" stroke="none" stroke-width="0.5"/>
<circle cx="315.60" cy="367.20" r="0.95" fill="#f0ac98" stroke="none" stroke-width="0.5"/>
<circle cx="471.59" cy="361.70" r="0.95" fill="#f0ac98" stroke="none" stroke-width="0.5"/>
<circle cx="370.20" cy="369.60" r="0.95" fill="#f0ac98" stroke="none" stroke-width="0.5"/>
<circle cx="495.30" cy="364.70" r="0.95" fill="#f0ac98" stroke="none" stroke-width="0.5"/>
<circle cx="442.26" cy="371.35" r="0.95" fill="#f0ac98" stroke="none" stroke-width="0.5"/>
<circle cx="411.63" cy="372.60" r="0.95" fill="#f0ac98" stroke="none" stroke-width="0.5"/>
<circle cx="463.50" cy="368.45" r="0.95" fill="#f0ac98" stroke="none" stroke-width="0.5"/>
<circle cx="325.02" cy="374.80" r="0.95" fill="#f0ac98" stroke="none" stroke-width="0.5"/>
<circle cx="383.25" cy="369.40" r="0.95" fill="#f0ac98" stroke="none" stroke-width="0.5"/>
<circle cx="483.32" cy="377.60" r="0.95" fill="#f0ac98" stroke="none" stroke-width="0.5"/>
<circle cx="339.05" cy="377.60" r="0.95" fill="#f0ac98" stroke="none" stroke-width="0.5"/>
<circle cx="410.97" cy="380.10" r="0.95" fill="#f0ac98" stroke="none" stroke-width="0.5"/>
<circle cx="454.91" cy="375.95" r="0.95" fill="#f0ac98" stroke="none" stroke-width="0.5"/>
<circle cx="365.20" cy="376.40" r="0.95" fill="#f0ac98" stroke="none" stroke-width="0.5"/>
<circle cx="327.87" cy="384.60" r="0.95" fill="#f0ac98" stroke="none" stroke-width="0.5"/>
<circle cx="480.30" cy="385.10" r="0.95" fill="#f0ac98" stroke="none" stroke-width="0.5"/>
<circle cx="379.70" cy="387.70" r="1.10" fill="#d4382a" stroke="none" stroke-width="0.5"/>
<circle cx="427.70" cy="387.60" r="0.95" fill="#f0ac98" stroke="none" stroke-width="0.5"/>
<circle cx="339.64" cy="383.20" r="0.95" fill="#f0ac98" stroke="none" stroke-width="0.5"/>
<circle cx="397.10" cy="389.60" r="0.95" fill="#f0ac98" stroke="none" stroke-width="0.5"/>
<circle cx="467.94" cy="389.60" r="0.95" fill="#f0ac98" stroke="none" stroke-width="0.5"/>
<circle cx="422.83" cy="398.35" r="0.95" fill="#f0ac98" stroke="none" stroke-width="0.5"/>
<circle cx="354.13" cy="394.20" r="0.95" fill="#f0ac98" stroke="none" stroke-width="0.5"/>
<circle cx="455.56" cy="395.45" r="0.95" fill="#f0ac98" stroke="none" stroke-width="0.5"/>
<circle cx="373.70" cy="397.00" r="1.10" fill="#d4382a" stroke="none" stroke-width="0.5"/>
<circle cx="430.19" cy="399.20" r="0.95" fill="#f0ac98" stroke="none" stroke-width="0.5"/>
<circle cx="394.61" cy="404.80" r="0.95" fill="#f0ac98" stroke="none" stroke-width="0.5"/>
<circle cx="407.71" cy="400.95" r="0.95" fill="#f0ac98" stroke="none" stroke-width="0.5"/>
<circle cx="387.50" cy="264.50" r="1.40" fill="#e8d9a0" stroke="none" stroke-width="0.5"/>
<circle cx="407.00" cy="349.50" r="1.40" fill="#e8d9a0" stroke="none" stroke-width="0.5"/>
<text x="321.00" y="238.15" font-size="5.5" fill="#444" stroke="#444" stroke-width="0.08">CDKN1A</text>
<text x="348.00" y="231.45" font-size="5.5" fill="#444" stroke="#444" stroke-width="0.08">FOXO1</text>
<text x="377.40" y="227.75" font-size="5.5" fill="#444" stroke="#444" stroke-width="0.08">CD86</text>
<text x="406.40" y="227.75" font-size="5.5" fill="#444" stroke="#444" stroke-width="0.08">TSC2</text>
<text x="423.00" y="237.45" font-size="5.5" fill="#444" stroke="#444" stroke-width="0.08">FOXO3</text>
<text x="447.30" y="242.95" font-size="5.5" fill="#444" stroke="#444" stroke-width="0.08">NR4A1</text>
<text x="300.30" y="253.15" font-size="5.5" fill="#444" stroke="#444" stroke-width="0.08">AKT1S1</text>
<text x="348.00" y="303.15" font-size="5.5" fill="#444" stroke="#444" stroke-width="0.08">HGF</text>
<text x="368.90" y="298.45" font-size="5.5" fill="#444" stroke="#444" stroke-width="0.08">PIK3CA</text>
<text x="391.25" y="297.45" font-size="5.5" fill="#444" stroke="#444" stroke-width="0.08">HBEGF</text>
<text x="411.25" y="296.95" font-size="5.5" fill="#444" stroke="#444" stroke-width="0.08">IRS2</text>
<text x="426.25" y="296.45" font-size="5.5" fill="#444" stroke="#444" stroke-width="0.08">GAB2</text>
<text x="442.50" y="298.70" font-size="5.5" fill="#444" stroke="#444" stroke-width="0.08">PDGFA</text>
<text x="361.90" y="307.25" font-size="5.5" fill="#444" stroke="#444" stroke-width="0.08">PIK3R1</text>
<text x="408.75" y="304.45" font-size="5.5" fill="#444" stroke="#444" stroke-width="0.08">IRS1</text>
<text x="428.75" y="308.95" font-size="5.5" fill="#444" stroke="#444" stroke-width="0.08">RICTOR</text>
<text x="340.50" y="313.45" font-size="5.5" fill="#444" stroke="#444" stroke-width="0.08">SRC</text>
<text x="355.00" y="314.65" font-size="5.5" fill="#444" stroke="#444" stroke-width="0.08">FGFR1</text>
<text x="375.00" y="314.65" font-size="5.5" fill="#444" stroke="#444" stroke-width="0.08">NRG3</text>
<text x="395.50" y="313.20" font-size="5.5" fill="#444" stroke="#444" stroke-width="0.08">PDGFRA</text>
<text x="458.75" y="311.20" font-size="5.5" fill="#444" stroke="#444" stroke-width="0.08">SHB</text>
<text x="323.80" y="321.15" font-size="5.5" fill="#444" stroke="#444" stroke-width="0.08">SPP1</text>
<text x="311.20" y="326.15" font-size="5.5" fill="#444" stroke="#444" stroke-width="0.08">TEC</text>
<text x="444.50" y="323.70" font-size="5.5" fill="#444" stroke="#444" stroke-width="0.08">SGK1</text>
<text x="472.50" y="322.70" font-size="5.5" fill="#444" stroke="#444" stroke-width="0.08">LAMC1</text>
<text x="402.50" y="327.70" font-size="5.5" fill="#444" stroke="#444" stroke-width="0.08">YES1</text>
<text x="304.20" y="334.25" font-size="5.5" fill="#444" stroke="#444" stroke-width="0.08">HSPB1</text>
<text x="342.80" y="331.95" font-size="5.5" fill="#444" stroke="#444" stroke-width="0.08">PDE3B</text>
<text x="422.50" y="331.20" font-size="5.5" fill="#444" stroke="#444" stroke-width="0.08">GALNT3</text>
<text x="481.25" y="328.95" font-size="5.5" fill="#444" stroke="#444" stroke-width="0.08">SH3GL1</text>
<text x="363.50" y="335.95" font-size="5.5" fill="#444" stroke="#444" stroke-width="0.08">MXD4</text>
<text x="381.00" y="337.25" font-size="5.5" fill="#444" stroke="#444" stroke-width="0.08">JUND</text>
<text x="446.25" y="333.70" font-size="5.5" fill="#444" stroke="#444" stroke-width="0.08">EPN1</text>
<text x="411.25" y="337.45" font-size="5.5" fill="#444" stroke="#444" stroke-width="0.08">COL24A1</text>
<text x="462.50" y="336.95" font-size="5.5" fill="#444" stroke="#444" stroke-width="0.08">BRAF</text>
<text x="490.00" y="335.70" font-size="5.5" fill="#444" stroke="#444" stroke-width="0.08">DUSP3</text>
<text x="302.00" y="342.35" font-size="5.5" fill="#444" stroke="#444" stroke-width="0.08">FOSL1</text>
<text x="335.40" y="340.45" font-size="5.5" fill="#444" stroke="#444" stroke-width="0.08">RALGDS</text>
<text x="471.25" y="343.70" font-size="5.5" fill="#444" stroke="#444" stroke-width="0.08">MEF2A</text>
<text x="500.00" y="343.95" font-size="5.5" fill="#444" stroke="#444" stroke-width="0.08">ID4</text>
<text x="346.50" y="347.65" font-size="5.5" fill="#444" stroke="#444" stroke-width="0.08">FRS2</text>
<text x="451.25" y="347.70" font-size="5.5" fill="#444" stroke="#444" stroke-width="0.08">MEF2D</text>
<text x="304.20" y="349.95" font-size="5.5" fill="#444" stroke="#444" stroke-width="0.08">VGF</text>
<text x="362.60" y="349.95" font-size="5.5" fill="#444" stroke="#444" stroke-width="0.08">FLRT3</text>
<text x="426.25" y="352.70" font-size="5.5" fill="#444" stroke="#444" stroke-width="0.08">SPHK1</text>
<text x="497.50" y="352.70" font-size="5.5" fill="#444" stroke="#444" stroke-width="0.08">JUNB</text>
<text x="475.00" y="354.45" font-size="5.5" fill="#444" stroke="#444" stroke-width="0.08">SPINT1</text>
<text x="326.00" y="354.95" font-size="5.5" fill="#444" stroke="#444" stroke-width="0.08">CYFIP1</text>
<text x="354.00" y="354.95" font-size="5.5" fill="#444" stroke="#444" stroke-width="0.08">IGF2</text>
<text x="307.20" y="358.75" font-size="5.5" fill="#444" stroke="#444" stroke-width="0.08">ID1</text>
<text x="377.50" y="358.95" font-size="5.5" fill="#444" stroke="#444" stroke-width="0.08">SPRY1</text>
<text x="462.00" y="359.15" font-size="5.5" fill="#444" stroke="#444" stroke-width="0.08">ID2</text>
<text x="493.00" y="360.45" font-size="5.5" fill="#444" stroke="#444" stroke-width="0.08">PTPRS</text>
<text x="335.80" y="361.25" font-size="5.5" fill="#444" stroke="#444" stroke-width="0.08">IGF1R</text>
<text x="436.25" y="363.20" font-size="5.5" fill="#444" stroke="#444" stroke-width="0.08">CTNND1</text>
<text x="307.20" y="366.55" font-size="5.5" fill="#444" stroke="#444" stroke-width="0.08">MAPK7</text>
<text x="460.00" y="366.45" font-size="5.5" fill="#444" stroke="#444" stroke-width="0.08">CXCL12</text>
<text x="363.50" y="368.95" font-size="5.5" fill="#444" stroke="#444" stroke-width="0.08">MDK</text>
<text x="487.50" y="369.45" font-size="5.5" fill="#444" stroke="#444" stroke-width="0.08">EP300</text>
<text x="430.50" y="370.70" font-size="5.5" fill="#444" stroke="#444" stroke-width="0.08">SH2B3</text>
<text x="398.75" y="371.95" font-size="5.5" fill="#444" stroke="#444" stroke-width="0.08">PRKCZ</text>
<text x="456.25" y="373.20" font-size="5.5" fill="#444" stroke="#444" stroke-width="0.08">CLTC</text>
<text x="315.80" y="374.15" font-size="5.5" fill="#444" stroke="#444" stroke-width="0.08">EGR3</text>
<text x="379.20" y="374.15" font-size="5.5" fill="#444" stroke="#444" stroke-width="0.08">INSR</text>
<text x="475.00" y="376.95" font-size="5.5" fill="#444" stroke="#444" stroke-width="0.08">RAPGEF1</text>
<text x="332.60" y="376.95" font-size="5.5" fill="#444" stroke="#444" stroke-width="0.08">VAV3</text>
<text x="402.50" y="379.45" font-size="5.5" fill="#444" stroke="#444" stroke-width="0.08">HIF1A</text>
<text x="448.00" y="380.70" font-size="5.5" fill="#444" stroke="#444" stroke-width="0.08">ARC</text>
<text x="356.20" y="381.15" font-size="5.5" fill="#444" stroke="#444" stroke-width="0.08">FURIN</text>
<text x="319.70" y="383.95" font-size="5.5" fill="#444" stroke="#444" stroke-width="0.08">HGS</text>
<text x="473.00" y="384.45" font-size="5.5" fill="#444" stroke="#444" stroke-width="0.08">VAV2</text>
<text x="376.50" y="385.75" font-size="5.5" fill="#444" stroke="#444" stroke-width="0.08">FLT1</text>
<text x="413.75" y="386.95" font-size="5.5" fill="#444" stroke="#444" stroke-width="0.08">ARHGEF7</text>
<text x="334.20" y="387.95" font-size="5.5" fill="#444" stroke="#444" stroke-width="0.08">CRKL</text>
<text x="391.25" y="388.95" font-size="5.5" fill="#444" stroke="#444" stroke-width="0.08">PTK2</text>
<text x="456.25" y="388.95" font-size="5.5" fill="#444" stroke="#444" stroke-width="0.08">PTPRK</text>
<text x="415.00" y="397.70" font-size="5.5" fill="#444" stroke="#444" stroke-width="0.08">SOCS1</text>
<text x="348.00" y="398.95" font-size="5.5" fill="#444" stroke="#444" stroke-width="0.08">SPRY2</text>
<text x="447.00" y="400.20" font-size="5.5" fill="#444" stroke="#444" stroke-width="0.08">FLT4</text>
<text x="368.90" y="402.35" font-size="5.5" fill="#444" stroke="#444" stroke-width="0.08">EGR1</text>
<text x="421.25" y="403.95" font-size="5.5" fill="#444" stroke="#444" stroke-width="0.08">COL9A3</text>
<text x="386.20" y="404.15" font-size="5.5" fill="#444" stroke="#444" stroke-width="0.08">CYBB</text>
<text x="403.00" y="405.70" font-size="5.5" fill="#444" stroke="#444" stroke-width="0.08">RIT1</text>
<text x="356.20" y="265.20" font-size="6.4" fill="#111" font-weight="bold" textLength="66.80" lengthAdjust="spacingAndGlyphs">PI3K AKT SIGNALING</text>
<text x="371.80" y="272.80" font-size="6.4" fill="#111" font-weight="bold" textLength="35.70" lengthAdjust="spacingAndGlyphs">IN CANCER</text>
<text x="366.90" y="344.40" font-size="6.3" fill="#111" font-weight="bold" textLength="82.00" lengthAdjust="spacingAndGlyphs">SIGNALING BY RECEPTOR</text>
<text x="391.90" y="352.30" font-size="6.3" fill="#111" font-weight="bold" textLength="31.70" lengthAdjust="spacingAndGlyphs">TYROSINE</text>
<text x="396.10" y="359.90" font-size="6.3" fill="#111" font-weight="bold" textLength="24.30" lengthAdjust="spacingAndGlyphs">KINASES</text>
<line x1="327.50" y1="382.50" x2="332.50" y2="382.50" stroke="#444" stroke-width="0.6"/>
<text x="446.8" y="228.3" font-size="6.6" fill="#333">Log<tspan font-size="4.4" dy="1.6">2</tspan><tspan dy="-1.6">(FC)</tspan></text>
<rect x="474.80" y="224.20" width="35.80" height="5.40" fill="url(#lfc)" stroke="none" stroke-width="1"/>
<text transform="translate(480.40,223.2) rotate(-35)" font-size="6.4" fill="#333" stroke="#333" stroke-width="0.1" x="0" y="0">1</text>
<text transform="translate(488.10,223.2) rotate(-35)" font-size="6.4" fill="#333" stroke="#333" stroke-width="0.1" x="0" y="0">2</text>
<text transform="translate(495.80,223.2) rotate(-35)" font-size="6.4" fill="#333" stroke="#333" stroke-width="0.1" x="0" y="0">3</text>
<text transform="translate(503.10,223.2) rotate(-35)" font-size="6.4" fill="#333" stroke="#333" stroke-width="0.1" x="0" y="0">4</text>
<text x="16.20" y="423.20" font-size="10" fill="#111" font-weight="bold">E</text>
<text x="113.20" y="429.60" font-size="8.3" fill="#222" stroke="#222" stroke-width="0.1" text-anchor="middle" textLength="32.90" lengthAdjust="spacingAndGlyphs">48 hours</text>
<text transform="translate(29.6,490.3) rotate(-90)" font-size="7.0" fill="#333" stroke="#333" stroke-width="0.08" text-anchor="middle" x="0" y="0" textLength="100.6" lengthAdjust="spacingAndGlyphs">Viability target cells (% vs control)</text>
<line x1="52.30" y1="436.50" x2="52.30" y2="546.60" stroke="#222" stroke-width="1"/>
<line x1="51.80" y1="546.30" x2="174.20" y2="546.30" stroke="#222" stroke-width="1"/>
<line x1="49.50" y1="546.20" x2="52.30" y2="546.20" stroke="#222" stroke-width="0.8"/>
<text x="46.00" y="548.30" font-size="6.0" fill="#333" stroke="#333" stroke-width="0.1" text-anchor="end">0</text>
<line x1="49.50" y1="527.96" x2="52.30" y2="527.96" stroke="#222" stroke-width="0.8"/>
<text x="46.00" y="530.06" font-size="6.0" fill="#333" stroke="#333" stroke-width="0.1" text-anchor="end">20</text>
<line x1="49.50" y1="509.72" x2="52.30" y2="509.72" stroke="#222" stroke-width="0.8"/>
<text x="46.00" y="511.82" font-size="6.0" fill="#333" stroke="#333" stroke-width="0.1" text-anchor="end">40</text>
<line x1="49.50" y1="491.48" x2="52.30" y2="491.48" stroke="#222" stroke-width="0.8"/>
<text x="46.00" y="493.58" font-size="6.0" fill="#333" stroke="#333" stroke-width="0.1" text-anchor="end">60</text>
<line x1="49.50" y1="473.24" x2="52.30" y2="473.24" stroke="#222" stroke-width="0.8"/>
<text x="46.00" y="475.34" font-size="6.0" fill="#333" stroke="#333" stroke-width="0.1" text-anchor="end">80</text>
<line x1="49.50" y1="455.00" x2="52.30" y2="455.00" stroke="#222" stroke-width="0.8"/>
<text x="46.00" y="457.10" font-size="6.0" fill="#333" stroke="#333" stroke-width="0.1" text-anchor="end">100</text>
<line x1="49.50" y1="436.76" x2="52.30" y2="436.76" stroke="#222" stroke-width="0.8"/>
<text x="46.00" y="438.86" font-size="6.0" fill="#333" stroke="#333" stroke-width="0.1" text-anchor="end">120</text>
<line x1="57.60" y1="546.30" x2="57.60" y2="548.80" stroke="#222" stroke-width="0.8"/>
<text transform="translate(59.60,553.8) rotate(-45)" font-size="6.5" fill="#333" stroke="#333" stroke-width="0.08" text-anchor="end" x="0" y="0">0</text>
<line x1="69.04" y1="546.30" x2="69.04" y2="548.80" stroke="#222" stroke-width="0.8"/>
<text transform="translate(71.04,553.8) rotate(-45)" font-size="6.5" fill="#333" stroke="#333" stroke-width="0.08" text-anchor="end" x="0" y="0">1</text>
<line x1="80.48" y1="546.30" x2="80.48" y2="548.80" stroke="#222" stroke-width="0.8"/>
<text transform="translate(82.48,553.8) rotate(-45)" font-size="6.5" fill="#333" stroke="#333" stroke-width="0.08" text-anchor="end" x="0" y="0">3</text>
<line x1="91.92" y1="546.30" x2="91.92" y2="548.80" stroke="#222" stroke-width="0.8"/>
<text transform="translate(93.92,553.8) rotate(-45)" font-size="6.5" fill="#333" stroke="#333" stroke-width="0.08" text-anchor="end" x="0" y="0">10</text>
<line x1="103.36" y1="546.30" x2="103.36" y2="548.80" stroke="#222" stroke-width="0.8"/>
<text transform="translate(105.36,553.8) rotate(-45)" font-size="6.5" fill="#333" stroke="#333" stroke-width="0.08" text-anchor="end" x="0" y="0">30</text>
<line x1="114.80" y1="546.30" x2="114.80" y2="548.80" stroke="#222" stroke-width="0.8"/>
<text transform="translate(116.80,553.8) rotate(-45)" font-size="6.5" fill="#333" stroke="#333" stroke-width="0.08" text-anchor="end" x="0" y="0">100</text>
<line x1="126.24" y1="546.30" x2="126.24" y2="548.80" stroke="#222" stroke-width="0.8"/>
<text transform="translate(128.24,553.8) rotate(-45)" font-size="6.5" fill="#333" stroke="#333" stroke-width="0.08" text-anchor="end" x="0" y="0">300</text>
<line x1="137.68" y1="546.30" x2="137.68" y2="548.80" stroke="#222" stroke-width="0.8"/>
<text transform="translate(139.68,553.8) rotate(-45)" font-size="6.5" fill="#333" stroke="#333" stroke-width="0.08" text-anchor="end" x="0" y="0">1000</text>
<line x1="149.12" y1="546.30" x2="149.12" y2="548.80" stroke="#222" stroke-width="0.8"/>
<text transform="translate(151.12,553.8) rotate(-45)" font-size="6.5" fill="#333" stroke="#333" stroke-width="0.08" text-anchor="end" x="0" y="0">3000</text>
<line x1="160.56" y1="546.30" x2="160.56" y2="548.80" stroke="#222" stroke-width="0.8"/>
<text transform="translate(162.56,553.8) rotate(-45)" font-size="6.5" fill="#333" stroke="#333" stroke-width="0.08" text-anchor="end" x="0" y="0">10000</text>
<line x1="172.00" y1="546.30" x2="172.00" y2="548.80" stroke="#222" stroke-width="0.8"/>
<text transform="translate(174.00,553.8) rotate(-45)" font-size="6.5" fill="#333" stroke="#333" stroke-width="0.08" text-anchor="end" x="0" y="0">30000</text>
<text x="114.00" y="577.40" font-size="7.6" fill="#333" stroke="#333" stroke-width="0.1" text-anchor="middle" textLength="42.30" lengthAdjust="spacingAndGlyphs">Alpelisib (nM)</text>
<line x1="69.04" y1="447.70" x2="69.04" y2="453.18" stroke="#7ccaf0" stroke-width="0.6"/>
<line x1="67.64" y1="447.70" x2="70.44" y2="447.70" stroke="#7ccaf0" stroke-width="0.6"/>
<line x1="67.64" y1="453.18" x2="70.44" y2="453.18" stroke="#7ccaf0" stroke-width="0.6"/>
<line x1="80.48" y1="448.16" x2="80.48" y2="453.63" stroke="#7ccaf0" stroke-width="0.6"/>
<line x1="79.08" y1="448.16" x2="81.88" y2="448.16" stroke="#7ccaf0" stroke-width="0.6"/>
<line x1="79.08" y1="453.63" x2="81.88" y2="453.63" stroke="#7ccaf0" stroke-width="0.6"/>
<line x1="91.92" y1="448.62" x2="91.92" y2="454.09" stroke="#7ccaf0" stroke-width="0.6"/>
<line x1="90.52" y1="448.62" x2="93.32" y2="448.62" stroke="#7ccaf0" stroke-width="0.6"/>
<line x1="90.52" y1="454.09" x2="93.32" y2="454.09" stroke="#7ccaf0" stroke-width="0.6"/>
<line x1="103.36" y1="449.07" x2="103.36" y2="454.54" stroke="#7ccaf0" stroke-width="0.6"/>
<line x1="101.96" y1="449.07" x2="104.76" y2="449.07" stroke="#7ccaf0" stroke-width="0.6"/>
<line x1="101.96" y1="454.54" x2="104.76" y2="454.54" stroke="#7ccaf0" stroke-width="0.6"/>
<line x1="114.80" y1="452.26" x2="114.80" y2="457.74" stroke="#7ccaf0" stroke-width="0.6"/>
<line x1="113.40" y1="452.26" x2="116.20" y2="452.26" stroke="#7ccaf0" stroke-width="0.6"/>
<line x1="113.40" y1="457.74" x2="116.20" y2="457.74" stroke="#7ccaf0" stroke-width="0.6"/>
<line x1="126.24" y1="454.09" x2="126.24" y2="459.56" stroke="#7ccaf0" stroke-width="0.6"/>
<line x1="124.84" y1="454.09" x2="127.64" y2="454.09" stroke="#7ccaf0" stroke-width="0.6"/>
<line x1="124.84" y1="459.56" x2="127.64" y2="459.56" stroke="#7ccaf0" stroke-width="0.6"/>
<line x1="137.68" y1="458.37" x2="137.68" y2="463.85" stroke="#7ccaf0" stroke-width="0.6"/>
<line x1="136.28" y1="458.37" x2="139.08" y2="458.37" stroke="#7ccaf0" stroke-width="0.6"/>
<line x1="136.28" y1="463.85" x2="139.08" y2="463.85" stroke="#7ccaf0" stroke-width="0.6"/>
<line x1="149.12" y1="464.12" x2="149.12" y2="467.77" stroke="#7ccaf0" stroke-width="0.6"/>
<line x1="147.72" y1="464.12" x2="150.52" y2="464.12" stroke="#7ccaf0" stroke-width="0.6"/>
<line x1="147.72" y1="467.77" x2="150.52" y2="467.77" stroke="#7ccaf0" stroke-width="0.6"/>
<line x1="160.56" y1="487.01" x2="160.56" y2="490.66" stroke="#7ccaf0" stroke-width="0.6"/>
<line x1="159.16" y1="487.01" x2="161.96" y2="487.01" stroke="#7ccaf0" stroke-width="0.6"/>
<line x1="159.16" y1="490.66" x2="161.96" y2="490.66" stroke="#7ccaf0" stroke-width="0.6"/>
<line x1="172.00" y1="522.03" x2="172.00" y2="525.68" stroke="#7ccaf0" stroke-width="0.6"/>
<line x1="170.60" y1="522.03" x2="173.40" y2="522.03" stroke="#7ccaf0" stroke-width="0.6"/>
<line x1="170.60" y1="525.68" x2="173.40" y2="525.68" stroke="#7ccaf0" stroke-width="0.6"/>
<path d="M57.60,455.00 L69.04,450.44 L80.48,450.90 L91.92,451.35 L103.36,451.81 L114.80,455.00 L126.24,456.82 L137.68,461.11 L149.12,465.94 L160.56,488.84 L172.00,523.86" fill="none" stroke="#86cdf0" stroke-width="0.8"/>
<line x1="69.04" y1="467.77" x2="69.04" y2="473.24" stroke="#8a73c4" stroke-width="0.6"/>
<line x1="67.64" y1="467.77" x2="70.44" y2="467.77" stroke="#8a73c4" stroke-width="0.6"/>
<line x1="67.64" y1="473.24" x2="70.44" y2="473.24" stroke="#8a73c4" stroke-width="0.6"/>
<line x1="80.48" y1="468.22" x2="80.48" y2="473.70" stroke="#8a73c4" stroke-width="0.6"/>
<line x1="79.08" y1="468.22" x2="81.88" y2="468.22" stroke="#8a73c4" stroke-width="0.6"/>
<line x1="79.08" y1="473.70" x2="81.88" y2="473.70" stroke="#8a73c4" stroke-width="0.6"/>
<line x1="91.92" y1="468.22" x2="91.92" y2="473.70" stroke="#8a73c4" stroke-width="0.6"/>
<line x1="90.52" y1="468.22" x2="93.32" y2="468.22" stroke="#8a73c4" stroke-width="0.6"/>
<line x1="90.52" y1="473.70" x2="93.32" y2="473.70" stroke="#8a73c4" stroke-width="0.6"/>
<line x1="103.36" y1="467.77" x2="103.36" y2="476.89" stroke="#8a73c4" stroke-width="0.6"/>
<line x1="101.96" y1="467.77" x2="104.76" y2="467.77" stroke="#8a73c4" stroke-width="0.6"/>
<line x1="101.96" y1="476.89" x2="104.76" y2="476.89" stroke="#8a73c4" stroke-width="0.6"/>
<line x1="114.80" y1="471.96" x2="114.80" y2="479.26" stroke="#8a73c4" stroke-width="0.6"/>
<line x1="113.40" y1="471.96" x2="116.20" y2="471.96" stroke="#8a73c4" stroke-width="0.6"/>
<line x1="113.40" y1="479.26" x2="116.20" y2="479.26" stroke="#8a73c4" stroke-width="0.6"/>
<line x1="126.24" y1="472.88" x2="126.24" y2="482.00" stroke="#8a73c4" stroke-width="0.6"/>
<line x1="124.84" y1="472.88" x2="127.64" y2="472.88" stroke="#8a73c4" stroke-width="0.6"/>
<line x1="124.84" y1="482.00" x2="127.64" y2="482.00" stroke="#8a73c4" stroke-width="0.6"/>
<line x1="137.68" y1="480.99" x2="137.68" y2="495.58" stroke="#8a73c4" stroke-width="0.6"/>
<line x1="136.28" y1="480.99" x2="139.08" y2="480.99" stroke="#8a73c4" stroke-width="0.6"/>
<line x1="136.28" y1="495.58" x2="139.08" y2="495.58" stroke="#8a73c4" stroke-width="0.6"/>
<line x1="149.12" y1="506.98" x2="149.12" y2="510.63" stroke="#8a73c4" stroke-width="0.6"/>
<line x1="147.72" y1="506.98" x2="150.52" y2="506.98" stroke="#8a73c4" stroke-width="0.6"/>
<line x1="147.72" y1="510.63" x2="150.52" y2="510.63" stroke="#8a73c4" stroke-width="0.6"/>
<line x1="160.56" y1="526.23" x2="160.56" y2="528.05" stroke="#8a73c4" stroke-width="0.6"/>
<line x1="159.16" y1="526.23" x2="161.96" y2="526.23" stroke="#8a73c4" stroke-width="0.6"/>
<line x1="159.16" y1="528.05" x2="161.96" y2="528.05" stroke="#8a73c4" stroke-width="0.6"/>
<line x1="172.00" y1="535.53" x2="172.00" y2="537.35" stroke="#8a73c4" stroke-width="0.6"/>
<line x1="170.60" y1="535.53" x2="173.40" y2="535.53" stroke="#8a73c4" stroke-width="0.6"/>
<line x1="170.60" y1="537.35" x2="173.40" y2="537.35" stroke="#8a73c4" stroke-width="0.6"/>
<path d="M57.60,455.00 L69.04,470.50 L80.48,470.96 L91.92,470.96 L103.36,472.33 L114.80,475.61 L126.24,477.44 L137.68,488.29 L149.12,508.81 L160.56,527.14 L172.00,536.44" fill="none" stroke="#8a73c4" stroke-width="0.8"/>
<line x1="69.04" y1="465.49" x2="69.04" y2="470.96" stroke="#33206a" stroke-width="0.6"/>
<line x1="67.64" y1="465.49" x2="70.44" y2="465.49" stroke="#33206a" stroke-width="0.6"/>
<line x1="67.64" y1="470.96" x2="70.44" y2="470.96" stroke="#33206a" stroke-width="0.6"/>
<line x1="80.48" y1="464.58" x2="80.48" y2="470.05" stroke="#33206a" stroke-width="0.6"/>
<line x1="79.08" y1="464.58" x2="81.88" y2="464.58" stroke="#33206a" stroke-width="0.6"/>
<line x1="79.08" y1="470.05" x2="81.88" y2="470.05" stroke="#33206a" stroke-width="0.6"/>
<line x1="91.92" y1="465.03" x2="91.92" y2="470.50" stroke="#33206a" stroke-width="0.6"/>
<line x1="90.52" y1="465.03" x2="93.32" y2="465.03" stroke="#33206a" stroke-width="0.6"/>
<line x1="90.52" y1="470.50" x2="93.32" y2="470.50" stroke="#33206a" stroke-width="0.6"/>
<line x1="103.36" y1="465.49" x2="103.36" y2="470.96" stroke="#33206a" stroke-width="0.6"/>
<line x1="101.96" y1="465.49" x2="104.76" y2="465.49" stroke="#33206a" stroke-width="0.6"/>
<line x1="101.96" y1="470.96" x2="104.76" y2="470.96" stroke="#33206a" stroke-width="0.6"/>
<line x1="114.80" y1="468.68" x2="114.80" y2="474.15" stroke="#33206a" stroke-width="0.6"/>
<line x1="113.40" y1="468.68" x2="116.20" y2="468.68" stroke="#33206a" stroke-width="0.6"/>
<line x1="113.40" y1="474.15" x2="116.20" y2="474.15" stroke="#33206a" stroke-width="0.6"/>
<line x1="126.24" y1="471.60" x2="126.24" y2="480.72" stroke="#33206a" stroke-width="0.6"/>
<line x1="124.84" y1="471.60" x2="127.64" y2="471.60" stroke="#33206a" stroke-width="0.6"/>
<line x1="124.84" y1="480.72" x2="127.64" y2="480.72" stroke="#33206a" stroke-width="0.6"/>
<line x1="137.68" y1="479.81" x2="137.68" y2="485.28" stroke="#33206a" stroke-width="0.6"/>
<line x1="136.28" y1="479.81" x2="139.08" y2="479.81" stroke="#33206a" stroke-width="0.6"/>
<line x1="136.28" y1="485.28" x2="139.08" y2="485.28" stroke="#33206a" stroke-width="0.6"/>
<line x1="149.12" y1="486.46" x2="149.12" y2="493.76" stroke="#33206a" stroke-width="0.6"/>
<line x1="147.72" y1="486.46" x2="150.52" y2="486.46" stroke="#33206a" stroke-width="0.6"/>
<line x1="147.72" y1="493.76" x2="150.52" y2="493.76" stroke="#33206a" stroke-width="0.6"/>
<line x1="160.56" y1="507.80" x2="160.56" y2="511.45" stroke="#33206a" stroke-width="0.6"/>
<line x1="159.16" y1="507.80" x2="161.96" y2="507.80" stroke="#33206a" stroke-width="0.6"/>
<line x1="159.16" y1="511.45" x2="161.96" y2="511.45" stroke="#33206a" stroke-width="0.6"/>
<line x1="172.00" y1="524.59" x2="172.00" y2="528.23" stroke="#33206a" stroke-width="0.6"/>
<line x1="170.60" y1="524.59" x2="173.40" y2="524.59" stroke="#33206a" stroke-width="0.6"/>
<line x1="170.60" y1="528.23" x2="173.40" y2="528.23" stroke="#33206a" stroke-width="0.6"/>
<path d="M57.60,455.00 L69.04,468.22 L80.48,467.31 L91.92,467.77 L103.36,468.22 L114.80,471.42 L126.24,476.16 L137.68,482.54 L149.12,490.11 L160.56,509.63 L172.00,526.41" fill="none" stroke="#33206a" stroke-width="0.8"/>
<line x1="69.04" y1="461.38" x2="69.04" y2="466.86" stroke="#23889a" stroke-width="0.6"/>
<line x1="67.64" y1="461.38" x2="70.44" y2="461.38" stroke="#23889a" stroke-width="0.6"/>
<line x1="67.64" y1="466.86" x2="70.44" y2="466.86" stroke="#23889a" stroke-width="0.6"/>
<line x1="80.48" y1="461.38" x2="80.48" y2="466.86" stroke="#23889a" stroke-width="0.6"/>
<line x1="79.08" y1="461.38" x2="81.88" y2="461.38" stroke="#23889a" stroke-width="0.6"/>
<line x1="79.08" y1="466.86" x2="81.88" y2="466.86" stroke="#23889a" stroke-width="0.6"/>
<line x1="91.92" y1="462.02" x2="91.92" y2="467.49" stroke="#23889a" stroke-width="0.6"/>
<line x1="90.52" y1="462.02" x2="93.32" y2="462.02" stroke="#23889a" stroke-width="0.6"/>
<line x1="90.52" y1="467.49" x2="93.32" y2="467.49" stroke="#23889a" stroke-width="0.6"/>
<line x1="103.36" y1="461.75" x2="103.36" y2="467.22" stroke="#23889a" stroke-width="0.6"/>
<line x1="101.96" y1="461.75" x2="104.76" y2="461.75" stroke="#23889a" stroke-width="0.6"/>
<line x1="101.96" y1="467.22" x2="104.76" y2="467.22" stroke="#23889a" stroke-width="0.6"/>
<line x1="114.80" y1="465.03" x2="114.80" y2="470.50" stroke="#23889a" stroke-width="0.6"/>
<line x1="113.40" y1="465.03" x2="116.20" y2="465.03" stroke="#23889a" stroke-width="0.6"/>
<line x1="113.40" y1="470.50" x2="116.20" y2="470.50" stroke="#23889a" stroke-width="0.6"/>
<line x1="126.24" y1="467.77" x2="126.24" y2="473.24" stroke="#23889a" stroke-width="0.6"/>
<line x1="124.84" y1="467.77" x2="127.64" y2="467.77" stroke="#23889a" stroke-width="0.6"/>
<line x1="124.84" y1="473.24" x2="127.64" y2="473.24" stroke="#23889a" stroke-width="0.6"/>
<line x1="137.68" y1="476.89" x2="137.68" y2="482.36" stroke="#23889a" stroke-width="0.6"/>
<line x1="136.28" y1="476.89" x2="139.08" y2="476.89" stroke="#23889a" stroke-width="0.6"/>
<line x1="136.28" y1="482.36" x2="139.08" y2="482.36" stroke="#23889a" stroke-width="0.6"/>
<line x1="149.12" y1="483.27" x2="149.12" y2="488.74" stroke="#23889a" stroke-width="0.6"/>
<line x1="147.72" y1="483.27" x2="150.52" y2="483.27" stroke="#23889a" stroke-width="0.6"/>
<line x1="147.72" y1="488.74" x2="150.52" y2="488.74" stroke="#23889a" stroke-width="0.6"/>
<line x1="160.56" y1="509.54" x2="160.56" y2="513.19" stroke="#23889a" stroke-width="0.6"/>
<line x1="159.16" y1="509.54" x2="161.96" y2="509.54" stroke="#23889a" stroke-width="0.6"/>
<line x1="159.16" y1="513.19" x2="161.96" y2="513.19" stroke="#23889a" stroke-width="0.6"/>
<line x1="172.00" y1="522.03" x2="172.00" y2="525.68" stroke="#23889a" stroke-width="0.6"/>
<line x1="170.60" y1="522.03" x2="173.40" y2="522.03" stroke="#23889a" stroke-width="0.6"/>
<line x1="170.60" y1="525.68" x2="173.40" y2="525.68" stroke="#23889a" stroke-width="0.6"/>
<path d="M57.60,455.00 L69.04,464.12 L80.48,464.12 L91.92,464.76 L103.36,464.48 L114.80,467.77 L126.24,470.50 L137.68,479.62 L149.12,486.01 L160.56,511.36 L172.00,523.86" fill="none" stroke="#23889a" stroke-width="0.8"/>
<line x1="69.04" y1="454.73" x2="69.04" y2="460.20" stroke="#111111" stroke-width="0.6"/>
<line x1="67.64" y1="454.73" x2="70.44" y2="454.73" stroke="#111111" stroke-width="0.6"/>
<line x1="67.64" y1="460.20" x2="70.44" y2="460.20" stroke="#111111" stroke-width="0.6"/>
<line x1="80.48" y1="455.91" x2="80.48" y2="461.38" stroke="#111111" stroke-width="0.6"/>
<line x1="79.08" y1="455.91" x2="81.88" y2="455.91" stroke="#111111" stroke-width="0.6"/>
<line x1="79.08" y1="461.38" x2="81.88" y2="461.38" stroke="#111111" stroke-width="0.6"/>
<line x1="91.92" y1="458.65" x2="91.92" y2="464.12" stroke="#111111" stroke-width="0.6"/>
<line x1="90.52" y1="458.65" x2="93.32" y2="458.65" stroke="#111111" stroke-width="0.6"/>
<line x1="90.52" y1="464.12" x2="93.32" y2="464.12" stroke="#111111" stroke-width="0.6"/>
<line x1="103.36" y1="458.65" x2="103.36" y2="464.12" stroke="#111111" stroke-width="0.6"/>
<line x1="101.96" y1="458.65" x2="104.76" y2="458.65" stroke="#111111" stroke-width="0.6"/>
<line x1="101.96" y1="464.12" x2="104.76" y2="464.12" stroke="#111111" stroke-width="0.6"/>
<line x1="114.80" y1="463.85" x2="114.80" y2="469.32" stroke="#111111" stroke-width="0.6"/>
<line x1="113.40" y1="463.85" x2="116.20" y2="463.85" stroke="#111111" stroke-width="0.6"/>
<line x1="113.40" y1="469.32" x2="116.20" y2="469.32" stroke="#111111" stroke-width="0.6"/>
<line x1="126.24" y1="465.67" x2="126.24" y2="471.14" stroke="#111111" stroke-width="0.6"/>
<line x1="124.84" y1="465.67" x2="127.64" y2="465.67" stroke="#111111" stroke-width="0.6"/>
<line x1="124.84" y1="471.14" x2="127.64" y2="471.14" stroke="#111111" stroke-width="0.6"/>
<line x1="137.68" y1="478.35" x2="137.68" y2="483.82" stroke="#111111" stroke-width="0.6"/>
<line x1="136.28" y1="478.35" x2="139.08" y2="478.35" stroke="#111111" stroke-width="0.6"/>
<line x1="136.28" y1="483.82" x2="139.08" y2="483.82" stroke="#111111" stroke-width="0.6"/>
<line x1="149.12" y1="484.91" x2="149.12" y2="490.39" stroke="#111111" stroke-width="0.6"/>
<line x1="147.72" y1="484.91" x2="150.52" y2="484.91" stroke="#111111" stroke-width="0.6"/>
<line x1="147.72" y1="490.39" x2="150.52" y2="490.39" stroke="#111111" stroke-width="0.6"/>
<line x1="160.56" y1="506.25" x2="160.56" y2="509.90" stroke="#111111" stroke-width="0.6"/>
<line x1="159.16" y1="506.25" x2="161.96" y2="506.25" stroke="#111111" stroke-width="0.6"/>
<line x1="159.16" y1="509.90" x2="161.96" y2="509.90" stroke="#111111" stroke-width="0.6"/>
<line x1="172.00" y1="525.32" x2="172.00" y2="528.96" stroke="#111111" stroke-width="0.6"/>
<line x1="170.60" y1="525.32" x2="173.40" y2="525.32" stroke="#111111" stroke-width="0.6"/>
<line x1="170.60" y1="528.96" x2="173.40" y2="528.96" stroke="#111111" stroke-width="0.6"/>
<path d="M57.60,455.00 L69.04,457.46 L80.48,458.65 L91.92,461.38 L103.36,461.38 L114.80,466.58 L126.24,468.41 L137.68,481.08 L149.12,487.65 L160.56,508.08 L172.00,527.14" fill="none" stroke="#111111" stroke-width="0.8"/>
<line x1="69.04" y1="446.79" x2="69.04" y2="457.74" stroke="#d4226e" stroke-width="0.6"/>
<line x1="67.64" y1="446.79" x2="70.44" y2="446.79" stroke="#d4226e" stroke-width="0.6"/>
<line x1="67.64" y1="457.74" x2="70.44" y2="457.74" stroke="#d4226e" stroke-width="0.6"/>
<line x1="80.48" y1="451.81" x2="80.48" y2="459.10" stroke="#d4226e" stroke-width="0.6"/>
<line x1="79.08" y1="451.81" x2="81.88" y2="451.81" stroke="#d4226e" stroke-width="0.6"/>
<line x1="79.08" y1="459.10" x2="81.88" y2="459.10" stroke="#d4226e" stroke-width="0.6"/>
<line x1="91.92" y1="450.71" x2="91.92" y2="458.01" stroke="#d4226e" stroke-width="0.6"/>
<line x1="90.52" y1="450.71" x2="93.32" y2="450.71" stroke="#d4226e" stroke-width="0.6"/>
<line x1="90.52" y1="458.01" x2="93.32" y2="458.01" stroke="#d4226e" stroke-width="0.6"/>
<line x1="103.36" y1="452.26" x2="103.36" y2="457.74" stroke="#d4226e" stroke-width="0.6"/>
<line x1="101.96" y1="452.26" x2="104.76" y2="452.26" stroke="#d4226e" stroke-width="0.6"/>
<line x1="101.96" y1="457.74" x2="104.76" y2="457.74" stroke="#d4226e" stroke-width="0.6"/>
<line x1="114.80" y1="456.55" x2="114.80" y2="462.02" stroke="#d4226e" stroke-width="0.6"/>
<line x1="113.40" y1="456.55" x2="116.20" y2="456.55" stroke="#d4226e" stroke-width="0.6"/>
<line x1="113.40" y1="462.02" x2="116.20" y2="462.02" stroke="#d4226e" stroke-width="0.6"/>
<line x1="126.24" y1="462.02" x2="126.24" y2="467.49" stroke="#d4226e" stroke-width="0.6"/>
<line x1="124.84" y1="462.02" x2="127.64" y2="462.02" stroke="#d4226e" stroke-width="0.6"/>
<line x1="124.84" y1="467.49" x2="127.64" y2="467.49" stroke="#d4226e" stroke-width="0.6"/>
<line x1="137.68" y1="471.69" x2="137.68" y2="477.16" stroke="#d4226e" stroke-width="0.6"/>
<line x1="136.28" y1="471.69" x2="139.08" y2="471.69" stroke="#d4226e" stroke-width="0.6"/>
<line x1="136.28" y1="477.16" x2="139.08" y2="477.16" stroke="#d4226e" stroke-width="0.6"/>
<line x1="149.12" y1="488.29" x2="149.12" y2="495.58" stroke="#d4226e" stroke-width="0.6"/>
<line x1="147.72" y1="488.29" x2="150.52" y2="488.29" stroke="#d4226e" stroke-width="0.6"/>
<line x1="147.72" y1="495.58" x2="150.52" y2="495.58" stroke="#d4226e" stroke-width="0.6"/>
<line x1="160.56" y1="501.88" x2="160.56" y2="507.35" stroke="#d4226e" stroke-width="0.6"/>
<line x1="159.16" y1="501.88" x2="161.96" y2="501.88" stroke="#d4226e" stroke-width="0.6"/>
<line x1="159.16" y1="507.35" x2="161.96" y2="507.35" stroke="#d4226e" stroke-width="0.6"/>
<line x1="172.00" y1="515.83" x2="172.00" y2="519.48" stroke="#d4226e" stroke-width="0.6"/>
<line x1="170.60" y1="515.83" x2="173.40" y2="515.83" stroke="#d4226e" stroke-width="0.6"/>
<line x1="170.60" y1="519.48" x2="173.40" y2="519.48" stroke="#d4226e" stroke-width="0.6"/>
<path d="M57.60,455.00 L69.04,452.26 L80.48,455.46 L91.92,454.36 L103.36,455.00 L114.80,459.29 L126.24,464.76 L137.68,474.43 L149.12,491.94 L160.56,504.61 L172.00,517.65" fill="none" stroke="#d4226e" stroke-width="0.8"/>
<circle cx="57.60" cy="455.00" r="2.30" fill="#92d2f2" stroke="#74c0e8" stroke-width="0.5"/>
<circle cx="69.04" cy="450.44" r="2.30" fill="#92d2f2" stroke="#74c0e8" stroke-width="0.5"/>
<circle cx="80.48" cy="450.90" r="2.30" fill="#92d2f2" stroke="#74c0e8" stroke-width="0.5"/>
<circle cx="91.92" cy="451.35" r="2.30" fill="#92d2f2" stroke="#74c0e8" stroke-width="0.5"/>
<circle cx="103.36" cy="451.81" r="2.30" fill="#92d2f2" stroke="#74c0e8" stroke-width="0.5"/>
<circle cx="114.80" cy="455.00" r="2.30" fill="#92d2f2" stroke="#74c0e8" stroke-width="0.5"/>
<circle cx="126.24" cy="456.82" r="2.30" fill="#92d2f2" stroke="#74c0e8" stroke-width="0.5"/>
<circle cx="137.68" cy="461.11" r="2.30" fill="#92d2f2" stroke="#74c0e8" stroke-width="0.5"/>
<circle cx="149.12" cy="465.94" r="2.30" fill="#92d2f2" stroke="#74c0e8" stroke-width="0.5"/>
<circle cx="160.56" cy="488.84" r="2.30" fill="#92d2f2" stroke="#74c0e8" stroke-width="0.5"/>
<circle cx="172.00" cy="523.86" r="2.30" fill="#92d2f2" stroke="#74c0e8" stroke-width="0.5"/>
<path d="M57.60,452.58 L60.02,456.98 L55.18,456.98 Z" fill="#8a73c4"/>
<path d="M69.04,468.08 L71.46,472.48 L66.62,472.48 Z" fill="#8a73c4"/>
<path d="M80.48,468.54 L82.90,472.94 L78.06,472.94 Z" fill="#8a73c4"/>
<path d="M91.92,468.54 L94.34,472.94 L89.50,472.94 Z" fill="#8a73c4"/>
<path d="M103.36,469.91 L105.78,474.31 L100.94,474.31 Z" fill="#8a73c4"/>
<path d="M114.80,473.19 L117.22,477.59 L112.38,477.59 Z" fill="#8a73c4"/>
<path d="M126.24,475.02 L128.66,479.42 L123.82,479.42 Z" fill="#8a73c4"/>
<path d="M137.68,485.87 L140.10,490.27 L135.26,490.27 Z" fill="#8a73c4"/>
<path d="M149.12,506.39 L151.54,510.79 L146.70,510.79 Z" fill="#8a73c4"/>
<path d="M160.56,524.72 L162.98,529.12 L158.14,529.12 Z" fill="#8a73c4"/>
<path d="M172.00,534.02 L174.42,538.42 L169.58,538.42 Z" fill="#8a73c4"/>
<path d="M57.60,452.36 L60.24,455.00 L57.60,457.64 L54.96,455.00 Z" fill="#33206a"/>
<path d="M69.04,465.58 L71.68,468.22 L69.04,470.86 L66.40,468.22 Z" fill="#33206a"/>
<path d="M80.48,464.67 L83.12,467.31 L80.48,469.95 L77.84,467.31 Z" fill="#33206a"/>
<path d="M91.92,465.13 L94.56,467.77 L91.92,470.41 L89.28,467.77 Z" fill="#33206a"/>
<path d="M103.36,465.58 L106.00,468.22 L103.36,470.86 L100.72,468.22 Z" fill="#33206a"/>
<path d="M114.80,468.78 L117.44,471.42 L114.80,474.06 L112.16,471.42 Z" fill="#33206a"/>
<path d="M126.24,473.52 L128.88,476.16 L126.24,478.80 L123.60,476.16 Z" fill="#33206a"/>
<path d="M137.68,479.90 L140.32,482.54 L137.68,485.18 L135.04,482.54 Z" fill="#33206a"/>
<path d="M149.12,487.47 L151.76,490.11 L149.12,492.75 L146.48,490.11 Z" fill="#33206a"/>
<path d="M160.56,506.99 L163.20,509.63 L160.56,512.27 L157.92,509.63 Z" fill="#33206a"/>
<path d="M172.00,523.77 L174.64,526.41 L172.00,529.05 L169.36,526.41 Z" fill="#33206a"/>
<path d="M57.60,457.42 L60.02,453.02 L55.18,453.02 Z" fill="#23889a"/>
<path d="M69.04,466.54 L71.46,462.14 L66.62,462.14 Z" fill="#23889a"/>
<path d="M80.48,466.54 L82.90,462.14 L78.06,462.14 Z" fill="#23889a"/>
<path d="M91.92,467.18 L94.34,462.78 L89.50,462.78 Z" fill="#23889a"/>
<path d="M103.36,466.90 L105.78,462.50 L100.94,462.50 Z" fill="#23889a"/>
<path d="M114.80,470.19 L117.22,465.79 L112.38,465.79 Z" fill="#23889a"/>
<path d="M126.24,472.92 L128.66,468.52 L123.82,468.52 Z" fill="#23889a"/>
<path d="M137.68,482.04 L140.10,477.64 L135.26,477.64 Z" fill="#23889a"/>
<path d="M149.12,488.43 L151.54,484.03 L146.70,484.03 Z" fill="#23889a"/>
<path d="M160.56,513.78 L162.98,509.38 L158.14,509.38 Z" fill="#23889a"/>
<path d="M172.00,526.28 L174.42,521.88 L169.58,521.88 Z" fill="#23889a"/>
<circle cx="57.60" cy="455.00" r="2.50" fill="#111111"/>
<circle cx="69.04" cy="457.46" r="2.50" fill="#111111"/>
<circle cx="80.48" cy="458.65" r="2.50" fill="#111111"/>
<circle cx="91.92" cy="461.38" r="2.50" fill="#111111"/>
<circle cx="103.36" cy="461.38" r="2.50" fill="#111111"/>
<circle cx="114.80" cy="466.58" r="2.50" fill="#111111"/>
<circle cx="126.24" cy="468.41" r="2.50" fill="#111111"/>
<circle cx="137.68" cy="481.08" r="2.50" fill="#111111"/>
<circle cx="149.12" cy="487.65" r="2.50" fill="#111111"/>
<circle cx="160.56" cy="508.08" r="2.50" fill="#111111"/>
<circle cx="172.00" cy="527.14" r="2.50" fill="#111111"/>
<rect x="55.62" y="453.02" width="3.96" height="3.96" fill="#d4226e"/>
<rect x="67.06" y="450.28" width="3.96" height="3.96" fill="#d4226e"/>
<rect x="78.50" y="453.48" width="3.96" height="3.96" fill="#d4226e"/>
<rect x="89.94" y="452.38" width="3.96" height="3.96" fill="#d4226e"/>
<rect x="101.38" y="453.02" width="3.96" height="3.96" fill="#d4226e"/>
<rect x="112.82" y="457.31" width="3.96" height="3.96" fill="#d4226e"/>
<rect x="124.26" y="462.78" width="3.96" height="3.96" fill="#d4226e"/>
<rect x="135.70" y="472.45" width="3.96" height="3.96" fill="#d4226e"/>
<rect x="147.14" y="489.96" width="3.96" height="3.96" fill="#d4226e"/>
<rect x="158.58" y="502.63" width="3.96" height="3.96" fill="#d4226e"/>
<rect x="170.02" y="515.67" width="3.96" height="3.96" fill="#d4226e"/>
<circle cx="57.60" cy="455.00" r="2.40" fill="#111"/>
<text x="91.90" y="590.90" font-size="6.2" fill="#222" font-weight="bold" textLength="30.20" lengthAdjust="spacingAndGlyphs">IC50 (nM)</text>
<text x="140.90" y="590.90" font-size="6.2" fill="#222" font-weight="bold" textLength="23.20" lengthAdjust="spacingAndGlyphs">95 % CI</text>
<line x1="38.00" y1="598.30" x2="52.90" y2="598.30" stroke="#111" stroke-width="1.3" opacity="0.8"/>
<circle cx="45.60" cy="598.30" r="2.30" fill="#111"/>
<text x="70.40" y="600.60" font-size="6.7" fill="#111" text-anchor="middle" font-weight="bold">697</text>
<text x="106.70" y="600.60" font-size="6.3" fill="#333" stroke="#333" stroke-width="0.1" text-anchor="middle">5689</text>
<text x="152.30" y="600.60" font-size="6.3" fill="#333" stroke="#333" stroke-width="0.1" text-anchor="middle">4899 - 6654</text>
<line x1="38.00" y1="607.70" x2="52.90" y2="607.70" stroke="#d4226e" stroke-width="1.3" opacity="0.8"/>
<rect x="43.80" y="605.90" width="3.60" height="3.60" fill="#d4226e"/>
<text x="70.40" y="610.00" font-size="6.7" fill="#111" text-anchor="middle" font-weight="bold">AT1</text>
<text x="106.70" y="610.00" font-size="6.3" fill="#333" stroke="#333" stroke-width="0.1" text-anchor="middle">7400</text>
<text x="152.30" y="610.00" font-size="6.3" fill="#333" stroke="#333" stroke-width="0.1" text-anchor="middle">6619 - 8310</text>
<line x1="38.00" y1="617.20" x2="52.90" y2="617.20" stroke="#1f8f86" stroke-width="1.3" opacity="0.8"/>
<path d="M45.60,619.40 L47.80,615.40 L43.40,615.40 Z" fill="#1f8f86"/>
<text x="70.40" y="619.50" font-size="6.7" fill="#111" text-anchor="middle" font-weight="bold">REH</text>
<text x="106.70" y="619.50" font-size="6.3" fill="#333" stroke="#333" stroke-width="0.1" text-anchor="middle">5881</text>
<text x="152.30" y="619.50" font-size="6.3" fill="#333" stroke="#333" stroke-width="0.1" text-anchor="middle">4939 - 7079</text>
<line x1="38.00" y1="626.60" x2="52.90" y2="626.60" stroke="#3b1d6e" stroke-width="1.3" opacity="0.8"/>
<path d="M45.60,624.20 L48.00,626.60 L45.60,629.00 L43.20,626.60 Z" fill="#3b1d6e"/>
<text x="70.40" y="628.90" font-size="6.7" fill="#111" text-anchor="middle" font-weight="bold">SEM</text>
<text x="106.70" y="628.90" font-size="6.3" fill="#333" stroke="#333" stroke-width="0.1" text-anchor="middle">8094</text>
<text x="152.30" y="628.90" font-size="6.3" fill="#333" stroke="#333" stroke-width="0.1" text-anchor="middle">5883 - 11707</text>
<line x1="38.00" y1="636.00" x2="52.90" y2="636.00" stroke="#8fd0f2" stroke-width="1.3" opacity="0.8"/>
<circle cx="45.60" cy="636.00" r="2.30" fill="#8fd0f2"/>
<text x="70.40" y="638.30" font-size="6.7" fill="#111" text-anchor="middle" font-weight="bold">TOM1</text>
<text x="106.70" y="638.30" font-size="6.3" fill="#333" stroke="#333" stroke-width="0.1" text-anchor="middle">14790</text>
<text x="152.30" y="638.30" font-size="6.3" fill="#333" stroke="#333" stroke-width="0.1" text-anchor="middle">13541 - 16190</text>
<line x1="38.00" y1="646.00" x2="52.90" y2="646.00" stroke="#8a73c4" stroke-width="1.3" opacity="0.8"/>
<path d="M45.60,643.80 L47.80,647.80 L43.40,647.80 Z" fill="#8a73c4"/>
<text x="70.40" y="648.30" font-size="6.7" fill="#111" text-anchor="middle" font-weight="bold">NALM6</text>
<text x="106.70" y="648.30" font-size="6.3" fill="#333" stroke="#333" stroke-width="0.1" text-anchor="middle">1906</text>
<text x="152.30" y="648.30" font-size="6.3" fill="#333" stroke="#333" stroke-width="0.1" text-anchor="middle">1646 - 2211</text>
<text x="230.10" y="423.20" font-size="10" fill="#111" font-weight="bold">F</text>
<rect x="239.40" y="431.60" width="55.70" height="16.90" fill="#8b7fc4" stroke="none" stroke-width="1"/>
<rect x="239.40" y="431.60" width="273.50" height="59.60" fill="none" stroke="#333" stroke-width="0.9"/>
<line x1="295.10" y1="431.60" x2="295.10" y2="491.20" stroke="#333" stroke-width="0.9"/>
<text x="266.90" y="438.60" font-size="6.4" fill="#fff" stroke="#fff" stroke-width="0.1" text-anchor="middle" textLength="43.90" lengthAdjust="spacingAndGlyphs">DUX4-r-13-PDX</text>
<text x="267.40" y="444.80" font-size="5.8" fill="#fff" stroke="#fff" stroke-width="0.1" text-anchor="middle" font-style="italic" textLength="18.50" lengthAdjust="spacingAndGlyphs">in vivo</text>
<text x="267.40" y="466.00" font-size="7.8" fill="#d3cbe6" stroke="#d3cbe6" stroke-width="0.1" text-anchor="middle" textLength="25.40" lengthAdjust="spacingAndGlyphs">Vehicle</text>
<text x="267.40" y="474.60" font-size="7.8" fill="#58b658" stroke="#58b658" stroke-width="0.1" text-anchor="middle" textLength="31.20" lengthAdjust="spacingAndGlyphs">Alpelisib</text>
<path d="M332,466.5 C324,468.5 317,462.5 311,462.5 C306,462.5 304,466 301.5,467.5" fill="none" stroke="#f0c4bb" stroke-width="1.5"/>
<line x1="342.00" y1="468.50" x2="344.80" y2="473.30" stroke="#c8c8c8" stroke-width="1.2"/>
<line x1="351.00" y1="468.50" x2="350.00" y2="472.50" stroke="#c8c8c8" stroke-width="1.2"/>
<line x1="357.50" y1="466.00" x2="359.50" y2="472.50" stroke="#c8c8c8" stroke-width="1.2"/>
<path d="M329.5,467 C328,461 331,455 337,453 C341,451.5 346,451.5 350,451 C353,449.5 356,449 359,450.5 C363,452 367,453.5 369.6,455.2 C367.5,457.5 364,459 361,459.5 C360,463 359,467 356,468.5 C350,470 342,470 337,469.5 C333,469 330.5,468.5 329.5,467 Z" fill="#e9e9e9" stroke="#c0c0c0" stroke-width="0.5"/>
<circle cx="357.20" cy="451.00" r="3.00" fill="#f2c9c4" stroke="#dcaaa8" stroke-width="0.4"/>
<circle cx="362.50" cy="454.30" r="0.60" fill="#333" stroke="none" stroke-width="0.5"/>
<g transform="translate(315.2,453.9) rotate(41.7)"><rect x="-9.3" y="-2.7" width="18.6" height="5.4" rx="0.8" fill="#fff" stroke="#1a1a1a" stroke-width="1.0"/><line x1="-5" y1="-2.7" x2="-5" y2="-0.3" stroke="#1a1a1a" stroke-width="0.6"/><line x1="-2" y1="-2.7" x2="-2" y2="-0.3" stroke="#1a1a1a" stroke-width="0.6"/><line x1="1" y1="-2.7" x2="1" y2="-0.3" stroke="#1a1a1a" stroke-width="0.6"/><line x1="4" y1="-2.7" x2="4" y2="-0.3" stroke="#1a1a1a" stroke-width="0.6"/><line x1="-9.3" y1="0" x2="-14" y2="0" stroke="#1a1a1a" stroke-width="1.4"/><rect x="-16.3" y="-3.2" width="2.3" height="6.4" rx="0.6" fill="#fff" stroke="#1a1a1a" stroke-width="0.9"/><rect x="9.3" y="-1.3" width="2.2" height="2.6" fill="#fff" stroke="#1a1a1a" stroke-width="0.7"/><line x1="11.5" y1="0" x2="17.5" y2="0" stroke="#1a1a1a" stroke-width="0.8"/></g>
<text x="322.70" y="485.80" font-size="6.4" fill="#333" stroke="#333" stroke-width="0.1" textLength="45.90" lengthAdjust="spacingAndGlyphs">n = 8 per group</text>
<line x1="390.80" y1="461.70" x2="499.10" y2="461.70" stroke="#222" stroke-width="1"/>
<line x1="390.80" y1="459.00" x2="390.80" y2="464.40" stroke="#222" stroke-width="1"/>
<line x1="444.60" y1="459.00" x2="444.60" y2="464.40" stroke="#222" stroke-width="1"/>
<line x1="499.10" y1="456.00" x2="499.10" y2="467.00" stroke="#222" stroke-width="1.1"/>
<text x="392.30" y="447.60" font-size="6.5" fill="#333" stroke="#333" stroke-width="0.1" text-anchor="middle">Tumor</text>
<text x="392.30" y="455.40" font-size="6.5" fill="#333" stroke="#333" stroke-width="0.1" text-anchor="middle">injection</text>
<text x="444.60" y="439.40" font-size="6.5" fill="#333" stroke="#333" stroke-width="0.1" text-anchor="middle">Start of</text>
<text x="444.60" y="447.20" font-size="6.5" fill="#333" stroke="#333" stroke-width="0.1" text-anchor="middle">treatment</text>
<text x="444.60" y="455.40" font-size="6.5" fill="#333" stroke="#333" stroke-width="0.1" text-anchor="middle">(5 days/week)</text>
<text x="499.00" y="444.60" font-size="6.5" fill="#333" stroke="#333" stroke-width="0.1" text-anchor="middle">End</text>
<text x="499.00" y="452.90" font-size="6.5" fill="#333" stroke="#333" stroke-width="0.1" text-anchor="middle">point</text>
<text x="392.30" y="476.00" font-size="6.5" fill="#333" stroke="#333" stroke-width="0.1" text-anchor="middle">Day</text>
<text x="392.30" y="483.80" font-size="6.5" fill="#333" stroke="#333" stroke-width="0.1" text-anchor="middle">0</text>
<text x="444.60" y="476.00" font-size="6.5" fill="#333" stroke="#333" stroke-width="0.1" text-anchor="middle">Day</text>
<text x="444.60" y="483.80" font-size="6.5" fill="#333" stroke="#333" stroke-width="0.1" text-anchor="middle">3</text>
<text x="499.00" y="476.00" font-size="6.5" fill="#333" stroke="#333" stroke-width="0.1" text-anchor="middle">Day</text>
<text x="499.00" y="483.80" font-size="6.5" fill="#333" stroke="#333" stroke-width="0.1" text-anchor="middle">21</text>
<text x="192.80" y="521.20" font-size="10" fill="#111" font-weight="bold">G</text>
<text x="270.00" y="530.20" font-size="7.4" fill="#222" stroke="#222" stroke-width="0.04" text-anchor="middle" textLength="58.40" lengthAdjust="spacingAndGlyphs">ALL cells in BM</text>
<line x1="246.00" y1="536.50" x2="246.00" y2="652.50" stroke="#333" stroke-width="1"/>
<line x1="245.50" y1="652.20" x2="292.70" y2="652.20" stroke="#333" stroke-width="1"/>
<line x1="243.60" y1="538.60" x2="246.00" y2="538.60" stroke="#333" stroke-width="0.8"/>
<text x="241.5" y="540.60" font-size="5.6" fill="#444" stroke="#444" stroke-width="0.06" text-anchor="end" textLength="27.8" lengthAdjust="spacingAndGlyphs">1.25×10<tspan font-size="3.8" dy="-2.0">5</tspan></text>
<line x1="243.60" y1="561.20" x2="246.00" y2="561.20" stroke="#333" stroke-width="0.8"/>
<text x="241.5" y="563.20" font-size="5.6" fill="#444" stroke="#444" stroke-width="0.06" text-anchor="end" textLength="27.8" lengthAdjust="spacingAndGlyphs">1.00×10<tspan font-size="3.8" dy="-2.0">5</tspan></text>
<line x1="243.60" y1="583.80" x2="246.00" y2="583.80" stroke="#333" stroke-width="0.8"/>
<text x="241.5" y="585.80" font-size="5.6" fill="#444" stroke="#444" stroke-width="0.06" text-anchor="end" textLength="27.8" lengthAdjust="spacingAndGlyphs">7.50×10<tspan font-size="3.8" dy="-2.0">4</tspan></text>
<line x1="243.60" y1="606.60" x2="246.00" y2="606.60" stroke="#333" stroke-width="0.8"/>
<text x="241.5" y="608.60" font-size="5.6" fill="#444" stroke="#444" stroke-width="0.06" text-anchor="end" textLength="27.8" lengthAdjust="spacingAndGlyphs">5.00×10<tspan font-size="3.8" dy="-2.0">4</tspan></text>
<line x1="243.60" y1="629.50" x2="246.00" y2="629.50" stroke="#333" stroke-width="0.8"/>
<text x="241.5" y="631.50" font-size="5.6" fill="#444" stroke="#444" stroke-width="0.06" text-anchor="end" textLength="27.8" lengthAdjust="spacingAndGlyphs">2.50×10<tspan font-size="3.8" dy="-2.0">4</tspan></text>
<line x1="243.60" y1="652.00" x2="246.00" y2="652.00" stroke="#333" stroke-width="0.8"/>
<text x="241.50" y="654.00" font-size="5.6" fill="#444" stroke="#444" stroke-width="0.1" text-anchor="end" textLength="14.50" lengthAdjust="spacingAndGlyphs">0.00</text>
<text transform="translate(207.34,594.70) rotate(-90)" font-size="7.4" fill="#333" text-anchor="middle" x="0" y="0" textLength="37.2" lengthAdjust="spacingAndGlyphs">Cell number</text>
<line x1="259.80" y1="543.80" x2="280.50" y2="543.80" stroke="#333" stroke-width="0.6"/>
<line x1="259.80" y1="543.50" x2="259.80" y2="547.00" stroke="#333" stroke-width="0.6"/>
<line x1="280.50" y1="543.50" x2="280.50" y2="547.00" stroke="#333" stroke-width="0.6"/>
<circle cx="280.40" cy="552.20" r="0.75" fill="#444" stroke="none" stroke-width="0.5"/>
<circle cx="280.40" cy="556.70" r="0.75" fill="#444" stroke="none" stroke-width="0.5"/>
<circle cx="280.40" cy="561.30" r="0.75" fill="#444" stroke="none" stroke-width="0.5"/>
<circle cx="280.40" cy="565.80" r="0.75" fill="#444" stroke="none" stroke-width="0.5"/>
<line x1="280.40" y1="567.50" x2="280.40" y2="609.00" stroke="#333" stroke-width="0.6"/>
<line x1="259.60" y1="569.40" x2="259.60" y2="597.00" stroke="#333" stroke-width="0.7"/>
<line x1="256.80" y1="569.40" x2="262.40" y2="569.40" stroke="#333" stroke-width="0.7"/>
<line x1="256.80" y1="597.00" x2="262.40" y2="597.00" stroke="#333" stroke-width="0.7"/>
<circle cx="259.50" cy="557.60" r="1.95" fill="#d6d6d6" stroke="#505050" stroke-width="0.8"/>
<circle cx="264.60" cy="574.00" r="1.95" fill="#d6d6d6" stroke="#505050" stroke-width="0.8"/>
<circle cx="255.00" cy="577.90" r="1.95" fill="#d6d6d6" stroke="#505050" stroke-width="0.8"/>
<circle cx="259.50" cy="582.50" r="1.95" fill="#d6d6d6" stroke="#505050" stroke-width="0.8"/>
<circle cx="255.00" cy="588.80" r="1.95" fill="#d6d6d6" stroke="#505050" stroke-width="0.8"/>
<circle cx="264.60" cy="587.90" r="1.95" fill="#d6d6d6" stroke="#505050" stroke-width="0.8"/>
<circle cx="264.60" cy="592.00" r="1.95" fill="#d6d6d6" stroke="#505050" stroke-width="0.8"/>
<circle cx="259.50" cy="604.20" r="1.95" fill="#d6d6d6" stroke="#505050" stroke-width="0.8"/>
<line x1="253.10" y1="583.00" x2="266.10" y2="583.00" stroke="#222" stroke-width="1.2"/>
<line x1="280.40" y1="623.80" x2="280.40" y2="642.20" stroke="#333" stroke-width="0.7"/>
<line x1="277.60" y1="623.80" x2="283.20" y2="623.80" stroke="#333" stroke-width="0.7"/>
<line x1="277.60" y1="642.20" x2="283.20" y2="642.20" stroke="#333" stroke-width="0.7"/>
<circle cx="280.30" cy="611.10" r="1.95" fill="#43a043" stroke="#17501a" stroke-width="0.8"/>
<circle cx="280.30" cy="618.00" r="1.95" fill="#43a043" stroke="#17501a" stroke-width="0.8"/>
<circle cx="280.30" cy="626.50" r="1.95" fill="#43a043" stroke="#17501a" stroke-width="0.8"/>
<circle cx="275.40" cy="629.60" r="1.95" fill="#43a043" stroke="#17501a" stroke-width="0.8"/>
<circle cx="285.20" cy="629.60" r="1.95" fill="#43a043" stroke="#17501a" stroke-width="0.8"/>
<circle cx="280.30" cy="633.70" r="1.95" fill="#43a043" stroke="#17501a" stroke-width="0.8"/>
<circle cx="280.30" cy="639.70" r="1.95" fill="#43a043" stroke="#17501a" stroke-width="0.8"/>
<circle cx="280.30" cy="650.40" r="1.95" fill="#43a043" stroke="#17501a" stroke-width="0.8"/>
<line x1="273.90" y1="629.60" x2="286.90" y2="629.60" stroke="#222" stroke-width="1.2"/>
<text x="315.60" y="520.60" font-size="10" fill="#111" font-weight="bold">H</text>
<text x="381.30" y="530.40" font-size="7.4" fill="#222" stroke="#222" stroke-width="0.04" text-anchor="middle" textLength="47.40" lengthAdjust="spacingAndGlyphs">AKT (pS473)</text>
<line x1="356.60" y1="537.00" x2="356.60" y2="652.80" stroke="#333" stroke-width="1"/>
<line x1="356.10" y1="652.50" x2="405.00" y2="652.50" stroke="#333" stroke-width="1"/>
<line x1="354.10" y1="539.20" x2="356.60" y2="539.20" stroke="#333" stroke-width="0.8"/>
<text x="351.00" y="541.30" font-size="6.0" fill="#444" stroke="#444" stroke-width="0.1" text-anchor="end">1600</text>
<line x1="354.10" y1="567.60" x2="356.60" y2="567.60" stroke="#333" stroke-width="0.8"/>
<text x="351.00" y="569.70" font-size="6.0" fill="#444" stroke="#444" stroke-width="0.1" text-anchor="end">1200</text>
<line x1="354.10" y1="596.00" x2="356.60" y2="596.00" stroke="#333" stroke-width="0.8"/>
<text x="351.00" y="598.10" font-size="6.0" fill="#444" stroke="#444" stroke-width="0.1" text-anchor="end">800</text>
<line x1="354.10" y1="624.20" x2="356.60" y2="624.20" stroke="#333" stroke-width="0.8"/>
<text x="351.00" y="626.30" font-size="6.0" fill="#444" stroke="#444" stroke-width="0.1" text-anchor="end">400</text>
<line x1="354.10" y1="652.50" x2="356.60" y2="652.50" stroke="#333" stroke-width="0.8"/>
<text x="351.00" y="654.60" font-size="6.0" fill="#444" stroke="#444" stroke-width="0.1" text-anchor="end">0</text>
<text transform="translate(331.91,594.10) rotate(-90)" font-size="7.0" fill="#333" text-anchor="middle" x="0" y="0" textLength="51.2" lengthAdjust="spacingAndGlyphs">gMFI (PE-CF594)</text>
<line x1="370.40" y1="541.00" x2="390.80" y2="541.00" stroke="#333" stroke-width="0.6"/>
<line x1="370.40" y1="540.70" x2="370.40" y2="544.40" stroke="#333" stroke-width="0.6"/>
<line x1="390.80" y1="543.50" x2="390.80" y2="545.30" stroke="#333" stroke-width="0.6"/>
<line x1="390.80" y1="547.00" x2="390.80" y2="548.80" stroke="#333" stroke-width="0.6"/>
<line x1="390.80" y1="550.50" x2="390.80" y2="552.30" stroke="#333" stroke-width="0.6"/>
<line x1="390.80" y1="554.00" x2="390.80" y2="555.80" stroke="#333" stroke-width="0.6"/>
<line x1="370.40" y1="559.20" x2="370.40" y2="579.20" stroke="#333" stroke-width="0.7"/>
<line x1="367.60" y1="559.20" x2="373.20" y2="559.20" stroke="#333" stroke-width="0.7"/>
<line x1="367.60" y1="579.20" x2="373.20" y2="579.20" stroke="#333" stroke-width="0.7"/>
<circle cx="370.40" cy="548.50" r="1.95" fill="#d6d6d6" stroke="#505050" stroke-width="0.8"/>
<circle cx="370.40" cy="564.30" r="1.95" fill="#d6d6d6" stroke="#505050" stroke-width="0.8"/>
<circle cx="365.30" cy="569.20" r="1.95" fill="#d6d6d6" stroke="#505050" stroke-width="0.8"/>
<circle cx="375.50" cy="567.40" r="1.95" fill="#d6d6d6" stroke="#505050" stroke-width="0.8"/>
<circle cx="370.40" cy="570.00" r="1.95" fill="#d6d6d6" stroke="#505050" stroke-width="0.8"/>
<circle cx="375.50" cy="572.80" r="1.95" fill="#d6d6d6" stroke="#505050" stroke-width="0.8"/>
<circle cx="370.40" cy="576.90" r="1.95" fill="#d6d6d6" stroke="#505050" stroke-width="0.8"/>
<circle cx="370.40" cy="583.50" r="1.95" fill="#d6d6d6" stroke="#505050" stroke-width="0.8"/>
<line x1="363.90" y1="569.20" x2="376.90" y2="569.20" stroke="#222" stroke-width="1.2"/>
<line x1="390.80" y1="573.00" x2="390.80" y2="598.00" stroke="#333" stroke-width="0.7"/>
<line x1="388.00" y1="573.00" x2="393.60" y2="573.00" stroke="#333" stroke-width="0.7"/>
<line x1="388.00" y1="598.00" x2="393.60" y2="598.00" stroke="#333" stroke-width="0.7"/>
<circle cx="390.80" cy="562.80" r="1.95" fill="#43a043" stroke="#17501a" stroke-width="0.8"/>
<circle cx="395.80" cy="576.20" r="1.95" fill="#43a043" stroke="#17501a" stroke-width="0.8"/>
<circle cx="390.80" cy="579.70" r="1.95" fill="#43a043" stroke="#17501a" stroke-width="0.8"/>
<circle cx="390.80" cy="585.40" r="1.95" fill="#43a043" stroke="#17501a" stroke-width="0.8"/>
<circle cx="385.80" cy="591.10" r="1.95" fill="#43a043" stroke="#17501a" stroke-width="0.8"/>
<circle cx="390.80" cy="593.10" r="1.95" fill="#43a043" stroke="#17501a" stroke-width="0.8"/>
<circle cx="395.80" cy="593.40" r="1.95" fill="#43a043" stroke="#17501a" stroke-width="0.8"/>
<circle cx="390.80" cy="598.20" r="1.95" fill="#43a043" stroke="#17501a" stroke-width="0.8"/>
<line x1="384.30" y1="584.90" x2="397.30" y2="584.90" stroke="#222" stroke-width="1.2"/>
<text x="426.20" y="521.40" font-size="10" fill="#111" font-weight="bold">I</text>
<text x="482.30" y="530.10" font-size="7.4" fill="#222" stroke="#222" stroke-width="0.04" text-anchor="middle" textLength="60.90" lengthAdjust="spacingAndGlyphs">mTOR (pS2448)</text>
<line x1="458.20" y1="535.60" x2="458.20" y2="652.50" stroke="#333" stroke-width="1"/>
<line x1="457.70" y1="652.20" x2="506.30" y2="652.20" stroke="#333" stroke-width="1"/>
<line x1="455.60" y1="538.10" x2="458.20" y2="538.10" stroke="#333" stroke-width="0.8"/>
<text x="453.00" y="540.20" font-size="6.0" fill="#444" stroke="#444" stroke-width="0.1" text-anchor="end">250</text>
<line x1="455.60" y1="560.90" x2="458.20" y2="560.90" stroke="#333" stroke-width="0.8"/>
<text x="453.00" y="563.00" font-size="6.0" fill="#444" stroke="#444" stroke-width="0.1" text-anchor="end">200</text>
<line x1="455.60" y1="583.70" x2="458.20" y2="583.70" stroke="#333" stroke-width="0.8"/>
<text x="453.00" y="585.80" font-size="6.0" fill="#444" stroke="#444" stroke-width="0.1" text-anchor="end">150</text>
<line x1="455.60" y1="606.50" x2="458.20" y2="606.50" stroke="#333" stroke-width="0.8"/>
<text x="453.00" y="608.60" font-size="6.0" fill="#444" stroke="#444" stroke-width="0.1" text-anchor="end">100</text>
<line x1="455.60" y1="629.30" x2="458.20" y2="629.30" stroke="#333" stroke-width="0.8"/>
<text x="453.00" y="631.40" font-size="6.0" fill="#444" stroke="#444" stroke-width="0.1" text-anchor="end">50</text>
<line x1="455.60" y1="652.20" x2="458.20" y2="652.20" stroke="#333" stroke-width="0.8"/>
<text x="453.00" y="654.30" font-size="6.0" fill="#444" stroke="#444" stroke-width="0.1" text-anchor="end">0</text>
<text transform="translate(437.61,593.90) rotate(-90)" font-size="7.0" fill="#333" text-anchor="middle" x="0" y="0" textLength="40.5" lengthAdjust="spacingAndGlyphs">gMFI (AF647)</text>
<line x1="472.50" y1="546.20" x2="492.80" y2="546.20" stroke="#333" stroke-width="0.6"/>
<line x1="472.50" y1="545.90" x2="472.50" y2="550.20" stroke="#333" stroke-width="0.6"/>
<circle cx="493.10" cy="547.50" r="0.60" fill="#444" stroke="none" stroke-width="0.5"/>
<circle cx="493.10" cy="551.00" r="0.60" fill="#444" stroke="none" stroke-width="0.5"/>
<circle cx="493.10" cy="554.50" r="0.60" fill="#444" stroke="none" stroke-width="0.5"/>
<circle cx="493.10" cy="558.00" r="0.60" fill="#444" stroke="none" stroke-width="0.5"/>
<line x1="472.50" y1="557.50" x2="472.50" y2="574.50" stroke="#333" stroke-width="0.7"/>
<line x1="469.70" y1="557.50" x2="475.30" y2="557.50" stroke="#333" stroke-width="0.7"/>
<line x1="469.70" y1="574.50" x2="475.30" y2="574.50" stroke="#333" stroke-width="0.7"/>
<circle cx="469.90" cy="557.00" r="1.95" fill="#d6d6d6" stroke="#505050" stroke-width="0.8"/>
<circle cx="475.00" cy="556.40" r="1.95" fill="#d6d6d6" stroke="#505050" stroke-width="0.8"/>
<circle cx="477.20" cy="562.00" r="1.95" fill="#d6d6d6" stroke="#505050" stroke-width="0.8"/>
<circle cx="467.60" cy="566.00" r="1.95" fill="#d6d6d6" stroke="#505050" stroke-width="0.8"/>
<circle cx="472.50" cy="567.70" r="1.95" fill="#d6d6d6" stroke="#505050" stroke-width="0.8"/>
<circle cx="477.80" cy="566.60" r="1.95" fill="#d6d6d6" stroke="#505050" stroke-width="0.8"/>
<circle cx="475.00" cy="575.10" r="1.95" fill="#d6d6d6" stroke="#505050" stroke-width="0.8"/>
<circle cx="469.90" cy="579.00" r="1.95" fill="#d6d6d6" stroke="#505050" stroke-width="0.8"/>
<line x1="466.00" y1="567.20" x2="479.00" y2="567.20" stroke="#222" stroke-width="1.2"/>
<line x1="493.10" y1="569.60" x2="493.10" y2="596.60" stroke="#333" stroke-width="0.7"/>
<line x1="490.30" y1="569.60" x2="495.90" y2="569.60" stroke="#333" stroke-width="0.7"/>
<line x1="490.30" y1="596.60" x2="495.90" y2="596.60" stroke="#333" stroke-width="0.7"/>
<circle cx="493.10" cy="565.50" r="1.95" fill="#43a043" stroke="#17501a" stroke-width="0.8"/>
<circle cx="493.10" cy="569.60" r="1.95" fill="#43a043" stroke="#17501a" stroke-width="0.8"/>
<circle cx="493.10" cy="576.20" r="1.95" fill="#43a043" stroke="#17501a" stroke-width="0.8"/>
<circle cx="493.10" cy="583.30" r="1.95" fill="#43a043" stroke="#17501a" stroke-width="0.8"/>
<circle cx="488.00" cy="587.50" r="1.95" fill="#43a043" stroke="#17501a" stroke-width="0.8"/>
<circle cx="498.20" cy="588.90" r="1.95" fill="#43a043" stroke="#17501a" stroke-width="0.8"/>
<circle cx="493.10" cy="591.10" r="1.95" fill="#43a043" stroke="#17501a" stroke-width="0.8"/>
<circle cx="493.10" cy="607.00" r="1.95" fill="#43a043" stroke="#17501a" stroke-width="0.8"/>
<line x1="486.60" y1="583.30" x2="499.60" y2="583.30" stroke="#222" stroke-width="1.2"/>
<rect x="0.00" y="0.00" width="520.00" height="1.10" fill="#5a5a5a" stroke="none" stroke-width="1"/>
<rect x="0.00" y="0.00" width="1.20" height="663.00" fill="#555" stroke="none" stroke-width="1"/>
<rect x="518.80" y="0.00" width="1.20" height="663.00" fill="#555" stroke="none" stroke-width="1"/>
<rect x="0.00" y="661.00" width="520.00" height="2.00" fill="#333" stroke="none" stroke-width="1"/>
</svg>
</body></html>
